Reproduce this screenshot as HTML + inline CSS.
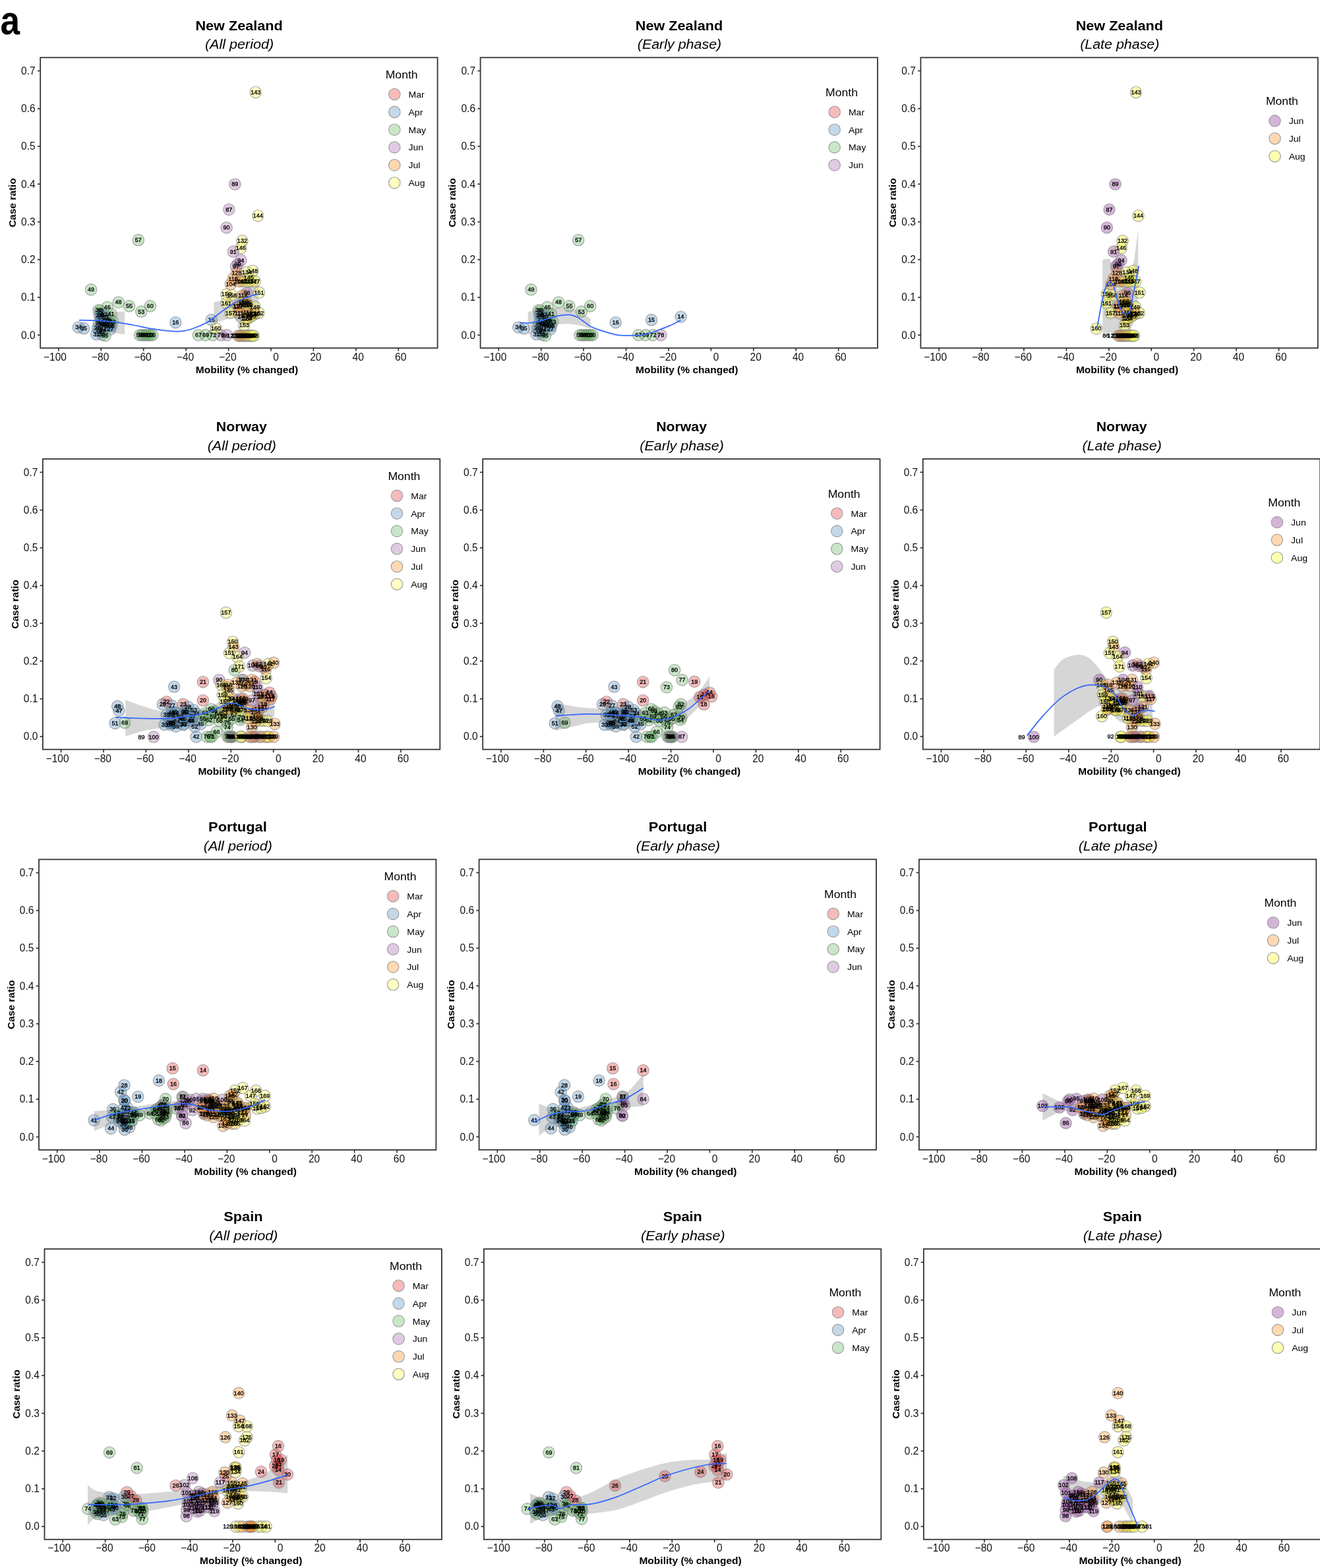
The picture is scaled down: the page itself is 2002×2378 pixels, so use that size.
<!DOCTYPE html><html><head><meta charset="utf-8"><title>Case ratio vs mobility</title>
<style>
html,body{margin:0;padding:0;background:#fff;}
svg{display:block;}
text{font-family:"Liberation Sans",Arial,sans-serif;fill:#000;}
.tt{font-weight:bold;font-size:21px;}
.st{font-style:italic;font-size:20px;}
.ax{font-size:15.8px;fill:#111;}
.at{font-weight:bold;font-size:15.5px;}
.lt{font-size:16px;}
.ll{font-size:13px;}
.pl text{font-size:9px;text-anchor:middle;fill:#000;stroke:#000;stroke-width:0.35px;}
.tk{stroke:#333;stroke-width:1.7;}
</style></head><body>
<svg width="2002" height="2378" viewBox="0 0 2002 2378">
<rect width="2002" height="2378" fill="#fff"/>
<text x="0.5" y="51.8" textLength="29.6" lengthAdjust="spacingAndGlyphs" style="font-weight:bold;font-size:62px">a</text>
<g transform="translate(61.2,87.3)">
<text class="tt" x="301.4" y="-41.3" text-anchor="middle" textLength="132.31" lengthAdjust="spacingAndGlyphs">New Zealand</text>
<text class="st" x="301.9" y="-13.5" text-anchor="middle" textLength="104.32" lengthAdjust="spacingAndGlyphs">(All period)</text>
<path d="M88.8,389.7 L111.4,385.8 L127.8,385.2 L127.8,419.8 L111.4,417.7 L88.8,412.7 Z" fill="#999999" fill-opacity="0.4" stroke="none"/>
<path d="M263.2,370.9 L278.8,367.7 L298.8,356.7 L318.8,344.7 L331.2,335.2 L331.2,386.2 L313.8,390.7 L298.8,394.7 L283.8,396.4 L263.2,403.2 Z" fill="#999999" fill-opacity="0.4" stroke="none"/>
<g stroke="#8a8a8a" stroke-opacity="0.75" stroke-width="1.1">
<circle cx="148.6" cy="276.8" r="8.7" fill="rgb(77,175,74)" fill-opacity="0.3"/>
<circle cx="76.9" cy="352.0" r="8.7" fill="rgb(77,175,74)" fill-opacity="0.3"/>
<circle cx="118.4" cy="371.2" r="8.7" fill="rgb(77,175,74)" fill-opacity="0.3"/>
<circle cx="134.8" cy="377.0" r="8.7" fill="rgb(77,175,74)" fill-opacity="0.3"/>
<circle cx="153.1" cy="385.3" r="8.7" fill="rgb(77,175,74)" fill-opacity="0.3"/>
<circle cx="166.6" cy="377.0" r="8.7" fill="rgb(77,175,74)" fill-opacity="0.3"/>
<circle cx="101.6" cy="378.4" r="8.7" fill="rgb(77,175,74)" fill-opacity="0.3"/>
<circle cx="88.4" cy="383.2" r="8.7" fill="rgb(77,175,74)" fill-opacity="0.3"/>
<circle cx="90.9" cy="383.7" r="8.7" fill="rgb(77,175,74)" fill-opacity="0.3"/>
<circle cx="57.7" cy="409.2" r="8.7" fill="rgb(55,126,184)" fill-opacity="0.3"/>
<circle cx="65.9" cy="410.8" r="8.7" fill="rgb(55,126,184)" fill-opacity="0.3"/>
<circle cx="205.1" cy="401.7" r="8.7" fill="rgb(55,126,184)" fill-opacity="0.3"/>
<circle cx="259.5" cy="397.8" r="8.7" fill="rgb(55,126,184)" fill-opacity="0.3"/>
<circle cx="304.0" cy="393.2" r="8.7" fill="rgb(55,126,184)" fill-opacity="0.3"/>
<circle cx="95.3" cy="404.4" r="8.7" fill="rgb(55,126,184)" fill-opacity="0.3"/>
<circle cx="95.2" cy="412.6" r="8.7" fill="rgb(55,126,184)" fill-opacity="0.3"/>
<circle cx="88.8" cy="403.0" r="8.7" fill="rgb(77,175,74)" fill-opacity="0.3"/>
<circle cx="99.1" cy="393.9" r="8.7" fill="rgb(55,126,184)" fill-opacity="0.3"/>
<circle cx="91.7" cy="391.2" r="8.7" fill="rgb(55,126,184)" fill-opacity="0.3"/>
<circle cx="99.6" cy="405.4" r="8.7" fill="rgb(55,126,184)" fill-opacity="0.3"/>
<circle cx="107.6" cy="407.0" r="8.7" fill="rgb(55,126,184)" fill-opacity="0.3"/>
<circle cx="100.0" cy="406.1" r="8.7" fill="rgb(77,175,74)" fill-opacity="0.3"/>
<circle cx="105.5" cy="405.5" r="8.7" fill="rgb(55,126,184)" fill-opacity="0.3"/>
<circle cx="92.2" cy="405.2" r="8.7" fill="rgb(55,126,184)" fill-opacity="0.3"/>
<circle cx="96.9" cy="406.6" r="8.7" fill="rgb(55,126,184)" fill-opacity="0.3"/>
<circle cx="100.1" cy="400.1" r="8.7" fill="rgb(55,126,184)" fill-opacity="0.3"/>
<circle cx="101.4" cy="397.5" r="8.7" fill="rgb(77,175,74)" fill-opacity="0.3"/>
<circle cx="96.7" cy="389.5" r="8.7" fill="rgb(55,126,184)" fill-opacity="0.3"/>
<circle cx="102.8" cy="399.9" r="8.7" fill="rgb(55,126,184)" fill-opacity="0.3"/>
<circle cx="93.7" cy="415.5" r="8.7" fill="rgb(55,126,184)" fill-opacity="0.3"/>
<circle cx="107.4" cy="388.8" r="8.7" fill="rgb(77,175,74)" fill-opacity="0.3"/>
<circle cx="109.8" cy="400.4" r="8.7" fill="rgb(77,175,74)" fill-opacity="0.3"/>
<circle cx="89.1" cy="412.9" r="8.7" fill="rgb(55,126,184)" fill-opacity="0.3"/>
<circle cx="86.9" cy="410.2" r="8.7" fill="rgb(55,126,184)" fill-opacity="0.3"/>
<circle cx="106.1" cy="411.9" r="8.7" fill="rgb(55,126,184)" fill-opacity="0.3"/>
<circle cx="85.0" cy="419.7" r="8.7" fill="rgb(55,126,184)" fill-opacity="0.3"/>
<circle cx="93.4" cy="420.2" r="8.7" fill="rgb(55,126,184)" fill-opacity="0.3"/>
<circle cx="98.3" cy="421.7" r="8.7" fill="rgb(77,175,74)" fill-opacity="0.3"/>
<circle cx="91.4" cy="397.7" r="8.7" fill="rgb(55,126,184)" fill-opacity="0.3"/>
<circle cx="89.4" cy="390.7" r="8.7" fill="rgb(55,126,184)" fill-opacity="0.3"/>
<circle cx="150.9" cy="421.0" r="8.7" fill="rgb(77,175,74)" fill-opacity="0.3"/>
<circle cx="154.1" cy="421.0" r="8.7" fill="rgb(77,175,74)" fill-opacity="0.3"/>
<circle cx="157.2" cy="421.0" r="8.7" fill="rgb(77,175,74)" fill-opacity="0.3"/>
<circle cx="160.4" cy="421.0" r="8.7" fill="rgb(77,175,74)" fill-opacity="0.3"/>
<circle cx="163.6" cy="421.0" r="8.7" fill="rgb(77,175,74)" fill-opacity="0.3"/>
<circle cx="166.7" cy="421.0" r="8.7" fill="rgb(77,175,74)" fill-opacity="0.3"/>
<circle cx="169.9" cy="421.0" r="8.7" fill="rgb(77,175,74)" fill-opacity="0.3"/>
<circle cx="239.7" cy="421.0" r="8.7" fill="rgb(77,175,74)" fill-opacity="0.3"/>
<circle cx="250.7" cy="421.0" r="8.7" fill="rgb(77,175,74)" fill-opacity="0.3"/>
<circle cx="261.8" cy="421.0" r="8.7" fill="rgb(77,175,74)" fill-opacity="0.3"/>
<circle cx="273.7" cy="421.0" r="8.7" fill="rgb(152,78,163)" fill-opacity="0.3"/>
<circle cx="326.5" cy="52.6" r="8.7" fill="rgb(255,255,51)" fill-opacity="0.3"/>
<circle cx="295.1" cy="192.1" r="8.7" fill="rgb(152,78,163)" fill-opacity="0.3"/>
<circle cx="286.1" cy="230.4" r="8.7" fill="rgb(152,78,163)" fill-opacity="0.3"/>
<circle cx="330.0" cy="239.9" r="8.7" fill="rgb(255,255,51)" fill-opacity="0.3"/>
<circle cx="282.4" cy="257.9" r="8.7" fill="rgb(152,78,163)" fill-opacity="0.3"/>
<circle cx="306.2" cy="278.0" r="8.7" fill="rgb(255,255,51)" fill-opacity="0.3"/>
<circle cx="304.1" cy="288.9" r="8.7" fill="rgb(255,255,51)" fill-opacity="0.3"/>
<circle cx="292.6" cy="294.3" r="8.7" fill="rgb(152,78,163)" fill-opacity="0.3"/>
<circle cx="304.1" cy="307.3" r="8.7" fill="rgb(152,78,163)" fill-opacity="0.3"/>
<circle cx="296.7" cy="316.8" r="8.7" fill="rgb(152,78,163)" fill-opacity="0.3"/>
<circle cx="299.4" cy="313.4" r="8.7" fill="rgb(152,78,163)" fill-opacity="0.3"/>
<circle cx="297.8" cy="326.4" r="8.7" fill="rgb(255,127,0)" fill-opacity="0.3"/>
<circle cx="313.3" cy="325.8" r="8.7" fill="rgb(255,255,51)" fill-opacity="0.3"/>
<circle cx="322.2" cy="323.4" r="8.7" fill="rgb(255,255,51)" fill-opacity="0.3"/>
<circle cx="316.2" cy="333.6" r="8.7" fill="rgb(255,255,51)" fill-opacity="0.3"/>
<circle cx="292.4" cy="335.4" r="8.7" fill="rgb(255,127,0)" fill-opacity="0.3"/>
<circle cx="288.8" cy="343.7" r="8.7" fill="rgb(255,127,0)" fill-opacity="0.3"/>
<circle cx="301.6" cy="339.5" r="8.7" fill="rgb(255,127,0)" fill-opacity="0.3"/>
<circle cx="306.4" cy="339.5" r="8.7" fill="rgb(255,127,0)" fill-opacity="0.3"/>
<circle cx="311.2" cy="339.5" r="8.7" fill="rgb(255,255,51)" fill-opacity="0.3"/>
<circle cx="316.0" cy="339.5" r="8.7" fill="rgb(255,255,51)" fill-opacity="0.3"/>
<circle cx="320.8" cy="339.5" r="8.7" fill="rgb(255,255,51)" fill-opacity="0.3"/>
<circle cx="325.6" cy="339.5" r="8.7" fill="rgb(255,255,51)" fill-opacity="0.3"/>
<circle cx="331.8" cy="356.3" r="8.7" fill="rgb(255,255,51)" fill-opacity="0.3"/>
<circle cx="282.2" cy="359.2" r="8.7" fill="rgb(255,255,51)" fill-opacity="0.3"/>
<circle cx="290.6" cy="360.4" r="8.7" fill="rgb(255,255,51)" fill-opacity="0.3"/>
<circle cx="313.3" cy="356.9" r="8.7" fill="rgb(152,78,163)" fill-opacity="0.3"/>
<circle cx="307.3" cy="360.4" r="8.7" fill="rgb(255,127,0)" fill-opacity="0.3"/>
<circle cx="282.2" cy="372.4" r="8.7" fill="rgb(255,255,51)" fill-opacity="0.3"/>
<circle cx="299.2" cy="377.0" r="8.7" fill="rgb(255,127,0)" fill-opacity="0.3"/>
<circle cx="309.6" cy="374.4" r="8.7" fill="rgb(255,255,51)" fill-opacity="0.3"/>
<circle cx="300.4" cy="378.2" r="8.7" fill="rgb(255,127,0)" fill-opacity="0.3"/>
<circle cx="313.4" cy="374.8" r="8.7" fill="rgb(255,255,51)" fill-opacity="0.3"/>
<circle cx="306.7" cy="371.5" r="8.7" fill="rgb(255,127,0)" fill-opacity="0.3"/>
<circle cx="308.5" cy="369.5" r="8.7" fill="rgb(255,255,51)" fill-opacity="0.3"/>
<circle cx="313.1" cy="371.5" r="8.7" fill="rgb(255,127,0)" fill-opacity="0.3"/>
<circle cx="314.9" cy="376.1" r="8.7" fill="rgb(255,255,51)" fill-opacity="0.3"/>
<circle cx="325.2" cy="378.3" r="8.7" fill="rgb(255,255,51)" fill-opacity="0.3"/>
<circle cx="331.2" cy="387.3" r="8.7" fill="rgb(255,255,51)" fill-opacity="0.3"/>
<circle cx="325.6" cy="388.7" r="8.7" fill="rgb(255,127,0)" fill-opacity="0.3"/>
<circle cx="288.2" cy="387.3" r="8.7" fill="rgb(255,255,51)" fill-opacity="0.3"/>
<circle cx="301.4" cy="387.9" r="8.7" fill="rgb(255,127,0)" fill-opacity="0.3"/>
<circle cx="313.5" cy="390.2" r="8.7" fill="rgb(255,255,51)" fill-opacity="0.3"/>
<circle cx="319.7" cy="389.0" r="8.7" fill="rgb(255,127,0)" fill-opacity="0.3"/>
<circle cx="321.5" cy="389.9" r="8.7" fill="rgb(255,255,51)" fill-opacity="0.3"/>
<circle cx="312.2" cy="396.0" r="8.7" fill="rgb(255,127,0)" fill-opacity="0.3"/>
<circle cx="314.4" cy="395.9" r="8.7" fill="rgb(255,255,51)" fill-opacity="0.3"/>
<circle cx="315.0" cy="387.2" r="8.7" fill="rgb(255,127,0)" fill-opacity="0.3"/>
<circle cx="319.5" cy="392.6" r="8.7" fill="rgb(255,255,51)" fill-opacity="0.3"/>
<circle cx="309.1" cy="405.8" r="8.7" fill="rgb(255,255,51)" fill-opacity="0.3"/>
<circle cx="266.4" cy="411.1" r="8.7" fill="rgb(255,255,51)" fill-opacity="0.3"/>
<circle cx="300.1" cy="421.9" r="8.7" fill="rgb(255,127,0)" fill-opacity="0.3"/>
<circle cx="302.4" cy="421.9" r="8.7" fill="rgb(255,127,0)" fill-opacity="0.3"/>
<circle cx="304.8" cy="421.9" r="8.7" fill="rgb(255,127,0)" fill-opacity="0.3"/>
<circle cx="307.1" cy="421.9" r="8.7" fill="rgb(255,127,0)" fill-opacity="0.3"/>
<circle cx="309.5" cy="421.9" r="8.7" fill="rgb(255,255,51)" fill-opacity="0.3"/>
<circle cx="311.8" cy="421.9" r="8.7" fill="rgb(255,127,0)" fill-opacity="0.3"/>
<circle cx="314.2" cy="421.9" r="8.7" fill="rgb(255,255,51)" fill-opacity="0.3"/>
<circle cx="316.5" cy="421.9" r="8.7" fill="rgb(255,255,51)" fill-opacity="0.3"/>
<circle cx="318.9" cy="421.9" r="8.7" fill="rgb(255,255,51)" fill-opacity="0.3"/>
<circle cx="321.2" cy="421.9" r="8.7" fill="rgb(255,255,51)" fill-opacity="0.3"/>
<circle cx="323.6" cy="421.9" r="8.7" fill="rgb(255,255,51)" fill-opacity="0.3"/>
<circle cx="282.8" cy="421.0" r="8.7" fill="rgb(152,78,163)" fill-opacity="0.3"/>
</g>
<g class="pl">
<text x="148.6" y="279.8">57</text>
<text x="76.9" y="355.0">49</text>
<text x="118.4" y="374.2">48</text>
<text x="134.8" y="380.0">55</text>
<text x="153.1" y="388.3">53</text>
<text x="166.6" y="380.0">60</text>
<text x="101.6" y="381.4">46</text>
<text x="88.4" y="386.2">38</text>
<text x="90.9" y="386.7">39</text>
<text x="57.7" y="412.2">34</text>
<text x="65.9" y="413.8">35</text>
<text x="205.1" y="404.7">16</text>
<text x="259.5" y="400.8">15</text>
<text x="304.0" y="396.2">14</text>
<text x="95.3" y="407.4">69</text>
<text x="95.2" y="415.6">34</text>
<text x="88.8" y="406.0">90</text>
<text x="99.1" y="396.9">67</text>
<text x="91.7" y="394.2">98</text>
<text x="99.6" y="408.4">60</text>
<text x="107.6" y="410.0">88</text>
<text x="100.0" y="409.1">77</text>
<text x="105.5" y="408.5">69</text>
<text x="92.2" y="408.2">35</text>
<text x="96.9" y="409.6">73</text>
<text x="100.1" y="403.1">80</text>
<text x="101.4" y="400.5">39</text>
<text x="96.7" y="392.5">82</text>
<text x="102.8" y="402.9">47</text>
<text x="93.7" y="418.5">97</text>
<text x="107.4" y="391.8">41</text>
<text x="109.8" y="403.4">43</text>
<text x="89.1" y="415.9">20</text>
<text x="86.9" y="413.2">28</text>
<text x="106.1" y="414.9">27</text>
<text x="85.0" y="422.7">31</text>
<text x="93.4" y="423.2">30</text>
<text x="98.3" y="424.7">65</text>
<text x="91.4" y="400.7">22</text>
<text x="89.4" y="393.7">25</text>
<text x="150.9" y="424.0">56</text>
<text x="154.1" y="424.0">58</text>
<text x="157.2" y="424.0">59</text>
<text x="160.4" y="424.0">61</text>
<text x="163.6" y="424.0">62</text>
<text x="166.7" y="424.0">63</text>
<text x="169.9" y="424.0">66</text>
<text x="239.7" y="424.0">67</text>
<text x="250.7" y="424.0">69</text>
<text x="261.8" y="424.0">72</text>
<text x="273.7" y="424.0">78</text>
<text x="326.5" y="55.6">143</text>
<text x="295.1" y="195.1">89</text>
<text x="286.1" y="233.4">87</text>
<text x="330.0" y="242.9">144</text>
<text x="282.4" y="260.9">90</text>
<text x="306.2" y="281.0">132</text>
<text x="304.1" y="291.9">146</text>
<text x="292.6" y="297.3">91</text>
<text x="304.1" y="310.3">94</text>
<text x="296.7" y="319.8">97</text>
<text x="299.4" y="316.4">99</text>
<text x="297.8" y="329.4">128</text>
<text x="313.3" y="328.8">134</text>
<text x="322.2" y="326.4">148</text>
<text x="316.2" y="336.6">145</text>
<text x="292.4" y="338.4">118</text>
<text x="288.8" y="346.7">104</text>
<text x="301.6" y="342.5">106</text>
<text x="306.4" y="342.5">105</text>
<text x="311.2" y="342.5">135</text>
<text x="316.0" y="342.5">139</text>
<text x="320.8" y="342.5">137</text>
<text x="325.6" y="342.5">147</text>
<text x="331.8" y="359.3">151</text>
<text x="282.2" y="362.2">159</text>
<text x="290.6" y="363.4">158</text>
<text x="313.3" y="359.9">96</text>
<text x="307.3" y="363.4">114</text>
<text x="282.2" y="375.4">161</text>
<text x="299.2" y="380.0">110</text>
<text x="309.6" y="377.4">152</text>
<text x="300.4" y="381.2">127</text>
<text x="313.4" y="377.8">155</text>
<text x="306.7" y="374.5">112</text>
<text x="308.5" y="372.5">163</text>
<text x="313.1" y="374.5">125</text>
<text x="314.9" y="379.1">150</text>
<text x="325.2" y="381.3">149</text>
<text x="331.2" y="390.3">162</text>
<text x="325.6" y="391.7">120</text>
<text x="288.2" y="390.3">157</text>
<text x="301.4" y="390.9">111</text>
<text x="313.5" y="393.2">164</text>
<text x="319.7" y="392.0">117</text>
<text x="321.5" y="392.9">156</text>
<text x="312.2" y="399.0">123</text>
<text x="314.4" y="398.9">154</text>
<text x="315.0" y="390.2">119</text>
<text x="319.5" y="395.6">165</text>
<text x="309.1" y="408.8">153</text>
<text x="266.4" y="414.1">160</text>
<text x="280.9" y="424.9">86</text>
<text x="300.1" y="424.9">12</text>
<text x="302.4" y="424.9">108</text>
<text x="304.8" y="424.9">113</text>
<text x="307.1" y="424.9">116</text>
<text x="309.5" y="424.9">138</text>
<text x="311.8" y="424.9">121</text>
<text x="314.2" y="424.9">140</text>
<text x="316.5" y="424.9">141</text>
<text x="318.9" y="424.9">166</text>
<text x="321.2" y="424.9">167</text>
<text x="323.6" y="424.9">168</text>
<text x="288.1" y="424.9">12</text>
<text x="296.6" y="424.9">179</text>
<text x="298.8" y="424.9">132</text>
<text x="301.0" y="424.9">145</text>
<text x="303.2" y="424.9">188</text>
<text x="305.4" y="424.9">183</text>
<text x="307.6" y="424.9">167</text>
<text x="309.8" y="424.9">103</text>
<text x="312.0" y="424.9">159</text>
<text x="314.2" y="424.9">131</text>
<text x="316.4" y="424.9">183</text>
<text x="318.6" y="424.9">106</text>
<text x="320.8" y="424.9">120</text>
</g>
<path d="M59.0,398.3 C63.2,398.4 75.3,398.4 84.2,398.9 C93.1,399.4 103.1,400.0 112.5,401.1 C121.9,402.2 131.4,404.0 140.8,405.7 C150.2,407.4 158.8,409.7 169.2,411.3 C179.6,412.9 194.7,414.8 203.2,415.3 C211.7,415.8 215.0,415.1 220.2,414.2 C225.4,413.3 228.8,412.1 234.3,410.0 C239.8,407.9 247.3,404.8 253.0,401.5 C258.7,398.2 262.9,394.5 268.3,390.5 C273.7,386.5 279.6,381.4 285.3,377.7 C291.0,374.0 296.6,371.1 302.3,368.4 C308.0,365.7 314.5,363.2 319.3,361.6 C324.1,360.0 329.2,359.1 331.2,358.6" fill="none" stroke="#3366FF" stroke-width="1.7"/>
<rect x="0" y="0" width="602.4" height="440.5" fill="none" stroke="#333" stroke-width="1.8"/>
<line x1="-4.3" x2="0" y1="420.9" y2="420.9" class="tk"/>
<text class="ax" x="-7.6" y="426.3" text-anchor="end" textLength="21.55" lengthAdjust="spacingAndGlyphs">0.0</text>
<line x1="-4.3" x2="0" y1="363.7" y2="363.7" class="tk"/>
<text class="ax" x="-7.6" y="369.1" text-anchor="end" textLength="21.55" lengthAdjust="spacingAndGlyphs">0.1</text>
<line x1="-4.3" x2="0" y1="306.4" y2="306.4" class="tk"/>
<text class="ax" x="-7.6" y="311.8" text-anchor="end" textLength="21.55" lengthAdjust="spacingAndGlyphs">0.2</text>
<line x1="-4.3" x2="0" y1="249.2" y2="249.2" class="tk"/>
<text class="ax" x="-7.6" y="254.6" text-anchor="end" textLength="21.55" lengthAdjust="spacingAndGlyphs">0.3</text>
<line x1="-4.3" x2="0" y1="191.9" y2="191.9" class="tk"/>
<text class="ax" x="-7.6" y="197.3" text-anchor="end" textLength="21.55" lengthAdjust="spacingAndGlyphs">0.4</text>
<line x1="-4.3" x2="0" y1="134.7" y2="134.7" class="tk"/>
<text class="ax" x="-7.6" y="140.1" text-anchor="end" textLength="21.55" lengthAdjust="spacingAndGlyphs">0.5</text>
<line x1="-4.3" x2="0" y1="77.5" y2="77.5" class="tk"/>
<text class="ax" x="-7.6" y="82.9" text-anchor="end" textLength="21.55" lengthAdjust="spacingAndGlyphs">0.6</text>
<line x1="-4.3" x2="0" y1="20.2" y2="20.2" class="tk"/>
<text class="ax" x="-7.6" y="25.6" text-anchor="end" textLength="21.55" lengthAdjust="spacingAndGlyphs">0.7</text>
<line x1="27.7" x2="27.7" y1="440.5" y2="445.1" class="tk"/>
<text class="ax" x="39.7" y="459.4" text-anchor="end" textLength="34.91" lengthAdjust="spacingAndGlyphs">−100</text>
<line x1="92.1" x2="92.1" y1="440.5" y2="445.1" class="tk"/>
<text class="ax" x="104.1" y="459.4" text-anchor="end" textLength="26.29" lengthAdjust="spacingAndGlyphs">−80</text>
<line x1="156.5" x2="156.5" y1="440.5" y2="445.1" class="tk"/>
<text class="ax" x="168.5" y="459.4" text-anchor="end" textLength="26.29" lengthAdjust="spacingAndGlyphs">−60</text>
<line x1="221.0" x2="221.0" y1="440.5" y2="445.1" class="tk"/>
<text class="ax" x="233.0" y="459.4" text-anchor="end" textLength="26.29" lengthAdjust="spacingAndGlyphs">−40</text>
<line x1="285.4" x2="285.4" y1="440.5" y2="445.1" class="tk"/>
<text class="ax" x="297.4" y="459.4" text-anchor="end" textLength="26.29" lengthAdjust="spacingAndGlyphs">−20</text>
<line x1="349.8" x2="349.8" y1="440.5" y2="445.1" class="tk"/>
<text class="ax" x="361.8" y="459.4" text-anchor="end" textLength="8.62" lengthAdjust="spacingAndGlyphs">0</text>
<line x1="414.2" x2="414.2" y1="440.5" y2="445.1" class="tk"/>
<text class="ax" x="426.2" y="459.4" text-anchor="end" textLength="17.24" lengthAdjust="spacingAndGlyphs">20</text>
<line x1="478.6" x2="478.6" y1="440.5" y2="445.1" class="tk"/>
<text class="ax" x="490.6" y="459.4" text-anchor="end" textLength="17.24" lengthAdjust="spacingAndGlyphs">40</text>
<line x1="543.1" x2="543.1" y1="440.5" y2="445.1" class="tk"/>
<text class="ax" x="555.1" y="459.4" text-anchor="end" textLength="17.24" lengthAdjust="spacingAndGlyphs">60</text>
<text class="at" x="313.2" y="478.4" text-anchor="middle" textLength="155.36" lengthAdjust="spacingAndGlyphs">Mobility (% changed)</text>
<text class="at" transform="translate(-37.2,220.2) rotate(-90)" text-anchor="middle" textLength="74.70" lengthAdjust="spacingAndGlyphs">Case ratio</text>
<text class="lt" x="523.5" y="31.7" textLength="48.93" lengthAdjust="spacingAndGlyphs">Month</text>
<circle cx="537.1" cy="55.7" r="8.7" fill="rgb(228,26,28)" fill-opacity="0.3" stroke="#a0a0a0" stroke-width="1.2"/>
<text class="ll" x="558.3" y="60.7" textLength="24.18" lengthAdjust="spacingAndGlyphs">Mar</text>
<circle cx="537.1" cy="82.6" r="8.7" fill="rgb(55,126,184)" fill-opacity="0.3" stroke="#a0a0a0" stroke-width="1.2"/>
<text class="ll" x="558.3" y="87.6" textLength="21.85" lengthAdjust="spacingAndGlyphs">Apr</text>
<circle cx="537.1" cy="109.4" r="8.7" fill="rgb(77,175,74)" fill-opacity="0.3" stroke="#a0a0a0" stroke-width="1.2"/>
<text class="ll" x="558.3" y="114.4" textLength="26.52" lengthAdjust="spacingAndGlyphs">May</text>
<circle cx="537.1" cy="136.2" r="8.7" fill="rgb(152,78,163)" fill-opacity="0.3" stroke="#a0a0a0" stroke-width="1.2"/>
<text class="ll" x="558.3" y="141.2" textLength="22.64" lengthAdjust="spacingAndGlyphs">Jun</text>
<circle cx="537.1" cy="163.1" r="8.7" fill="rgb(255,127,0)" fill-opacity="0.3" stroke="#a0a0a0" stroke-width="1.2"/>
<text class="ll" x="558.3" y="168.1" textLength="17.95" lengthAdjust="spacingAndGlyphs">Jul</text>
<circle cx="537.1" cy="189.9" r="8.7" fill="rgb(255,255,51)" fill-opacity="0.3" stroke="#a0a0a0" stroke-width="1.2"/>
<text class="ll" x="558.3" y="194.9" textLength="24.98" lengthAdjust="spacingAndGlyphs">Aug</text>
</g>
<g transform="translate(728.6,87.3)">
<text class="tt" x="301.4" y="-41.3" text-anchor="middle" textLength="132.31" lengthAdjust="spacingAndGlyphs">New Zealand</text>
<text class="st" x="301.9" y="-13.5" text-anchor="middle" textLength="127.51" lengthAdjust="spacingAndGlyphs">(Early phase)</text>
<path d="M72.1,385.7 C74.5,385.2 81.5,383.5 86.4,382.7 C91.3,381.9 95.6,381.4 101.4,380.7 C107.2,380.0 115.9,378.9 121.4,378.7 C126.9,378.5 129.4,378.5 134.4,379.7 C139.4,380.9 145.9,382.9 151.4,385.7 C156.8,388.5 164.5,394.7 167.1,396.5 L167.1,411.2 C164.5,410.4 156.8,407.9 151.4,406.7 C145.9,405.5 141.1,404.2 134.4,404.0 C127.7,403.8 118.6,404.2 111.4,405.7 C104.2,407.1 97.9,410.2 91.4,412.7 C84.8,415.1 75.3,419.1 72.1,420.4 Z" fill="#999999" fill-opacity="0.4" stroke="none"/>
<g stroke="#8a8a8a" stroke-opacity="0.75" stroke-width="1.1">
<circle cx="148.6" cy="276.8" r="8.7" fill="rgb(77,175,74)" fill-opacity="0.3"/>
<circle cx="76.9" cy="352.0" r="8.7" fill="rgb(77,175,74)" fill-opacity="0.3"/>
<circle cx="118.4" cy="371.2" r="8.7" fill="rgb(77,175,74)" fill-opacity="0.3"/>
<circle cx="134.8" cy="377.0" r="8.7" fill="rgb(77,175,74)" fill-opacity="0.3"/>
<circle cx="153.1" cy="385.3" r="8.7" fill="rgb(77,175,74)" fill-opacity="0.3"/>
<circle cx="166.6" cy="377.0" r="8.7" fill="rgb(77,175,74)" fill-opacity="0.3"/>
<circle cx="101.6" cy="378.4" r="8.7" fill="rgb(77,175,74)" fill-opacity="0.3"/>
<circle cx="88.4" cy="383.2" r="8.7" fill="rgb(77,175,74)" fill-opacity="0.3"/>
<circle cx="90.9" cy="383.7" r="8.7" fill="rgb(77,175,74)" fill-opacity="0.3"/>
<circle cx="57.7" cy="409.2" r="8.7" fill="rgb(55,126,184)" fill-opacity="0.3"/>
<circle cx="65.9" cy="410.8" r="8.7" fill="rgb(55,126,184)" fill-opacity="0.3"/>
<circle cx="205.1" cy="401.7" r="8.7" fill="rgb(55,126,184)" fill-opacity="0.3"/>
<circle cx="259.5" cy="397.8" r="8.7" fill="rgb(55,126,184)" fill-opacity="0.3"/>
<circle cx="304.0" cy="393.2" r="8.7" fill="rgb(55,126,184)" fill-opacity="0.3"/>
<circle cx="95.3" cy="404.4" r="8.7" fill="rgb(55,126,184)" fill-opacity="0.3"/>
<circle cx="95.2" cy="412.6" r="8.7" fill="rgb(55,126,184)" fill-opacity="0.3"/>
<circle cx="88.8" cy="403.0" r="8.7" fill="rgb(77,175,74)" fill-opacity="0.3"/>
<circle cx="99.1" cy="393.9" r="8.7" fill="rgb(55,126,184)" fill-opacity="0.3"/>
<circle cx="91.7" cy="391.2" r="8.7" fill="rgb(55,126,184)" fill-opacity="0.3"/>
<circle cx="99.6" cy="405.4" r="8.7" fill="rgb(55,126,184)" fill-opacity="0.3"/>
<circle cx="107.6" cy="407.0" r="8.7" fill="rgb(55,126,184)" fill-opacity="0.3"/>
<circle cx="100.0" cy="406.1" r="8.7" fill="rgb(77,175,74)" fill-opacity="0.3"/>
<circle cx="105.5" cy="405.5" r="8.7" fill="rgb(55,126,184)" fill-opacity="0.3"/>
<circle cx="92.2" cy="405.2" r="8.7" fill="rgb(55,126,184)" fill-opacity="0.3"/>
<circle cx="96.9" cy="406.6" r="8.7" fill="rgb(55,126,184)" fill-opacity="0.3"/>
<circle cx="100.1" cy="400.1" r="8.7" fill="rgb(55,126,184)" fill-opacity="0.3"/>
<circle cx="101.4" cy="397.5" r="8.7" fill="rgb(77,175,74)" fill-opacity="0.3"/>
<circle cx="96.7" cy="389.5" r="8.7" fill="rgb(55,126,184)" fill-opacity="0.3"/>
<circle cx="102.8" cy="399.9" r="8.7" fill="rgb(55,126,184)" fill-opacity="0.3"/>
<circle cx="93.7" cy="415.5" r="8.7" fill="rgb(55,126,184)" fill-opacity="0.3"/>
<circle cx="107.4" cy="388.8" r="8.7" fill="rgb(77,175,74)" fill-opacity="0.3"/>
<circle cx="109.8" cy="400.4" r="8.7" fill="rgb(77,175,74)" fill-opacity="0.3"/>
<circle cx="89.1" cy="412.9" r="8.7" fill="rgb(55,126,184)" fill-opacity="0.3"/>
<circle cx="86.9" cy="410.2" r="8.7" fill="rgb(55,126,184)" fill-opacity="0.3"/>
<circle cx="106.1" cy="411.9" r="8.7" fill="rgb(55,126,184)" fill-opacity="0.3"/>
<circle cx="85.0" cy="419.7" r="8.7" fill="rgb(55,126,184)" fill-opacity="0.3"/>
<circle cx="93.4" cy="420.2" r="8.7" fill="rgb(55,126,184)" fill-opacity="0.3"/>
<circle cx="98.3" cy="421.7" r="8.7" fill="rgb(77,175,74)" fill-opacity="0.3"/>
<circle cx="91.4" cy="397.7" r="8.7" fill="rgb(55,126,184)" fill-opacity="0.3"/>
<circle cx="89.4" cy="390.7" r="8.7" fill="rgb(55,126,184)" fill-opacity="0.3"/>
<circle cx="150.9" cy="421.0" r="8.7" fill="rgb(77,175,74)" fill-opacity="0.3"/>
<circle cx="154.1" cy="421.0" r="8.7" fill="rgb(77,175,74)" fill-opacity="0.3"/>
<circle cx="157.2" cy="421.0" r="8.7" fill="rgb(77,175,74)" fill-opacity="0.3"/>
<circle cx="160.4" cy="421.0" r="8.7" fill="rgb(77,175,74)" fill-opacity="0.3"/>
<circle cx="163.6" cy="421.0" r="8.7" fill="rgb(77,175,74)" fill-opacity="0.3"/>
<circle cx="166.7" cy="421.0" r="8.7" fill="rgb(77,175,74)" fill-opacity="0.3"/>
<circle cx="169.9" cy="421.0" r="8.7" fill="rgb(77,175,74)" fill-opacity="0.3"/>
<circle cx="239.7" cy="421.0" r="8.7" fill="rgb(77,175,74)" fill-opacity="0.3"/>
<circle cx="250.7" cy="421.0" r="8.7" fill="rgb(77,175,74)" fill-opacity="0.3"/>
<circle cx="261.8" cy="421.0" r="8.7" fill="rgb(77,175,74)" fill-opacity="0.3"/>
<circle cx="273.7" cy="421.0" r="8.7" fill="rgb(152,78,163)" fill-opacity="0.3"/>
</g>
<g class="pl">
<text x="148.6" y="279.8">57</text>
<text x="76.9" y="355.0">49</text>
<text x="118.4" y="374.2">48</text>
<text x="134.8" y="380.0">55</text>
<text x="153.1" y="388.3">53</text>
<text x="166.6" y="380.0">60</text>
<text x="101.6" y="381.4">46</text>
<text x="88.4" y="386.2">38</text>
<text x="90.9" y="386.7">39</text>
<text x="57.7" y="412.2">34</text>
<text x="65.9" y="413.8">35</text>
<text x="205.1" y="404.7">16</text>
<text x="259.5" y="400.8">15</text>
<text x="304.0" y="396.2">14</text>
<text x="95.3" y="407.4">69</text>
<text x="95.2" y="415.6">34</text>
<text x="88.8" y="406.0">90</text>
<text x="99.1" y="396.9">67</text>
<text x="91.7" y="394.2">98</text>
<text x="99.6" y="408.4">60</text>
<text x="107.6" y="410.0">88</text>
<text x="100.0" y="409.1">77</text>
<text x="105.5" y="408.5">69</text>
<text x="92.2" y="408.2">35</text>
<text x="96.9" y="409.6">73</text>
<text x="100.1" y="403.1">80</text>
<text x="101.4" y="400.5">39</text>
<text x="96.7" y="392.5">82</text>
<text x="102.8" y="402.9">47</text>
<text x="93.7" y="418.5">97</text>
<text x="107.4" y="391.8">41</text>
<text x="109.8" y="403.4">43</text>
<text x="89.1" y="415.9">20</text>
<text x="86.9" y="413.2">28</text>
<text x="106.1" y="414.9">27</text>
<text x="85.0" y="422.7">31</text>
<text x="93.4" y="423.2">30</text>
<text x="98.3" y="424.7">65</text>
<text x="91.4" y="400.7">22</text>
<text x="89.4" y="393.7">25</text>
<text x="150.9" y="424.0">56</text>
<text x="154.1" y="424.0">58</text>
<text x="157.2" y="424.0">59</text>
<text x="160.4" y="424.0">61</text>
<text x="163.6" y="424.0">62</text>
<text x="166.7" y="424.0">63</text>
<text x="169.9" y="424.0">66</text>
<text x="239.7" y="424.0">67</text>
<text x="250.7" y="424.0">69</text>
<text x="261.8" y="424.0">72</text>
<text x="273.7" y="424.0">78</text>
</g>
<path d="M59.6,402.1 C62.8,402.1 72.5,402.9 78.9,402.1 C85.3,401.3 91.7,399.0 98.1,397.3 C104.5,395.6 111.3,393.1 117.4,391.9 C123.5,390.7 130.0,389.8 134.8,390.1 C139.6,390.3 142.4,391.6 146.3,393.4 C150.1,395.2 154.4,398.7 157.9,401.1 C161.4,403.5 163.0,405.6 167.5,407.9 C172.0,410.1 178.8,412.6 184.9,414.6 C191.0,416.6 199.4,418.9 204.2,420.0 C209.0,421.1 209.0,421.2 213.8,421.4 C218.6,421.6 226.7,421.7 233.1,421.4 C239.5,421.1 246.0,420.8 252.4,419.4 C258.8,417.9 265.2,415.1 271.6,412.7 C278.0,410.3 285.5,407.4 290.9,405.0 C296.3,402.6 301.8,399.3 304.0,398.2" fill="none" stroke="#3366FF" stroke-width="1.7"/>
<rect x="0" y="0" width="602.4" height="440.5" fill="none" stroke="#333" stroke-width="1.8"/>
<line x1="-4.3" x2="0" y1="420.9" y2="420.9" class="tk"/>
<text class="ax" x="-7.6" y="426.3" text-anchor="end" textLength="21.55" lengthAdjust="spacingAndGlyphs">0.0</text>
<line x1="-4.3" x2="0" y1="363.7" y2="363.7" class="tk"/>
<text class="ax" x="-7.6" y="369.1" text-anchor="end" textLength="21.55" lengthAdjust="spacingAndGlyphs">0.1</text>
<line x1="-4.3" x2="0" y1="306.4" y2="306.4" class="tk"/>
<text class="ax" x="-7.6" y="311.8" text-anchor="end" textLength="21.55" lengthAdjust="spacingAndGlyphs">0.2</text>
<line x1="-4.3" x2="0" y1="249.2" y2="249.2" class="tk"/>
<text class="ax" x="-7.6" y="254.6" text-anchor="end" textLength="21.55" lengthAdjust="spacingAndGlyphs">0.3</text>
<line x1="-4.3" x2="0" y1="191.9" y2="191.9" class="tk"/>
<text class="ax" x="-7.6" y="197.3" text-anchor="end" textLength="21.55" lengthAdjust="spacingAndGlyphs">0.4</text>
<line x1="-4.3" x2="0" y1="134.7" y2="134.7" class="tk"/>
<text class="ax" x="-7.6" y="140.1" text-anchor="end" textLength="21.55" lengthAdjust="spacingAndGlyphs">0.5</text>
<line x1="-4.3" x2="0" y1="77.5" y2="77.5" class="tk"/>
<text class="ax" x="-7.6" y="82.9" text-anchor="end" textLength="21.55" lengthAdjust="spacingAndGlyphs">0.6</text>
<line x1="-4.3" x2="0" y1="20.2" y2="20.2" class="tk"/>
<text class="ax" x="-7.6" y="25.6" text-anchor="end" textLength="21.55" lengthAdjust="spacingAndGlyphs">0.7</text>
<line x1="27.7" x2="27.7" y1="440.5" y2="445.1" class="tk"/>
<text class="ax" x="39.7" y="459.4" text-anchor="end" textLength="34.91" lengthAdjust="spacingAndGlyphs">−100</text>
<line x1="92.1" x2="92.1" y1="440.5" y2="445.1" class="tk"/>
<text class="ax" x="104.1" y="459.4" text-anchor="end" textLength="26.29" lengthAdjust="spacingAndGlyphs">−80</text>
<line x1="156.5" x2="156.5" y1="440.5" y2="445.1" class="tk"/>
<text class="ax" x="168.5" y="459.4" text-anchor="end" textLength="26.29" lengthAdjust="spacingAndGlyphs">−60</text>
<line x1="221.0" x2="221.0" y1="440.5" y2="445.1" class="tk"/>
<text class="ax" x="233.0" y="459.4" text-anchor="end" textLength="26.29" lengthAdjust="spacingAndGlyphs">−40</text>
<line x1="285.4" x2="285.4" y1="440.5" y2="445.1" class="tk"/>
<text class="ax" x="297.4" y="459.4" text-anchor="end" textLength="26.29" lengthAdjust="spacingAndGlyphs">−20</text>
<line x1="349.8" x2="349.8" y1="440.5" y2="445.1" class="tk"/>
<text class="ax" x="361.8" y="459.4" text-anchor="end" textLength="8.62" lengthAdjust="spacingAndGlyphs">0</text>
<line x1="414.2" x2="414.2" y1="440.5" y2="445.1" class="tk"/>
<text class="ax" x="426.2" y="459.4" text-anchor="end" textLength="17.24" lengthAdjust="spacingAndGlyphs">20</text>
<line x1="478.6" x2="478.6" y1="440.5" y2="445.1" class="tk"/>
<text class="ax" x="490.6" y="459.4" text-anchor="end" textLength="17.24" lengthAdjust="spacingAndGlyphs">40</text>
<line x1="543.1" x2="543.1" y1="440.5" y2="445.1" class="tk"/>
<text class="ax" x="555.1" y="459.4" text-anchor="end" textLength="17.24" lengthAdjust="spacingAndGlyphs">60</text>
<text class="at" x="313.2" y="478.4" text-anchor="middle" textLength="155.36" lengthAdjust="spacingAndGlyphs">Mobility (% changed)</text>
<text class="at" transform="translate(-37.2,220.2) rotate(-90)" text-anchor="middle" textLength="74.70" lengthAdjust="spacingAndGlyphs">Case ratio</text>
<text class="lt" x="523.5" y="58.5" textLength="48.93" lengthAdjust="spacingAndGlyphs">Month</text>
<circle cx="537.1" cy="82.6" r="8.7" fill="rgb(228,26,28)" fill-opacity="0.3" stroke="#a0a0a0" stroke-width="1.2"/>
<text class="ll" x="558.3" y="87.6" textLength="24.18" lengthAdjust="spacingAndGlyphs">Mar</text>
<circle cx="537.1" cy="109.4" r="8.7" fill="rgb(55,126,184)" fill-opacity="0.3" stroke="#a0a0a0" stroke-width="1.2"/>
<text class="ll" x="558.3" y="114.4" textLength="21.85" lengthAdjust="spacingAndGlyphs">Apr</text>
<circle cx="537.1" cy="136.2" r="8.7" fill="rgb(77,175,74)" fill-opacity="0.3" stroke="#a0a0a0" stroke-width="1.2"/>
<text class="ll" x="558.3" y="141.2" textLength="26.52" lengthAdjust="spacingAndGlyphs">May</text>
<circle cx="537.1" cy="163.1" r="8.7" fill="rgb(152,78,163)" fill-opacity="0.3" stroke="#a0a0a0" stroke-width="1.2"/>
<text class="ll" x="558.3" y="168.1" textLength="22.64" lengthAdjust="spacingAndGlyphs">Jun</text>
</g>
<g transform="translate(1396.4,87.3)">
<text class="tt" x="301.4" y="-41.3" text-anchor="middle" textLength="132.31" lengthAdjust="spacingAndGlyphs">New Zealand</text>
<text class="st" x="301.9" y="-13.5" text-anchor="middle" textLength="120.21" lengthAdjust="spacingAndGlyphs">(Late phase)</text>
<path d="M275.8,306.7 L285.6,304.7 L293.6,317.7 L303.6,337.7 L315.6,332.7 L323.6,307.7 L329.9,260.3 L329.9,382.7 L318.6,412.7 L303.6,417.7 L275.8,417.7 Z" fill="#999999" fill-opacity="0.4" stroke="none"/>
<g stroke="#8a8a8a" stroke-opacity="0.75" stroke-width="1.1">
<circle cx="326.5" cy="52.6" r="8.7" fill="rgb(255,255,51)" fill-opacity="0.38"/>
<circle cx="295.1" cy="192.1" r="8.7" fill="rgb(152,78,163)" fill-opacity="0.42"/>
<circle cx="286.1" cy="230.4" r="8.7" fill="rgb(152,78,163)" fill-opacity="0.42"/>
<circle cx="330.0" cy="239.9" r="8.7" fill="rgb(255,255,51)" fill-opacity="0.38"/>
<circle cx="282.4" cy="257.9" r="8.7" fill="rgb(152,78,163)" fill-opacity="0.42"/>
<circle cx="306.2" cy="278.0" r="8.7" fill="rgb(255,255,51)" fill-opacity="0.38"/>
<circle cx="304.1" cy="288.9" r="8.7" fill="rgb(255,255,51)" fill-opacity="0.38"/>
<circle cx="292.6" cy="294.3" r="8.7" fill="rgb(152,78,163)" fill-opacity="0.42"/>
<circle cx="304.1" cy="307.3" r="8.7" fill="rgb(152,78,163)" fill-opacity="0.42"/>
<circle cx="296.7" cy="316.8" r="8.7" fill="rgb(152,78,163)" fill-opacity="0.42"/>
<circle cx="299.4" cy="313.4" r="8.7" fill="rgb(152,78,163)" fill-opacity="0.42"/>
<circle cx="297.8" cy="326.4" r="8.7" fill="rgb(255,127,0)" fill-opacity="0.3"/>
<circle cx="313.3" cy="325.8" r="8.7" fill="rgb(255,255,51)" fill-opacity="0.38"/>
<circle cx="322.2" cy="323.4" r="8.7" fill="rgb(255,255,51)" fill-opacity="0.38"/>
<circle cx="316.2" cy="333.6" r="8.7" fill="rgb(255,255,51)" fill-opacity="0.38"/>
<circle cx="292.4" cy="335.4" r="8.7" fill="rgb(255,127,0)" fill-opacity="0.3"/>
<circle cx="288.8" cy="343.7" r="8.7" fill="rgb(255,127,0)" fill-opacity="0.3"/>
<circle cx="301.6" cy="339.5" r="8.7" fill="rgb(255,127,0)" fill-opacity="0.3"/>
<circle cx="306.4" cy="339.5" r="8.7" fill="rgb(255,127,0)" fill-opacity="0.3"/>
<circle cx="311.2" cy="339.5" r="8.7" fill="rgb(255,255,51)" fill-opacity="0.38"/>
<circle cx="316.0" cy="339.5" r="8.7" fill="rgb(255,255,51)" fill-opacity="0.38"/>
<circle cx="320.8" cy="339.5" r="8.7" fill="rgb(255,255,51)" fill-opacity="0.38"/>
<circle cx="325.6" cy="339.5" r="8.7" fill="rgb(255,255,51)" fill-opacity="0.38"/>
<circle cx="331.8" cy="356.3" r="8.7" fill="rgb(255,255,51)" fill-opacity="0.38"/>
<circle cx="282.2" cy="359.2" r="8.7" fill="rgb(255,255,51)" fill-opacity="0.38"/>
<circle cx="290.6" cy="360.4" r="8.7" fill="rgb(255,255,51)" fill-opacity="0.38"/>
<circle cx="313.3" cy="356.9" r="8.7" fill="rgb(152,78,163)" fill-opacity="0.42"/>
<circle cx="307.3" cy="360.4" r="8.7" fill="rgb(255,127,0)" fill-opacity="0.3"/>
<circle cx="282.2" cy="372.4" r="8.7" fill="rgb(255,255,51)" fill-opacity="0.38"/>
<circle cx="299.2" cy="377.0" r="8.7" fill="rgb(255,127,0)" fill-opacity="0.3"/>
<circle cx="309.6" cy="374.4" r="8.7" fill="rgb(255,255,51)" fill-opacity="0.38"/>
<circle cx="300.4" cy="378.2" r="8.7" fill="rgb(255,127,0)" fill-opacity="0.3"/>
<circle cx="313.4" cy="374.8" r="8.7" fill="rgb(255,255,51)" fill-opacity="0.38"/>
<circle cx="306.7" cy="371.5" r="8.7" fill="rgb(255,127,0)" fill-opacity="0.3"/>
<circle cx="308.5" cy="369.5" r="8.7" fill="rgb(255,255,51)" fill-opacity="0.38"/>
<circle cx="313.1" cy="371.5" r="8.7" fill="rgb(255,127,0)" fill-opacity="0.3"/>
<circle cx="314.9" cy="376.1" r="8.7" fill="rgb(255,255,51)" fill-opacity="0.38"/>
<circle cx="325.2" cy="378.3" r="8.7" fill="rgb(255,255,51)" fill-opacity="0.38"/>
<circle cx="331.2" cy="387.3" r="8.7" fill="rgb(255,255,51)" fill-opacity="0.38"/>
<circle cx="325.6" cy="388.7" r="8.7" fill="rgb(255,127,0)" fill-opacity="0.3"/>
<circle cx="288.2" cy="387.3" r="8.7" fill="rgb(255,255,51)" fill-opacity="0.38"/>
<circle cx="301.4" cy="387.9" r="8.7" fill="rgb(255,127,0)" fill-opacity="0.3"/>
<circle cx="313.5" cy="390.2" r="8.7" fill="rgb(255,255,51)" fill-opacity="0.38"/>
<circle cx="319.7" cy="389.0" r="8.7" fill="rgb(255,127,0)" fill-opacity="0.3"/>
<circle cx="321.5" cy="389.9" r="8.7" fill="rgb(255,255,51)" fill-opacity="0.38"/>
<circle cx="312.2" cy="396.0" r="8.7" fill="rgb(255,127,0)" fill-opacity="0.3"/>
<circle cx="314.4" cy="395.9" r="8.7" fill="rgb(255,255,51)" fill-opacity="0.38"/>
<circle cx="315.0" cy="387.2" r="8.7" fill="rgb(255,127,0)" fill-opacity="0.3"/>
<circle cx="319.5" cy="392.6" r="8.7" fill="rgb(255,255,51)" fill-opacity="0.38"/>
<circle cx="309.1" cy="405.8" r="8.7" fill="rgb(255,255,51)" fill-opacity="0.38"/>
<circle cx="266.4" cy="411.1" r="8.7" fill="rgb(255,255,51)" fill-opacity="0.38"/>
<circle cx="300.1" cy="421.9" r="8.7" fill="rgb(255,127,0)" fill-opacity="0.3"/>
<circle cx="302.4" cy="421.9" r="8.7" fill="rgb(255,127,0)" fill-opacity="0.3"/>
<circle cx="304.8" cy="421.9" r="8.7" fill="rgb(255,127,0)" fill-opacity="0.3"/>
<circle cx="307.1" cy="421.9" r="8.7" fill="rgb(255,127,0)" fill-opacity="0.3"/>
<circle cx="309.5" cy="421.9" r="8.7" fill="rgb(255,255,51)" fill-opacity="0.38"/>
<circle cx="311.8" cy="421.9" r="8.7" fill="rgb(255,127,0)" fill-opacity="0.3"/>
<circle cx="314.2" cy="421.9" r="8.7" fill="rgb(255,255,51)" fill-opacity="0.38"/>
<circle cx="316.5" cy="421.9" r="8.7" fill="rgb(255,255,51)" fill-opacity="0.38"/>
<circle cx="318.9" cy="421.9" r="8.7" fill="rgb(255,255,51)" fill-opacity="0.38"/>
<circle cx="321.2" cy="421.9" r="8.7" fill="rgb(255,255,51)" fill-opacity="0.38"/>
<circle cx="323.6" cy="421.9" r="8.7" fill="rgb(255,255,51)" fill-opacity="0.38"/>
</g>
<g class="pl">
<text x="326.5" y="55.6">143</text>
<text x="295.1" y="195.1">89</text>
<text x="286.1" y="233.4">87</text>
<text x="330.0" y="242.9">144</text>
<text x="282.4" y="260.9">90</text>
<text x="306.2" y="281.0">132</text>
<text x="304.1" y="291.9">146</text>
<text x="292.6" y="297.3">91</text>
<text x="304.1" y="310.3">94</text>
<text x="296.7" y="319.8">97</text>
<text x="299.4" y="316.4">99</text>
<text x="297.8" y="329.4">128</text>
<text x="313.3" y="328.8">134</text>
<text x="322.2" y="326.4">148</text>
<text x="316.2" y="336.6">145</text>
<text x="292.4" y="338.4">118</text>
<text x="288.8" y="346.7">104</text>
<text x="301.6" y="342.5">106</text>
<text x="306.4" y="342.5">105</text>
<text x="311.2" y="342.5">135</text>
<text x="316.0" y="342.5">139</text>
<text x="320.8" y="342.5">137</text>
<text x="325.6" y="342.5">147</text>
<text x="331.8" y="359.3">151</text>
<text x="282.2" y="362.2">159</text>
<text x="290.6" y="363.4">158</text>
<text x="313.3" y="359.9">96</text>
<text x="307.3" y="363.4">114</text>
<text x="282.2" y="375.4">161</text>
<text x="299.2" y="380.0">110</text>
<text x="309.6" y="377.4">152</text>
<text x="300.4" y="381.2">127</text>
<text x="313.4" y="377.8">155</text>
<text x="306.7" y="374.5">112</text>
<text x="308.5" y="372.5">163</text>
<text x="313.1" y="374.5">125</text>
<text x="314.9" y="379.1">150</text>
<text x="325.2" y="381.3">149</text>
<text x="331.2" y="390.3">162</text>
<text x="325.6" y="391.7">120</text>
<text x="288.2" y="390.3">157</text>
<text x="301.4" y="390.9">111</text>
<text x="313.5" y="393.2">164</text>
<text x="319.7" y="392.0">117</text>
<text x="321.5" y="392.9">156</text>
<text x="312.2" y="399.0">123</text>
<text x="314.4" y="398.9">154</text>
<text x="315.0" y="390.2">119</text>
<text x="319.5" y="395.6">165</text>
<text x="309.1" y="408.8">153</text>
<text x="266.4" y="414.1">160</text>
<text x="280.9" y="424.9">86</text>
<text x="300.1" y="424.9">12</text>
<text x="302.4" y="424.9">108</text>
<text x="304.8" y="424.9">113</text>
<text x="307.1" y="424.9">116</text>
<text x="309.5" y="424.9">138</text>
<text x="311.8" y="424.9">121</text>
<text x="314.2" y="424.9">140</text>
<text x="316.5" y="424.9">141</text>
<text x="318.9" y="424.9">166</text>
<text x="321.2" y="424.9">167</text>
<text x="323.6" y="424.9">168</text>
<text x="288.1" y="424.9">12</text>
<text x="296.6" y="424.9">179</text>
<text x="298.8" y="424.9">132</text>
<text x="301.0" y="424.9">145</text>
<text x="303.2" y="424.9">188</text>
<text x="305.4" y="424.9">183</text>
<text x="307.6" y="424.9">167</text>
<text x="309.8" y="424.9">103</text>
<text x="312.0" y="424.9">159</text>
<text x="314.2" y="424.9">131</text>
<text x="316.4" y="424.9">183</text>
<text x="318.6" y="424.9">106</text>
<text x="320.8" y="424.9">120</text>
</g>
<path d="M267.3,411.1 C268.0,407.2 270.0,395.8 271.6,387.7 C273.1,379.6 274.9,369.7 276.6,362.7 C278.3,355.7 279.9,349.5 281.6,345.7 C283.3,341.9 285.3,340.3 287.0,340.1 C288.7,339.9 290.0,341.3 291.6,344.7 C293.2,348.1 294.9,355.2 296.6,360.7 C298.3,366.2 299.8,373.2 301.6,377.7 C303.4,382.2 305.1,386.2 307.3,387.9 C309.4,389.6 312.6,389.6 314.5,387.9 C316.4,386.2 317.1,383.6 318.6,377.7 C320.1,371.8 322.1,360.2 323.6,352.7 C325.1,345.2 326.4,338.8 327.6,332.7 C328.8,326.6 330.3,318.8 330.9,316.0" fill="none" stroke="#3366FF" stroke-width="1.7"/>
<rect x="0" y="0" width="602.4" height="440.5" fill="none" stroke="#333" stroke-width="1.8"/>
<line x1="-4.3" x2="0" y1="420.9" y2="420.9" class="tk"/>
<text class="ax" x="-7.6" y="426.3" text-anchor="end" textLength="21.55" lengthAdjust="spacingAndGlyphs">0.0</text>
<line x1="-4.3" x2="0" y1="363.7" y2="363.7" class="tk"/>
<text class="ax" x="-7.6" y="369.1" text-anchor="end" textLength="21.55" lengthAdjust="spacingAndGlyphs">0.1</text>
<line x1="-4.3" x2="0" y1="306.4" y2="306.4" class="tk"/>
<text class="ax" x="-7.6" y="311.8" text-anchor="end" textLength="21.55" lengthAdjust="spacingAndGlyphs">0.2</text>
<line x1="-4.3" x2="0" y1="249.2" y2="249.2" class="tk"/>
<text class="ax" x="-7.6" y="254.6" text-anchor="end" textLength="21.55" lengthAdjust="spacingAndGlyphs">0.3</text>
<line x1="-4.3" x2="0" y1="191.9" y2="191.9" class="tk"/>
<text class="ax" x="-7.6" y="197.3" text-anchor="end" textLength="21.55" lengthAdjust="spacingAndGlyphs">0.4</text>
<line x1="-4.3" x2="0" y1="134.7" y2="134.7" class="tk"/>
<text class="ax" x="-7.6" y="140.1" text-anchor="end" textLength="21.55" lengthAdjust="spacingAndGlyphs">0.5</text>
<line x1="-4.3" x2="0" y1="77.5" y2="77.5" class="tk"/>
<text class="ax" x="-7.6" y="82.9" text-anchor="end" textLength="21.55" lengthAdjust="spacingAndGlyphs">0.6</text>
<line x1="-4.3" x2="0" y1="20.2" y2="20.2" class="tk"/>
<text class="ax" x="-7.6" y="25.6" text-anchor="end" textLength="21.55" lengthAdjust="spacingAndGlyphs">0.7</text>
<line x1="27.7" x2="27.7" y1="440.5" y2="445.1" class="tk"/>
<text class="ax" x="39.7" y="459.4" text-anchor="end" textLength="34.91" lengthAdjust="spacingAndGlyphs">−100</text>
<line x1="92.1" x2="92.1" y1="440.5" y2="445.1" class="tk"/>
<text class="ax" x="104.1" y="459.4" text-anchor="end" textLength="26.29" lengthAdjust="spacingAndGlyphs">−80</text>
<line x1="156.5" x2="156.5" y1="440.5" y2="445.1" class="tk"/>
<text class="ax" x="168.5" y="459.4" text-anchor="end" textLength="26.29" lengthAdjust="spacingAndGlyphs">−60</text>
<line x1="221.0" x2="221.0" y1="440.5" y2="445.1" class="tk"/>
<text class="ax" x="233.0" y="459.4" text-anchor="end" textLength="26.29" lengthAdjust="spacingAndGlyphs">−40</text>
<line x1="285.4" x2="285.4" y1="440.5" y2="445.1" class="tk"/>
<text class="ax" x="297.4" y="459.4" text-anchor="end" textLength="26.29" lengthAdjust="spacingAndGlyphs">−20</text>
<line x1="349.8" x2="349.8" y1="440.5" y2="445.1" class="tk"/>
<text class="ax" x="361.8" y="459.4" text-anchor="end" textLength="8.62" lengthAdjust="spacingAndGlyphs">0</text>
<line x1="414.2" x2="414.2" y1="440.5" y2="445.1" class="tk"/>
<text class="ax" x="426.2" y="459.4" text-anchor="end" textLength="17.24" lengthAdjust="spacingAndGlyphs">20</text>
<line x1="478.6" x2="478.6" y1="440.5" y2="445.1" class="tk"/>
<text class="ax" x="490.6" y="459.4" text-anchor="end" textLength="17.24" lengthAdjust="spacingAndGlyphs">40</text>
<line x1="543.1" x2="543.1" y1="440.5" y2="445.1" class="tk"/>
<text class="ax" x="555.1" y="459.4" text-anchor="end" textLength="17.24" lengthAdjust="spacingAndGlyphs">60</text>
<text class="at" x="313.2" y="478.4" text-anchor="middle" textLength="155.36" lengthAdjust="spacingAndGlyphs">Mobility (% changed)</text>
<text class="at" transform="translate(-37.2,220.2) rotate(-90)" text-anchor="middle" textLength="74.70" lengthAdjust="spacingAndGlyphs">Case ratio</text>
<text class="lt" x="523.5" y="72.0" textLength="48.93" lengthAdjust="spacingAndGlyphs">Month</text>
<circle cx="537.1" cy="96.0" r="8.7" fill="rgb(152,78,163)" fill-opacity="0.42" stroke="#a0a0a0" stroke-width="1.2"/>
<text class="ll" x="558.3" y="101.0" textLength="22.64" lengthAdjust="spacingAndGlyphs">Jun</text>
<circle cx="537.1" cy="122.8" r="8.7" fill="rgb(255,127,0)" fill-opacity="0.3" stroke="#a0a0a0" stroke-width="1.2"/>
<text class="ll" x="558.3" y="127.8" textLength="17.95" lengthAdjust="spacingAndGlyphs">Jul</text>
<circle cx="537.1" cy="149.7" r="8.7" fill="rgb(255,255,51)" fill-opacity="0.38" stroke="#a0a0a0" stroke-width="1.2"/>
<text class="ll" x="558.3" y="154.7" textLength="24.98" lengthAdjust="spacingAndGlyphs">Aug</text>
</g>
<g transform="translate(64.9,696.1)">
<text class="tt" x="301.4" y="-42.1" text-anchor="middle" textLength="76.90" lengthAdjust="spacingAndGlyphs">Norway</text>
<text class="st" x="301.9" y="-13.6" text-anchor="middle" textLength="104.32" lengthAdjust="spacingAndGlyphs">(All period)</text>
<path d="M125.4,365.4 C130.3,367.1 145.3,373.0 155.1,375.9 C164.9,378.8 172.4,381.6 184.1,382.9 C195.8,384.2 213.3,385.1 225.1,383.9 C236.9,382.7 246.8,378.9 255.1,375.9 C263.4,372.9 265.1,367.6 275.1,365.9 C285.1,364.2 302.4,366.1 315.1,365.9 C327.8,365.7 345.3,364.8 351.4,364.6 L351.4,390.9 C347.0,391.4 334.5,394.7 325.1,393.9 C315.7,393.1 305.1,386.4 295.1,385.9 C285.1,385.4 275.1,388.7 265.1,390.9 C255.1,393.1 248.6,396.2 235.1,398.9 C221.6,401.6 197.4,405.1 184.1,407.3 C170.8,409.5 164.9,409.7 155.1,411.9 C145.3,414.1 130.3,419.1 125.4,420.5 Z" fill="#999999" fill-opacity="0.4" stroke="none"/>
<g stroke="#8a8a8a" stroke-opacity="0.75" stroke-width="1.1">
<circle cx="290.9" cy="320.1" r="8.7" fill="rgb(77,175,74)" fill-opacity="0.3"/>
<circle cx="302.4" cy="335.2" r="8.7" fill="rgb(77,175,74)" fill-opacity="0.3"/>
<circle cx="321.1" cy="337.7" r="8.7" fill="rgb(228,26,28)" fill-opacity="0.3"/>
<circle cx="243.0" cy="338.1" r="8.7" fill="rgb(228,26,28)" fill-opacity="0.3"/>
<circle cx="278.8" cy="346.2" r="8.7" fill="rgb(77,175,74)" fill-opacity="0.3"/>
<circle cx="199.2" cy="345.5" r="8.7" fill="rgb(55,126,184)" fill-opacity="0.3"/>
<circle cx="243.0" cy="366.1" r="8.7" fill="rgb(228,26,28)" fill-opacity="0.3"/>
<circle cx="343.9" cy="354.3" r="8.7" fill="rgb(228,26,28)" fill-opacity="0.3"/>
<circle cx="346.9" cy="360.2" r="8.7" fill="rgb(228,26,28)" fill-opacity="0.3"/>
<circle cx="329.2" cy="361.0" r="8.7" fill="rgb(228,26,28)" fill-opacity="0.3"/>
<circle cx="336.6" cy="357.3" r="8.7" fill="rgb(228,26,28)" fill-opacity="0.3"/>
<circle cx="335.4" cy="372.0" r="8.7" fill="rgb(228,26,28)" fill-opacity="0.3"/>
<circle cx="300.5" cy="372.0" r="8.7" fill="rgb(77,175,74)" fill-opacity="0.3"/>
<circle cx="297.5" cy="375.7" r="8.7" fill="rgb(77,175,74)" fill-opacity="0.3"/>
<circle cx="113.3" cy="375.0" r="8.7" fill="rgb(55,126,184)" fill-opacity="0.3"/>
<circle cx="115.5" cy="381.6" r="8.7" fill="rgb(55,126,184)" fill-opacity="0.3"/>
<circle cx="109.6" cy="400.8" r="8.7" fill="rgb(55,126,184)" fill-opacity="0.3"/>
<circle cx="124.3" cy="400.0" r="8.7" fill="rgb(77,175,74)" fill-opacity="0.3"/>
<circle cx="181.8" cy="372.0" r="8.7" fill="rgb(55,126,184)" fill-opacity="0.3"/>
<circle cx="187.7" cy="368.3" r="8.7" fill="rgb(228,26,28)" fill-opacity="0.3"/>
<circle cx="195.8" cy="374.2" r="8.7" fill="rgb(55,126,184)" fill-opacity="0.3"/>
<circle cx="212.8" cy="372.0" r="8.7" fill="rgb(228,26,28)" fill-opacity="0.3"/>
<circle cx="220.1" cy="375.7" r="8.7" fill="rgb(55,126,184)" fill-opacity="0.3"/>
<circle cx="229.0" cy="380.9" r="8.7" fill="rgb(55,126,184)" fill-opacity="0.3"/>
<circle cx="232.7" cy="386.0" r="8.7" fill="rgb(55,126,184)" fill-opacity="0.3"/>
<circle cx="203.1" cy="398.0" r="8.7" fill="rgb(55,126,184)" fill-opacity="0.3"/>
<circle cx="196.0" cy="400.1" r="8.7" fill="rgb(55,126,184)" fill-opacity="0.3"/>
<circle cx="192.3" cy="399.6" r="8.7" fill="rgb(55,126,184)" fill-opacity="0.3"/>
<circle cx="214.9" cy="382.7" r="8.7" fill="rgb(55,126,184)" fill-opacity="0.3"/>
<circle cx="209.4" cy="391.4" r="8.7" fill="rgb(55,126,184)" fill-opacity="0.3"/>
<circle cx="227.2" cy="390.2" r="8.7" fill="rgb(55,126,184)" fill-opacity="0.3"/>
<circle cx="194.5" cy="388.1" r="8.7" fill="rgb(55,126,184)" fill-opacity="0.3"/>
<circle cx="201.9" cy="405.6" r="8.7" fill="rgb(55,126,184)" fill-opacity="0.3"/>
<circle cx="195.1" cy="385.0" r="8.7" fill="rgb(55,126,184)" fill-opacity="0.3"/>
<circle cx="211.5" cy="394.2" r="8.7" fill="rgb(55,126,184)" fill-opacity="0.3"/>
<circle cx="201.4" cy="384.6" r="8.7" fill="rgb(55,126,184)" fill-opacity="0.3"/>
<circle cx="224.0" cy="397.1" r="8.7" fill="rgb(55,126,184)" fill-opacity="0.3"/>
<circle cx="195.4" cy="401.2" r="8.7" fill="rgb(55,126,184)" fill-opacity="0.3"/>
<circle cx="217.9" cy="384.3" r="8.7" fill="rgb(55,126,184)" fill-opacity="0.3"/>
<circle cx="214.0" cy="385.0" r="8.7" fill="rgb(55,126,184)" fill-opacity="0.3"/>
<circle cx="187.6" cy="388.3" r="8.7" fill="rgb(55,126,184)" fill-opacity="0.3"/>
<circle cx="200.5" cy="390.0" r="8.7" fill="rgb(55,126,184)" fill-opacity="0.3"/>
<circle cx="214.3" cy="402.3" r="8.7" fill="rgb(55,126,184)" fill-opacity="0.3"/>
<circle cx="199.3" cy="383.8" r="8.7" fill="rgb(55,126,184)" fill-opacity="0.3"/>
<circle cx="213.2" cy="394.2" r="8.7" fill="rgb(55,126,184)" fill-opacity="0.3"/>
<circle cx="184.8" cy="403.0" r="8.7" fill="rgb(55,126,184)" fill-opacity="0.3"/>
<circle cx="193.6" cy="403.0" r="8.7" fill="rgb(55,126,184)" fill-opacity="0.3"/>
<circle cx="212.8" cy="403.0" r="8.7" fill="rgb(55,126,184)" fill-opacity="0.3"/>
<circle cx="225.3" cy="397.1" r="8.7" fill="rgb(55,126,184)" fill-opacity="0.3"/>
<circle cx="239.3" cy="402.2" r="8.7" fill="rgb(55,126,184)" fill-opacity="0.3"/>
<circle cx="230.4" cy="405.9" r="8.7" fill="rgb(55,126,184)" fill-opacity="0.3"/>
<circle cx="232.7" cy="421.4" r="8.7" fill="rgb(55,126,184)" fill-opacity="0.3"/>
<circle cx="246.7" cy="385.3" r="8.7" fill="rgb(77,175,74)" fill-opacity="0.3"/>
<circle cx="255.5" cy="379.4" r="8.7" fill="rgb(77,175,74)" fill-opacity="0.3"/>
<circle cx="259.9" cy="382.3" r="8.7" fill="rgb(77,175,74)" fill-opacity="0.3"/>
<circle cx="275.4" cy="384.5" r="8.7" fill="rgb(77,175,74)" fill-opacity="0.3"/>
<circle cx="258.4" cy="391.2" r="8.7" fill="rgb(77,175,74)" fill-opacity="0.3"/>
<circle cx="274.7" cy="391.2" r="8.7" fill="rgb(77,175,74)" fill-opacity="0.3"/>
<circle cx="243.0" cy="394.1" r="8.7" fill="rgb(77,175,74)" fill-opacity="0.3"/>
<circle cx="286.5" cy="394.1" r="8.7" fill="rgb(77,175,74)" fill-opacity="0.3"/>
<circle cx="301.2" cy="391.9" r="8.7" fill="rgb(77,175,74)" fill-opacity="0.3"/>
<circle cx="299.7" cy="395.6" r="8.7" fill="rgb(77,175,74)" fill-opacity="0.3"/>
<circle cx="279.8" cy="400.0" r="8.7" fill="rgb(77,175,74)" fill-opacity="0.3"/>
<circle cx="279.8" cy="407.4" r="8.7" fill="rgb(77,175,74)" fill-opacity="0.3"/>
<circle cx="263.6" cy="414.0" r="8.7" fill="rgb(77,175,74)" fill-opacity="0.3"/>
<circle cx="251.8" cy="395.9" r="8.7" fill="rgb(77,175,74)" fill-opacity="0.3"/>
<circle cx="265.8" cy="385.9" r="8.7" fill="rgb(77,175,74)" fill-opacity="0.3"/>
<circle cx="289.8" cy="387.9" r="8.7" fill="rgb(77,175,74)" fill-opacity="0.3"/>
<circle cx="267.8" cy="396.9" r="8.7" fill="rgb(77,175,74)" fill-opacity="0.3"/>
<circle cx="248.9" cy="421.4" r="8.7" fill="rgb(77,175,74)" fill-opacity="0.3"/>
<circle cx="254.0" cy="421.4" r="8.7" fill="rgb(77,175,74)" fill-opacity="0.3"/>
<circle cx="256.2" cy="421.4" r="8.7" fill="rgb(77,175,74)" fill-opacity="0.3"/>
<circle cx="280.6" cy="421.4" r="8.7" fill="rgb(77,175,74)" fill-opacity="0.3"/>
<circle cx="282.3" cy="421.4" r="8.7" fill="rgb(77,175,74)" fill-opacity="0.3"/>
<circle cx="283.8" cy="421.4" r="8.7" fill="rgb(77,175,74)" fill-opacity="0.3"/>
<circle cx="285.3" cy="421.4" r="8.7" fill="rgb(152,78,163)" fill-opacity="0.3"/>
<circle cx="286.8" cy="421.4" r="8.7" fill="rgb(152,78,163)" fill-opacity="0.3"/>
<circle cx="287.9" cy="421.4" r="8.7" fill="rgb(77,175,74)" fill-opacity="0.3"/>
<circle cx="301.9" cy="421.4" r="8.7" fill="rgb(152,78,163)" fill-opacity="0.3"/>
<circle cx="277.9" cy="233.0" r="8.7" fill="rgb(255,255,51)" fill-opacity="0.3"/>
<circle cx="288.2" cy="277.3" r="8.7" fill="rgb(255,255,51)" fill-opacity="0.3"/>
<circle cx="289.2" cy="285.4" r="8.7" fill="rgb(255,127,0)" fill-opacity="0.3"/>
<circle cx="283.1" cy="294.3" r="8.7" fill="rgb(255,255,51)" fill-opacity="0.3"/>
<circle cx="306.2" cy="293.6" r="8.7" fill="rgb(152,78,163)" fill-opacity="0.3"/>
<circle cx="295.3" cy="300.4" r="8.7" fill="rgb(255,255,51)" fill-opacity="0.3"/>
<circle cx="298.0" cy="314.7" r="8.7" fill="rgb(255,255,51)" fill-opacity="0.3"/>
<circle cx="318.4" cy="313.3" r="8.7" fill="rgb(152,78,163)" fill-opacity="0.3"/>
<circle cx="325.2" cy="311.0" r="8.7" fill="rgb(255,127,0)" fill-opacity="0.3"/>
<circle cx="328.2" cy="314.0" r="8.7" fill="rgb(152,78,163)" fill-opacity="0.3"/>
<circle cx="335.2" cy="316.0" r="8.7" fill="rgb(152,78,163)" fill-opacity="0.3"/>
<circle cx="342.2" cy="311.0" r="8.7" fill="rgb(255,255,51)" fill-opacity="0.3"/>
<circle cx="350.2" cy="309.0" r="8.7" fill="rgb(255,127,0)" fill-opacity="0.3"/>
<circle cx="338.2" cy="319.0" r="8.7" fill="rgb(255,127,0)" fill-opacity="0.3"/>
<circle cx="338.8" cy="332.4" r="8.7" fill="rgb(255,255,51)" fill-opacity="0.3"/>
<circle cx="267.4" cy="335.1" r="8.7" fill="rgb(152,78,163)" fill-opacity="0.3"/>
<circle cx="270.8" cy="342.6" r="8.7" fill="rgb(255,255,51)" fill-opacity="0.3"/>
<circle cx="280.3" cy="342.6" r="8.7" fill="rgb(255,127,0)" fill-opacity="0.3"/>
<circle cx="303.5" cy="335.1" r="8.7" fill="rgb(152,78,163)" fill-opacity="0.3"/>
<circle cx="317.1" cy="335.1" r="8.7" fill="rgb(255,127,0)" fill-opacity="0.3"/>
<circle cx="293.9" cy="339.2" r="8.7" fill="rgb(255,127,0)" fill-opacity="0.3"/>
<circle cx="302.1" cy="344.6" r="8.7" fill="rgb(255,127,0)" fill-opacity="0.3"/>
<circle cx="314.3" cy="344.6" r="8.7" fill="rgb(255,127,0)" fill-opacity="0.3"/>
<circle cx="308.2" cy="342.0" r="8.7" fill="rgb(255,127,0)" fill-opacity="0.3"/>
<circle cx="325.2" cy="346.0" r="8.7" fill="rgb(152,78,163)" fill-opacity="0.3"/>
<circle cx="281.7" cy="351.4" r="8.7" fill="rgb(255,127,0)" fill-opacity="0.3"/>
<circle cx="272.9" cy="357.5" r="8.7" fill="rgb(255,255,51)" fill-opacity="0.3"/>
<circle cx="326.6" cy="355.5" r="8.7" fill="rgb(152,78,163)" fill-opacity="0.3"/>
<circle cx="333.4" cy="360.3" r="8.7" fill="rgb(255,255,51)" fill-opacity="0.3"/>
<circle cx="343.7" cy="360.3" r="8.7" fill="rgb(152,78,163)" fill-opacity="0.3"/>
<circle cx="345.2" cy="364.0" r="8.7" fill="rgb(255,127,0)" fill-opacity="0.3"/>
<circle cx="317.1" cy="366.4" r="8.7" fill="rgb(152,78,163)" fill-opacity="0.3"/>
<circle cx="276.2" cy="367.7" r="8.7" fill="rgb(255,255,51)" fill-opacity="0.3"/>
<circle cx="289.4" cy="364.2" r="8.7" fill="rgb(255,127,0)" fill-opacity="0.3"/>
<circle cx="295.7" cy="370.7" r="8.7" fill="rgb(255,255,51)" fill-opacity="0.3"/>
<circle cx="294.9" cy="366.4" r="8.7" fill="rgb(152,78,163)" fill-opacity="0.3"/>
<circle cx="300.6" cy="369.1" r="8.7" fill="rgb(255,255,51)" fill-opacity="0.3"/>
<circle cx="302.2" cy="370.3" r="8.7" fill="rgb(255,127,0)" fill-opacity="0.3"/>
<circle cx="304.1" cy="367.2" r="8.7" fill="rgb(255,127,0)" fill-opacity="0.3"/>
<circle cx="282.2" cy="363.1" r="8.7" fill="rgb(255,255,51)" fill-opacity="0.3"/>
<circle cx="300.3" cy="363.3" r="8.7" fill="rgb(152,78,163)" fill-opacity="0.3"/>
<circle cx="298.1" cy="369.7" r="8.7" fill="rgb(255,255,51)" fill-opacity="0.3"/>
<circle cx="304.1" cy="364.0" r="8.7" fill="rgb(255,127,0)" fill-opacity="0.3"/>
<circle cx="289.5" cy="374.3" r="8.7" fill="rgb(255,255,51)" fill-opacity="0.3"/>
<circle cx="280.8" cy="376.2" r="8.7" fill="rgb(255,255,51)" fill-opacity="0.3"/>
<circle cx="291.9" cy="380.8" r="8.7" fill="rgb(255,127,0)" fill-opacity="0.3"/>
<circle cx="284.3" cy="374.3" r="8.7" fill="rgb(255,255,51)" fill-opacity="0.3"/>
<circle cx="279.4" cy="379.1" r="8.7" fill="rgb(255,255,51)" fill-opacity="0.3"/>
<circle cx="289.8" cy="379.4" r="8.7" fill="rgb(255,255,51)" fill-opacity="0.3"/>
<circle cx="279.5" cy="379.9" r="8.7" fill="rgb(255,127,0)" fill-opacity="0.3"/>
<circle cx="293.5" cy="381.0" r="8.7" fill="rgb(255,255,51)" fill-opacity="0.3"/>
<circle cx="302.1" cy="381.3" r="8.7" fill="rgb(255,255,51)" fill-opacity="0.3"/>
<circle cx="313.0" cy="381.3" r="8.7" fill="rgb(255,127,0)" fill-opacity="0.3"/>
<circle cx="333.4" cy="375.9" r="8.7" fill="rgb(255,127,0)" fill-opacity="0.3"/>
<circle cx="328.2" cy="379.0" r="8.7" fill="rgb(152,78,163)" fill-opacity="0.3"/>
<circle cx="322.5" cy="384.1" r="8.7" fill="rgb(255,127,0)" fill-opacity="0.3"/>
<circle cx="271.5" cy="390.2" r="8.7" fill="rgb(255,255,51)" fill-opacity="0.3"/>
<circle cx="315.4" cy="393.6" r="8.7" fill="rgb(255,127,0)" fill-opacity="0.3"/>
<circle cx="334.4" cy="396.9" r="8.7" fill="rgb(255,255,51)" fill-opacity="0.3"/>
<circle cx="326.5" cy="394.0" r="8.7" fill="rgb(255,127,0)" fill-opacity="0.3"/>
<circle cx="310.9" cy="393.3" r="8.7" fill="rgb(255,255,51)" fill-opacity="0.3"/>
<circle cx="323.6" cy="397.5" r="8.7" fill="rgb(255,127,0)" fill-opacity="0.3"/>
<circle cx="329.9" cy="396.6" r="8.7" fill="rgb(255,255,51)" fill-opacity="0.3"/>
<circle cx="325.8" cy="390.8" r="8.7" fill="rgb(255,127,0)" fill-opacity="0.3"/>
<circle cx="340.8" cy="397.2" r="8.7" fill="rgb(255,255,51)" fill-opacity="0.3"/>
<circle cx="351.8" cy="401.8" r="8.7" fill="rgb(255,127,0)" fill-opacity="0.3"/>
<circle cx="317.1" cy="407.2" r="8.7" fill="rgb(255,127,0)" fill-opacity="0.3"/>
<circle cx="168.1" cy="421.5" r="8.7" fill="rgb(152,78,163)" fill-opacity="0.3"/>
<circle cx="299.7" cy="421.4" r="8.7" fill="rgb(255,255,51)" fill-opacity="0.3"/>
<circle cx="300.7" cy="421.4" r="8.7" fill="rgb(255,255,51)" fill-opacity="0.3"/>
<circle cx="314.2" cy="421.4" r="8.7" fill="rgb(255,127,0)" fill-opacity="0.3"/>
<circle cx="316.7" cy="421.4" r="8.7" fill="rgb(255,127,0)" fill-opacity="0.3"/>
<circle cx="319.2" cy="421.4" r="8.7" fill="rgb(255,127,0)" fill-opacity="0.3"/>
<circle cx="322.2" cy="421.4" r="8.7" fill="rgb(152,78,163)" fill-opacity="0.3"/>
<circle cx="329.7" cy="421.4" r="8.7" fill="rgb(152,78,163)" fill-opacity="0.3"/>
<circle cx="330.2" cy="421.4" r="8.7" fill="rgb(255,127,0)" fill-opacity="0.3"/>
<circle cx="338.2" cy="421.4" r="8.7" fill="rgb(255,255,51)" fill-opacity="0.3"/>
<circle cx="340.2" cy="421.4" r="8.7" fill="rgb(255,127,0)" fill-opacity="0.3"/>
<circle cx="343.2" cy="421.4" r="8.7" fill="rgb(255,255,51)" fill-opacity="0.3"/>
<circle cx="350.2" cy="421.4" r="8.7" fill="rgb(255,127,0)" fill-opacity="0.3"/>
</g>
<g class="pl">
<text x="290.9" y="323.1">80</text>
<text x="302.4" y="338.2">77</text>
<text x="321.1" y="340.7">19</text>
<text x="243.0" y="341.1">21</text>
<text x="278.8" y="349.2">73</text>
<text x="199.2" y="348.5">43</text>
<text x="243.0" y="369.1">20</text>
<text x="343.9" y="357.3">14</text>
<text x="346.9" y="363.2">16</text>
<text x="329.2" y="364.0">15</text>
<text x="336.6" y="360.3">17</text>
<text x="335.4" y="375.0">18</text>
<text x="300.5" y="375.0">82</text>
<text x="297.5" y="378.7">83</text>
<text x="113.3" y="378.0">48</text>
<text x="115.5" y="384.6">47</text>
<text x="109.6" y="403.8">51</text>
<text x="124.3" y="403.0">69</text>
<text x="181.8" y="375.0">29</text>
<text x="187.7" y="371.3">22</text>
<text x="195.8" y="377.2">27</text>
<text x="212.8" y="375.0">23</text>
<text x="220.1" y="378.7">28</text>
<text x="229.0" y="383.9">53</text>
<text x="232.7" y="389.0">34</text>
<text x="203.1" y="401.0">24</text>
<text x="196.0" y="403.1">25</text>
<text x="192.3" y="402.6">26</text>
<text x="214.9" y="385.7">30</text>
<text x="209.4" y="394.4">31</text>
<text x="227.2" y="393.2">37</text>
<text x="194.5" y="391.1">38</text>
<text x="201.9" y="408.6">39</text>
<text x="195.1" y="388.0">40</text>
<text x="211.5" y="397.2">41</text>
<text x="201.4" y="387.6">44</text>
<text x="224.0" y="400.1">49</text>
<text x="195.4" y="404.2">50</text>
<text x="217.9" y="387.3">52</text>
<text x="214.0" y="388.0">36</text>
<text x="187.6" y="391.3">35</text>
<text x="200.5" y="393.0">33</text>
<text x="214.3" y="405.3">32</text>
<text x="199.3" y="386.8">46</text>
<text x="213.2" y="397.2">45</text>
<text x="184.8" y="406.0">33</text>
<text x="193.6" y="406.0">32</text>
<text x="212.8" y="406.0">36</text>
<text x="225.3" y="400.1">46</text>
<text x="239.3" y="405.2">45</text>
<text x="230.4" y="408.9">52</text>
<text x="232.7" y="424.4">42</text>
<text x="246.7" y="388.3">61</text>
<text x="255.5" y="382.4">60</text>
<text x="259.9" y="385.3">68</text>
<text x="275.4" y="387.5">63</text>
<text x="258.4" y="394.2">59</text>
<text x="274.7" y="394.2">56</text>
<text x="243.0" y="397.1">55</text>
<text x="286.5" y="397.1">65</text>
<text x="301.2" y="394.9">70</text>
<text x="299.7" y="398.6">54</text>
<text x="279.8" y="403.0">75</text>
<text x="279.8" y="410.4">74</text>
<text x="263.6" y="417.0">66</text>
<text x="251.8" y="398.9">62</text>
<text x="265.8" y="388.9">64</text>
<text x="289.8" y="390.9">67</text>
<text x="267.8" y="399.9">58</text>
<text x="248.9" y="424.4">76</text>
<text x="254.0" y="424.4">57</text>
<text x="256.2" y="424.4">71</text>
<text x="280.6" y="424.4">72</text>
<text x="282.3" y="424.4">78</text>
<text x="283.8" y="424.4">79</text>
<text x="285.3" y="424.4">85</text>
<text x="286.8" y="424.4">86</text>
<text x="287.9" y="424.4">81</text>
<text x="301.9" y="424.4">87</text>
<text x="277.9" y="236.0">157</text>
<text x="288.2" y="280.3">150</text>
<text x="289.2" y="288.4">143</text>
<text x="283.1" y="297.3">151</text>
<text x="306.2" y="296.6">94</text>
<text x="295.3" y="303.4">164</text>
<text x="298.0" y="317.7">171</text>
<text x="318.4" y="316.3">106</text>
<text x="325.2" y="314.0">122</text>
<text x="328.2" y="317.0">98</text>
<text x="335.2" y="319.0">92</text>
<text x="342.2" y="314.0">141</text>
<text x="350.2" y="312.0">140</text>
<text x="338.2" y="322.0">115</text>
<text x="338.8" y="335.4">154</text>
<text x="267.4" y="338.1">90</text>
<text x="270.8" y="345.6">160</text>
<text x="280.3" y="345.6">116</text>
<text x="303.5" y="338.1">104</text>
<text x="317.1" y="338.1">131</text>
<text x="293.9" y="342.2">132</text>
<text x="302.1" y="347.6">118</text>
<text x="314.3" y="347.6">120</text>
<text x="308.2" y="345.0">107</text>
<text x="325.2" y="349.0">110</text>
<text x="281.7" y="354.4">145</text>
<text x="272.9" y="360.5">159</text>
<text x="326.6" y="358.5">101</text>
<text x="333.4" y="363.3">161</text>
<text x="343.7" y="363.3">113</text>
<text x="345.2" y="367.0">117</text>
<text x="317.1" y="369.4">97</text>
<text x="276.2" y="370.7">155</text>
<text x="289.4" y="367.2">144</text>
<text x="295.7" y="373.7">172</text>
<text x="294.9" y="369.4">142</text>
<text x="300.6" y="372.1">148</text>
<text x="302.2" y="373.3">135</text>
<text x="304.1" y="370.2">152</text>
<text x="282.2" y="366.1">139</text>
<text x="300.3" y="366.3">166</text>
<text x="298.1" y="372.7">128</text>
<text x="304.1" y="367.0">149</text>
<text x="289.5" y="377.3">158</text>
<text x="280.8" y="379.2">163</text>
<text x="291.9" y="383.8">170</text>
<text x="284.3" y="377.3">168</text>
<text x="279.4" y="382.1">156</text>
<text x="289.8" y="382.4">162</text>
<text x="279.5" y="382.9">167</text>
<text x="293.5" y="384.0">165</text>
<text x="302.1" y="384.3">175</text>
<text x="313.0" y="384.3">136</text>
<text x="333.4" y="378.9">121</text>
<text x="328.2" y="382.0">123</text>
<text x="322.5" y="387.1">134</text>
<text x="271.5" y="393.2">160</text>
<text x="315.4" y="396.6">125</text>
<text x="334.4" y="399.9">166</text>
<text x="326.5" y="397.0">168</text>
<text x="310.9" y="396.3">118</text>
<text x="323.6" y="400.5">126</text>
<text x="329.9" y="399.6">127</text>
<text x="325.8" y="393.8">169</text>
<text x="340.8" y="400.2">129</text>
<text x="351.8" y="404.8">133</text>
<text x="317.1" y="410.2">130</text>
<text x="168.1" y="424.5">100</text>
<text x="149.7" y="424.5">89</text>
<text x="299.7" y="424.4">93</text>
<text x="300.7" y="424.4">95</text>
<text x="314.2" y="424.4">99</text>
<text x="316.7" y="424.4">102</text>
<text x="319.2" y="424.4">103</text>
<text x="322.2" y="424.4">105</text>
<text x="329.7" y="424.4">108</text>
<text x="330.2" y="424.4">109</text>
<text x="338.2" y="424.4">111</text>
<text x="340.2" y="424.4">112</text>
<text x="343.2" y="424.4">114</text>
<text x="350.2" y="424.4">119</text>
<text x="284.7" y="424.4">92</text>
<text x="300.2" y="424.4">173</text>
<text x="302.4" y="424.4">110</text>
<text x="304.6" y="424.4">162</text>
<text x="306.8" y="424.4">133</text>
<text x="309.0" y="424.4">104</text>
<text x="311.2" y="424.4">100</text>
<text x="313.4" y="424.4">118</text>
<text x="315.6" y="424.4">184</text>
<text x="317.8" y="424.4">175</text>
<text x="320.0" y="424.4">160</text>
<text x="322.2" y="424.4">147</text>
<text x="324.4" y="424.4">140</text>
<text x="326.6" y="424.4">102</text>
<text x="328.8" y="424.4">134</text>
<text x="331.0" y="424.4">162</text>
<text x="333.2" y="424.4">125</text>
<text x="345.2" y="424.4">119</text>
<text x="348.2" y="424.4">131</text>
</g>
<path d="M109.8,391.7 C116.6,392.0 137.2,393.1 150.9,393.4 C164.6,393.7 179.7,394.1 192.0,393.4 C204.3,392.7 215.2,390.7 224.8,389.2 C234.4,387.7 242.6,386.2 249.5,384.3 C256.3,382.4 260.4,379.9 265.9,377.7 C271.4,375.4 277.7,371.9 282.4,370.8 C287.1,369.7 289.8,370.0 293.9,371.2 C298.0,372.3 302.1,376.2 307.0,377.7 C311.9,379.2 318.0,379.9 323.5,380.2 C329.0,380.5 335.2,380.2 339.9,379.4 C344.5,378.6 349.5,376.0 351.4,375.3" fill="none" stroke="#3366FF" stroke-width="1.7"/>
<rect x="0" y="0" width="602.4" height="440.5" fill="none" stroke="#333" stroke-width="1.8"/>
<line x1="-4.3" x2="0" y1="420.9" y2="420.9" class="tk"/>
<text class="ax" x="-7.6" y="426.3" text-anchor="end" textLength="21.55" lengthAdjust="spacingAndGlyphs">0.0</text>
<line x1="-4.3" x2="0" y1="363.7" y2="363.7" class="tk"/>
<text class="ax" x="-7.6" y="369.1" text-anchor="end" textLength="21.55" lengthAdjust="spacingAndGlyphs">0.1</text>
<line x1="-4.3" x2="0" y1="306.4" y2="306.4" class="tk"/>
<text class="ax" x="-7.6" y="311.8" text-anchor="end" textLength="21.55" lengthAdjust="spacingAndGlyphs">0.2</text>
<line x1="-4.3" x2="0" y1="249.2" y2="249.2" class="tk"/>
<text class="ax" x="-7.6" y="254.6" text-anchor="end" textLength="21.55" lengthAdjust="spacingAndGlyphs">0.3</text>
<line x1="-4.3" x2="0" y1="191.9" y2="191.9" class="tk"/>
<text class="ax" x="-7.6" y="197.3" text-anchor="end" textLength="21.55" lengthAdjust="spacingAndGlyphs">0.4</text>
<line x1="-4.3" x2="0" y1="134.7" y2="134.7" class="tk"/>
<text class="ax" x="-7.6" y="140.1" text-anchor="end" textLength="21.55" lengthAdjust="spacingAndGlyphs">0.5</text>
<line x1="-4.3" x2="0" y1="77.5" y2="77.5" class="tk"/>
<text class="ax" x="-7.6" y="82.9" text-anchor="end" textLength="21.55" lengthAdjust="spacingAndGlyphs">0.6</text>
<line x1="-4.3" x2="0" y1="20.2" y2="20.2" class="tk"/>
<text class="ax" x="-7.6" y="25.6" text-anchor="end" textLength="21.55" lengthAdjust="spacingAndGlyphs">0.7</text>
<line x1="27.7" x2="27.7" y1="440.5" y2="445.1" class="tk"/>
<text class="ax" x="39.7" y="459.5" text-anchor="end" textLength="34.91" lengthAdjust="spacingAndGlyphs">−100</text>
<line x1="92.1" x2="92.1" y1="440.5" y2="445.1" class="tk"/>
<text class="ax" x="104.1" y="459.5" text-anchor="end" textLength="26.29" lengthAdjust="spacingAndGlyphs">−80</text>
<line x1="156.5" x2="156.5" y1="440.5" y2="445.1" class="tk"/>
<text class="ax" x="168.5" y="459.5" text-anchor="end" textLength="26.29" lengthAdjust="spacingAndGlyphs">−60</text>
<line x1="221.0" x2="221.0" y1="440.5" y2="445.1" class="tk"/>
<text class="ax" x="233.0" y="459.5" text-anchor="end" textLength="26.29" lengthAdjust="spacingAndGlyphs">−40</text>
<line x1="285.4" x2="285.4" y1="440.5" y2="445.1" class="tk"/>
<text class="ax" x="297.4" y="459.5" text-anchor="end" textLength="26.29" lengthAdjust="spacingAndGlyphs">−20</text>
<line x1="349.8" x2="349.8" y1="440.5" y2="445.1" class="tk"/>
<text class="ax" x="361.8" y="459.5" text-anchor="end" textLength="8.62" lengthAdjust="spacingAndGlyphs">0</text>
<line x1="414.2" x2="414.2" y1="440.5" y2="445.1" class="tk"/>
<text class="ax" x="426.2" y="459.5" text-anchor="end" textLength="17.24" lengthAdjust="spacingAndGlyphs">20</text>
<line x1="478.6" x2="478.6" y1="440.5" y2="445.1" class="tk"/>
<text class="ax" x="490.6" y="459.5" text-anchor="end" textLength="17.24" lengthAdjust="spacingAndGlyphs">40</text>
<line x1="543.1" x2="543.1" y1="440.5" y2="445.1" class="tk"/>
<text class="ax" x="555.1" y="459.5" text-anchor="end" textLength="17.24" lengthAdjust="spacingAndGlyphs">60</text>
<text class="at" x="313.2" y="478.5" text-anchor="middle" textLength="155.36" lengthAdjust="spacingAndGlyphs">Mobility (% changed)</text>
<text class="at" transform="translate(-37.2,220.2) rotate(-90)" text-anchor="middle" textLength="74.70" lengthAdjust="spacingAndGlyphs">Case ratio</text>
<text class="lt" x="523.5" y="31.7" textLength="48.93" lengthAdjust="spacingAndGlyphs">Month</text>
<circle cx="537.1" cy="55.7" r="8.7" fill="rgb(228,26,28)" fill-opacity="0.3" stroke="#a0a0a0" stroke-width="1.2"/>
<text class="ll" x="558.3" y="60.7" textLength="24.18" lengthAdjust="spacingAndGlyphs">Mar</text>
<circle cx="537.1" cy="82.6" r="8.7" fill="rgb(55,126,184)" fill-opacity="0.3" stroke="#a0a0a0" stroke-width="1.2"/>
<text class="ll" x="558.3" y="87.6" textLength="21.85" lengthAdjust="spacingAndGlyphs">Apr</text>
<circle cx="537.1" cy="109.4" r="8.7" fill="rgb(77,175,74)" fill-opacity="0.3" stroke="#a0a0a0" stroke-width="1.2"/>
<text class="ll" x="558.3" y="114.4" textLength="26.52" lengthAdjust="spacingAndGlyphs">May</text>
<circle cx="537.1" cy="136.2" r="8.7" fill="rgb(152,78,163)" fill-opacity="0.3" stroke="#a0a0a0" stroke-width="1.2"/>
<text class="ll" x="558.3" y="141.2" textLength="22.64" lengthAdjust="spacingAndGlyphs">Jun</text>
<circle cx="537.1" cy="163.1" r="8.7" fill="rgb(255,127,0)" fill-opacity="0.3" stroke="#a0a0a0" stroke-width="1.2"/>
<text class="ll" x="558.3" y="168.1" textLength="17.95" lengthAdjust="spacingAndGlyphs">Jul</text>
<circle cx="537.1" cy="189.9" r="8.7" fill="rgb(255,255,51)" fill-opacity="0.3" stroke="#a0a0a0" stroke-width="1.2"/>
<text class="ll" x="558.3" y="194.9" textLength="24.98" lengthAdjust="spacingAndGlyphs">Aug</text>
</g>
<g transform="translate(732.2,696.1)">
<text class="tt" x="301.4" y="-42.1" text-anchor="middle" textLength="76.90" lengthAdjust="spacingAndGlyphs">Norway</text>
<text class="st" x="301.9" y="-13.6" text-anchor="middle" textLength="127.51" lengthAdjust="spacingAndGlyphs">(Early phase)</text>
<path d="M110.3,369.9 L147.8,376.9 L197.8,379.9 L247.8,382.9 L277.8,383.9 L297.8,375.9 L317.8,361.9 L332.8,346.9 L343.8,329.9 L343.8,363.9 L327.8,375.9 L307.8,395.9 L287.8,402.9 L267.8,401.9 L237.8,398.9 L197.8,397.9 L157.8,400.9 L110.3,411.9 Z" fill="#999999" fill-opacity="0.4" stroke="none"/>
<g stroke="#8a8a8a" stroke-opacity="0.75" stroke-width="1.1">
<circle cx="290.9" cy="320.1" r="8.7" fill="rgb(77,175,74)" fill-opacity="0.3"/>
<circle cx="302.4" cy="335.2" r="8.7" fill="rgb(77,175,74)" fill-opacity="0.3"/>
<circle cx="321.1" cy="337.7" r="8.7" fill="rgb(228,26,28)" fill-opacity="0.3"/>
<circle cx="243.0" cy="338.1" r="8.7" fill="rgb(228,26,28)" fill-opacity="0.3"/>
<circle cx="278.8" cy="346.2" r="8.7" fill="rgb(77,175,74)" fill-opacity="0.3"/>
<circle cx="199.2" cy="345.5" r="8.7" fill="rgb(55,126,184)" fill-opacity="0.3"/>
<circle cx="243.0" cy="366.1" r="8.7" fill="rgb(228,26,28)" fill-opacity="0.3"/>
<circle cx="343.9" cy="354.3" r="8.7" fill="rgb(228,26,28)" fill-opacity="0.3"/>
<circle cx="346.9" cy="360.2" r="8.7" fill="rgb(228,26,28)" fill-opacity="0.3"/>
<circle cx="329.2" cy="361.0" r="8.7" fill="rgb(228,26,28)" fill-opacity="0.3"/>
<circle cx="336.6" cy="357.3" r="8.7" fill="rgb(228,26,28)" fill-opacity="0.3"/>
<circle cx="335.4" cy="372.0" r="8.7" fill="rgb(228,26,28)" fill-opacity="0.3"/>
<circle cx="300.5" cy="372.0" r="8.7" fill="rgb(77,175,74)" fill-opacity="0.3"/>
<circle cx="297.5" cy="375.7" r="8.7" fill="rgb(77,175,74)" fill-opacity="0.3"/>
<circle cx="113.3" cy="375.0" r="8.7" fill="rgb(55,126,184)" fill-opacity="0.3"/>
<circle cx="115.5" cy="381.6" r="8.7" fill="rgb(55,126,184)" fill-opacity="0.3"/>
<circle cx="109.6" cy="400.8" r="8.7" fill="rgb(55,126,184)" fill-opacity="0.3"/>
<circle cx="124.3" cy="400.0" r="8.7" fill="rgb(77,175,74)" fill-opacity="0.3"/>
<circle cx="181.8" cy="372.0" r="8.7" fill="rgb(55,126,184)" fill-opacity="0.3"/>
<circle cx="187.7" cy="368.3" r="8.7" fill="rgb(228,26,28)" fill-opacity="0.3"/>
<circle cx="195.8" cy="374.2" r="8.7" fill="rgb(55,126,184)" fill-opacity="0.3"/>
<circle cx="212.8" cy="372.0" r="8.7" fill="rgb(228,26,28)" fill-opacity="0.3"/>
<circle cx="220.1" cy="375.7" r="8.7" fill="rgb(55,126,184)" fill-opacity="0.3"/>
<circle cx="229.0" cy="380.9" r="8.7" fill="rgb(55,126,184)" fill-opacity="0.3"/>
<circle cx="232.7" cy="386.0" r="8.7" fill="rgb(55,126,184)" fill-opacity="0.3"/>
<circle cx="203.1" cy="398.0" r="8.7" fill="rgb(55,126,184)" fill-opacity="0.3"/>
<circle cx="196.0" cy="400.1" r="8.7" fill="rgb(55,126,184)" fill-opacity="0.3"/>
<circle cx="192.3" cy="399.6" r="8.7" fill="rgb(55,126,184)" fill-opacity="0.3"/>
<circle cx="214.9" cy="382.7" r="8.7" fill="rgb(55,126,184)" fill-opacity="0.3"/>
<circle cx="209.4" cy="391.4" r="8.7" fill="rgb(55,126,184)" fill-opacity="0.3"/>
<circle cx="227.2" cy="390.2" r="8.7" fill="rgb(55,126,184)" fill-opacity="0.3"/>
<circle cx="194.5" cy="388.1" r="8.7" fill="rgb(55,126,184)" fill-opacity="0.3"/>
<circle cx="201.9" cy="405.6" r="8.7" fill="rgb(55,126,184)" fill-opacity="0.3"/>
<circle cx="195.1" cy="385.0" r="8.7" fill="rgb(55,126,184)" fill-opacity="0.3"/>
<circle cx="211.5" cy="394.2" r="8.7" fill="rgb(55,126,184)" fill-opacity="0.3"/>
<circle cx="201.4" cy="384.6" r="8.7" fill="rgb(55,126,184)" fill-opacity="0.3"/>
<circle cx="224.0" cy="397.1" r="8.7" fill="rgb(55,126,184)" fill-opacity="0.3"/>
<circle cx="195.4" cy="401.2" r="8.7" fill="rgb(55,126,184)" fill-opacity="0.3"/>
<circle cx="217.9" cy="384.3" r="8.7" fill="rgb(55,126,184)" fill-opacity="0.3"/>
<circle cx="214.0" cy="385.0" r="8.7" fill="rgb(55,126,184)" fill-opacity="0.3"/>
<circle cx="187.6" cy="388.3" r="8.7" fill="rgb(55,126,184)" fill-opacity="0.3"/>
<circle cx="200.5" cy="390.0" r="8.7" fill="rgb(55,126,184)" fill-opacity="0.3"/>
<circle cx="214.3" cy="402.3" r="8.7" fill="rgb(55,126,184)" fill-opacity="0.3"/>
<circle cx="199.3" cy="383.8" r="8.7" fill="rgb(55,126,184)" fill-opacity="0.3"/>
<circle cx="213.2" cy="394.2" r="8.7" fill="rgb(55,126,184)" fill-opacity="0.3"/>
<circle cx="184.8" cy="403.0" r="8.7" fill="rgb(55,126,184)" fill-opacity="0.3"/>
<circle cx="193.6" cy="403.0" r="8.7" fill="rgb(55,126,184)" fill-opacity="0.3"/>
<circle cx="212.8" cy="403.0" r="8.7" fill="rgb(55,126,184)" fill-opacity="0.3"/>
<circle cx="225.3" cy="397.1" r="8.7" fill="rgb(55,126,184)" fill-opacity="0.3"/>
<circle cx="239.3" cy="402.2" r="8.7" fill="rgb(55,126,184)" fill-opacity="0.3"/>
<circle cx="230.4" cy="405.9" r="8.7" fill="rgb(55,126,184)" fill-opacity="0.3"/>
<circle cx="232.7" cy="421.4" r="8.7" fill="rgb(55,126,184)" fill-opacity="0.3"/>
<circle cx="246.7" cy="385.3" r="8.7" fill="rgb(77,175,74)" fill-opacity="0.3"/>
<circle cx="255.5" cy="379.4" r="8.7" fill="rgb(77,175,74)" fill-opacity="0.3"/>
<circle cx="259.9" cy="382.3" r="8.7" fill="rgb(77,175,74)" fill-opacity="0.3"/>
<circle cx="275.4" cy="384.5" r="8.7" fill="rgb(77,175,74)" fill-opacity="0.3"/>
<circle cx="258.4" cy="391.2" r="8.7" fill="rgb(77,175,74)" fill-opacity="0.3"/>
<circle cx="274.7" cy="391.2" r="8.7" fill="rgb(77,175,74)" fill-opacity="0.3"/>
<circle cx="243.0" cy="394.1" r="8.7" fill="rgb(77,175,74)" fill-opacity="0.3"/>
<circle cx="286.5" cy="394.1" r="8.7" fill="rgb(77,175,74)" fill-opacity="0.3"/>
<circle cx="301.2" cy="391.9" r="8.7" fill="rgb(77,175,74)" fill-opacity="0.3"/>
<circle cx="299.7" cy="395.6" r="8.7" fill="rgb(77,175,74)" fill-opacity="0.3"/>
<circle cx="279.8" cy="400.0" r="8.7" fill="rgb(77,175,74)" fill-opacity="0.3"/>
<circle cx="279.8" cy="407.4" r="8.7" fill="rgb(77,175,74)" fill-opacity="0.3"/>
<circle cx="263.6" cy="414.0" r="8.7" fill="rgb(77,175,74)" fill-opacity="0.3"/>
<circle cx="251.8" cy="395.9" r="8.7" fill="rgb(77,175,74)" fill-opacity="0.3"/>
<circle cx="265.8" cy="385.9" r="8.7" fill="rgb(77,175,74)" fill-opacity="0.3"/>
<circle cx="289.8" cy="387.9" r="8.7" fill="rgb(77,175,74)" fill-opacity="0.3"/>
<circle cx="267.8" cy="396.9" r="8.7" fill="rgb(77,175,74)" fill-opacity="0.3"/>
<circle cx="248.9" cy="421.4" r="8.7" fill="rgb(77,175,74)" fill-opacity="0.3"/>
<circle cx="254.0" cy="421.4" r="8.7" fill="rgb(77,175,74)" fill-opacity="0.3"/>
<circle cx="256.2" cy="421.4" r="8.7" fill="rgb(77,175,74)" fill-opacity="0.3"/>
<circle cx="280.6" cy="421.4" r="8.7" fill="rgb(77,175,74)" fill-opacity="0.3"/>
<circle cx="282.3" cy="421.4" r="8.7" fill="rgb(77,175,74)" fill-opacity="0.3"/>
<circle cx="283.8" cy="421.4" r="8.7" fill="rgb(77,175,74)" fill-opacity="0.3"/>
<circle cx="285.3" cy="421.4" r="8.7" fill="rgb(152,78,163)" fill-opacity="0.3"/>
<circle cx="286.8" cy="421.4" r="8.7" fill="rgb(152,78,163)" fill-opacity="0.3"/>
<circle cx="287.9" cy="421.4" r="8.7" fill="rgb(77,175,74)" fill-opacity="0.3"/>
<circle cx="301.9" cy="421.4" r="8.7" fill="rgb(152,78,163)" fill-opacity="0.3"/>
</g>
<g class="pl">
<text x="290.9" y="323.1">80</text>
<text x="302.4" y="338.2">77</text>
<text x="321.1" y="340.7">19</text>
<text x="243.0" y="341.1">21</text>
<text x="278.8" y="349.2">73</text>
<text x="199.2" y="348.5">43</text>
<text x="243.0" y="369.1">20</text>
<text x="343.9" y="357.3">14</text>
<text x="346.9" y="363.2">16</text>
<text x="329.2" y="364.0">15</text>
<text x="336.6" y="360.3">17</text>
<text x="335.4" y="375.0">18</text>
<text x="300.5" y="375.0">82</text>
<text x="297.5" y="378.7">83</text>
<text x="113.3" y="378.0">48</text>
<text x="115.5" y="384.6">47</text>
<text x="109.6" y="403.8">51</text>
<text x="124.3" y="403.0">69</text>
<text x="181.8" y="375.0">29</text>
<text x="187.7" y="371.3">22</text>
<text x="195.8" y="377.2">27</text>
<text x="212.8" y="375.0">23</text>
<text x="220.1" y="378.7">28</text>
<text x="229.0" y="383.9">53</text>
<text x="232.7" y="389.0">34</text>
<text x="203.1" y="401.0">24</text>
<text x="196.0" y="403.1">25</text>
<text x="192.3" y="402.6">26</text>
<text x="214.9" y="385.7">30</text>
<text x="209.4" y="394.4">31</text>
<text x="227.2" y="393.2">37</text>
<text x="194.5" y="391.1">38</text>
<text x="201.9" y="408.6">39</text>
<text x="195.1" y="388.0">40</text>
<text x="211.5" y="397.2">41</text>
<text x="201.4" y="387.6">44</text>
<text x="224.0" y="400.1">49</text>
<text x="195.4" y="404.2">50</text>
<text x="217.9" y="387.3">52</text>
<text x="214.0" y="388.0">36</text>
<text x="187.6" y="391.3">35</text>
<text x="200.5" y="393.0">33</text>
<text x="214.3" y="405.3">32</text>
<text x="199.3" y="386.8">46</text>
<text x="213.2" y="397.2">45</text>
<text x="184.8" y="406.0">33</text>
<text x="193.6" y="406.0">32</text>
<text x="212.8" y="406.0">36</text>
<text x="225.3" y="400.1">46</text>
<text x="239.3" y="405.2">45</text>
<text x="230.4" y="408.9">52</text>
<text x="232.7" y="424.4">42</text>
<text x="246.7" y="388.3">61</text>
<text x="255.5" y="382.4">60</text>
<text x="259.9" y="385.3">68</text>
<text x="275.4" y="387.5">63</text>
<text x="258.4" y="394.2">59</text>
<text x="274.7" y="394.2">56</text>
<text x="243.0" y="397.1">55</text>
<text x="286.5" y="397.1">65</text>
<text x="301.2" y="394.9">70</text>
<text x="299.7" y="398.6">54</text>
<text x="279.8" y="403.0">75</text>
<text x="279.8" y="410.4">74</text>
<text x="263.6" y="417.0">66</text>
<text x="251.8" y="398.9">62</text>
<text x="265.8" y="388.9">64</text>
<text x="289.8" y="390.9">67</text>
<text x="267.8" y="399.9">58</text>
<text x="248.9" y="424.4">76</text>
<text x="254.0" y="424.4">57</text>
<text x="256.2" y="424.4">71</text>
<text x="280.6" y="424.4">72</text>
<text x="282.3" y="424.4">78</text>
<text x="283.8" y="424.4">79</text>
<text x="285.3" y="424.4">85</text>
<text x="286.8" y="424.4">86</text>
<text x="287.9" y="424.4">81</text>
<text x="301.9" y="424.4">87</text>
</g>
<path d="M110.3,389.7 C118.0,389.2 141.7,387.1 156.8,386.8 C171.9,386.6 187.5,387.5 201.0,388.2 C214.5,388.9 228.0,390.0 237.8,391.2 C247.6,392.4 253.7,394.9 259.9,395.6 C266.0,396.3 269.8,396.3 274.7,395.6 C279.6,394.9 283.3,393.9 289.4,391.2 C295.5,388.5 304.9,383.8 311.5,379.4 C318.1,375.0 323.9,369.3 329.2,364.6 C334.5,359.9 340.9,353.6 343.2,351.4" fill="none" stroke="#3366FF" stroke-width="1.7"/>
<rect x="0" y="0" width="602.4" height="440.5" fill="none" stroke="#333" stroke-width="1.8"/>
<line x1="-4.3" x2="0" y1="420.9" y2="420.9" class="tk"/>
<text class="ax" x="-7.6" y="426.3" text-anchor="end" textLength="21.55" lengthAdjust="spacingAndGlyphs">0.0</text>
<line x1="-4.3" x2="0" y1="363.7" y2="363.7" class="tk"/>
<text class="ax" x="-7.6" y="369.1" text-anchor="end" textLength="21.55" lengthAdjust="spacingAndGlyphs">0.1</text>
<line x1="-4.3" x2="0" y1="306.4" y2="306.4" class="tk"/>
<text class="ax" x="-7.6" y="311.8" text-anchor="end" textLength="21.55" lengthAdjust="spacingAndGlyphs">0.2</text>
<line x1="-4.3" x2="0" y1="249.2" y2="249.2" class="tk"/>
<text class="ax" x="-7.6" y="254.6" text-anchor="end" textLength="21.55" lengthAdjust="spacingAndGlyphs">0.3</text>
<line x1="-4.3" x2="0" y1="191.9" y2="191.9" class="tk"/>
<text class="ax" x="-7.6" y="197.3" text-anchor="end" textLength="21.55" lengthAdjust="spacingAndGlyphs">0.4</text>
<line x1="-4.3" x2="0" y1="134.7" y2="134.7" class="tk"/>
<text class="ax" x="-7.6" y="140.1" text-anchor="end" textLength="21.55" lengthAdjust="spacingAndGlyphs">0.5</text>
<line x1="-4.3" x2="0" y1="77.5" y2="77.5" class="tk"/>
<text class="ax" x="-7.6" y="82.9" text-anchor="end" textLength="21.55" lengthAdjust="spacingAndGlyphs">0.6</text>
<line x1="-4.3" x2="0" y1="20.2" y2="20.2" class="tk"/>
<text class="ax" x="-7.6" y="25.6" text-anchor="end" textLength="21.55" lengthAdjust="spacingAndGlyphs">0.7</text>
<line x1="27.7" x2="27.7" y1="440.5" y2="445.1" class="tk"/>
<text class="ax" x="39.7" y="459.5" text-anchor="end" textLength="34.91" lengthAdjust="spacingAndGlyphs">−100</text>
<line x1="92.1" x2="92.1" y1="440.5" y2="445.1" class="tk"/>
<text class="ax" x="104.1" y="459.5" text-anchor="end" textLength="26.29" lengthAdjust="spacingAndGlyphs">−80</text>
<line x1="156.5" x2="156.5" y1="440.5" y2="445.1" class="tk"/>
<text class="ax" x="168.5" y="459.5" text-anchor="end" textLength="26.29" lengthAdjust="spacingAndGlyphs">−60</text>
<line x1="221.0" x2="221.0" y1="440.5" y2="445.1" class="tk"/>
<text class="ax" x="233.0" y="459.5" text-anchor="end" textLength="26.29" lengthAdjust="spacingAndGlyphs">−40</text>
<line x1="285.4" x2="285.4" y1="440.5" y2="445.1" class="tk"/>
<text class="ax" x="297.4" y="459.5" text-anchor="end" textLength="26.29" lengthAdjust="spacingAndGlyphs">−20</text>
<line x1="349.8" x2="349.8" y1="440.5" y2="445.1" class="tk"/>
<text class="ax" x="361.8" y="459.5" text-anchor="end" textLength="8.62" lengthAdjust="spacingAndGlyphs">0</text>
<line x1="414.2" x2="414.2" y1="440.5" y2="445.1" class="tk"/>
<text class="ax" x="426.2" y="459.5" text-anchor="end" textLength="17.24" lengthAdjust="spacingAndGlyphs">20</text>
<line x1="478.6" x2="478.6" y1="440.5" y2="445.1" class="tk"/>
<text class="ax" x="490.6" y="459.5" text-anchor="end" textLength="17.24" lengthAdjust="spacingAndGlyphs">40</text>
<line x1="543.1" x2="543.1" y1="440.5" y2="445.1" class="tk"/>
<text class="ax" x="555.1" y="459.5" text-anchor="end" textLength="17.24" lengthAdjust="spacingAndGlyphs">60</text>
<text class="at" x="313.2" y="478.5" text-anchor="middle" textLength="155.36" lengthAdjust="spacingAndGlyphs">Mobility (% changed)</text>
<text class="at" transform="translate(-37.2,220.2) rotate(-90)" text-anchor="middle" textLength="74.70" lengthAdjust="spacingAndGlyphs">Case ratio</text>
<text class="lt" x="523.5" y="58.5" textLength="48.93" lengthAdjust="spacingAndGlyphs">Month</text>
<circle cx="537.1" cy="82.6" r="8.7" fill="rgb(228,26,28)" fill-opacity="0.3" stroke="#a0a0a0" stroke-width="1.2"/>
<text class="ll" x="558.3" y="87.6" textLength="24.18" lengthAdjust="spacingAndGlyphs">Mar</text>
<circle cx="537.1" cy="109.4" r="8.7" fill="rgb(55,126,184)" fill-opacity="0.3" stroke="#a0a0a0" stroke-width="1.2"/>
<text class="ll" x="558.3" y="114.4" textLength="21.85" lengthAdjust="spacingAndGlyphs">Apr</text>
<circle cx="537.1" cy="136.2" r="8.7" fill="rgb(77,175,74)" fill-opacity="0.3" stroke="#a0a0a0" stroke-width="1.2"/>
<text class="ll" x="558.3" y="141.2" textLength="26.52" lengthAdjust="spacingAndGlyphs">May</text>
<circle cx="537.1" cy="163.1" r="8.7" fill="rgb(152,78,163)" fill-opacity="0.3" stroke="#a0a0a0" stroke-width="1.2"/>
<text class="ll" x="558.3" y="168.1" textLength="22.64" lengthAdjust="spacingAndGlyphs">Jun</text>
</g>
<g transform="translate(1399.8,696.0)">
<text class="tt" x="301.4" y="-42.0" text-anchor="middle" textLength="76.90" lengthAdjust="spacingAndGlyphs">Norway</text>
<text class="st" x="301.9" y="-13.5" text-anchor="middle" textLength="120.21" lengthAdjust="spacingAndGlyphs">(Late phase)</text>
<path d="M198.7,320.0 C201.0,317.3 206.1,307.8 212.2,304.0 C218.3,300.2 228.9,297.5 235.2,297.0 C241.5,296.5 245.7,298.5 250.2,301.0 C254.7,303.5 257.9,307.2 262.2,312.0 C266.5,316.8 271.5,324.7 276.2,330.0 C280.9,335.3 285.4,340.7 290.2,344.0 C295.0,347.3 295.5,349.0 305.2,350.0 C314.9,351.0 341.0,350.0 348.2,350.0 L348.2,404.0 C340.2,403.2 311.5,403.7 300.2,399.0 C288.9,394.3 286.5,379.7 280.2,376.0 C273.9,372.3 269.7,373.8 262.2,377.0 C254.7,380.2 245.8,387.7 235.2,395.0 C224.6,402.3 204.8,416.7 198.7,421.0 Z" fill="#999999" fill-opacity="0.4" stroke="none"/>
<g stroke="#8a8a8a" stroke-opacity="0.75" stroke-width="1.1">
<circle cx="277.9" cy="233.0" r="8.7" fill="rgb(255,255,51)" fill-opacity="0.38"/>
<circle cx="288.2" cy="277.3" r="8.7" fill="rgb(255,255,51)" fill-opacity="0.38"/>
<circle cx="289.2" cy="285.4" r="8.7" fill="rgb(255,127,0)" fill-opacity="0.3"/>
<circle cx="283.1" cy="294.3" r="8.7" fill="rgb(255,255,51)" fill-opacity="0.38"/>
<circle cx="306.2" cy="293.6" r="8.7" fill="rgb(152,78,163)" fill-opacity="0.42"/>
<circle cx="295.3" cy="300.4" r="8.7" fill="rgb(255,255,51)" fill-opacity="0.38"/>
<circle cx="298.0" cy="314.7" r="8.7" fill="rgb(255,255,51)" fill-opacity="0.38"/>
<circle cx="318.4" cy="313.3" r="8.7" fill="rgb(152,78,163)" fill-opacity="0.42"/>
<circle cx="325.2" cy="311.0" r="8.7" fill="rgb(255,127,0)" fill-opacity="0.3"/>
<circle cx="328.2" cy="314.0" r="8.7" fill="rgb(152,78,163)" fill-opacity="0.42"/>
<circle cx="335.2" cy="316.0" r="8.7" fill="rgb(152,78,163)" fill-opacity="0.42"/>
<circle cx="342.2" cy="311.0" r="8.7" fill="rgb(255,255,51)" fill-opacity="0.38"/>
<circle cx="350.2" cy="309.0" r="8.7" fill="rgb(255,127,0)" fill-opacity="0.3"/>
<circle cx="338.2" cy="319.0" r="8.7" fill="rgb(255,127,0)" fill-opacity="0.3"/>
<circle cx="338.8" cy="332.4" r="8.7" fill="rgb(255,255,51)" fill-opacity="0.38"/>
<circle cx="267.4" cy="335.1" r="8.7" fill="rgb(152,78,163)" fill-opacity="0.42"/>
<circle cx="270.8" cy="342.6" r="8.7" fill="rgb(255,255,51)" fill-opacity="0.38"/>
<circle cx="280.3" cy="342.6" r="8.7" fill="rgb(255,127,0)" fill-opacity="0.3"/>
<circle cx="303.5" cy="335.1" r="8.7" fill="rgb(152,78,163)" fill-opacity="0.42"/>
<circle cx="317.1" cy="335.1" r="8.7" fill="rgb(255,127,0)" fill-opacity="0.3"/>
<circle cx="293.9" cy="339.2" r="8.7" fill="rgb(255,127,0)" fill-opacity="0.3"/>
<circle cx="302.1" cy="344.6" r="8.7" fill="rgb(255,127,0)" fill-opacity="0.3"/>
<circle cx="314.3" cy="344.6" r="8.7" fill="rgb(255,127,0)" fill-opacity="0.3"/>
<circle cx="308.2" cy="342.0" r="8.7" fill="rgb(255,127,0)" fill-opacity="0.3"/>
<circle cx="325.2" cy="346.0" r="8.7" fill="rgb(152,78,163)" fill-opacity="0.42"/>
<circle cx="281.7" cy="351.4" r="8.7" fill="rgb(255,127,0)" fill-opacity="0.3"/>
<circle cx="272.9" cy="357.5" r="8.7" fill="rgb(255,255,51)" fill-opacity="0.38"/>
<circle cx="326.6" cy="355.5" r="8.7" fill="rgb(152,78,163)" fill-opacity="0.42"/>
<circle cx="333.4" cy="360.3" r="8.7" fill="rgb(255,255,51)" fill-opacity="0.38"/>
<circle cx="343.7" cy="360.3" r="8.7" fill="rgb(152,78,163)" fill-opacity="0.42"/>
<circle cx="345.2" cy="364.0" r="8.7" fill="rgb(255,127,0)" fill-opacity="0.3"/>
<circle cx="317.1" cy="366.4" r="8.7" fill="rgb(152,78,163)" fill-opacity="0.42"/>
<circle cx="276.2" cy="367.7" r="8.7" fill="rgb(255,255,51)" fill-opacity="0.38"/>
<circle cx="289.4" cy="364.2" r="8.7" fill="rgb(255,127,0)" fill-opacity="0.3"/>
<circle cx="295.7" cy="370.7" r="8.7" fill="rgb(255,255,51)" fill-opacity="0.38"/>
<circle cx="294.9" cy="366.4" r="8.7" fill="rgb(152,78,163)" fill-opacity="0.42"/>
<circle cx="300.6" cy="369.1" r="8.7" fill="rgb(255,255,51)" fill-opacity="0.38"/>
<circle cx="302.2" cy="370.3" r="8.7" fill="rgb(255,127,0)" fill-opacity="0.3"/>
<circle cx="304.1" cy="367.2" r="8.7" fill="rgb(255,127,0)" fill-opacity="0.3"/>
<circle cx="282.2" cy="363.1" r="8.7" fill="rgb(255,255,51)" fill-opacity="0.38"/>
<circle cx="300.3" cy="363.3" r="8.7" fill="rgb(152,78,163)" fill-opacity="0.42"/>
<circle cx="298.1" cy="369.7" r="8.7" fill="rgb(255,255,51)" fill-opacity="0.38"/>
<circle cx="304.1" cy="364.0" r="8.7" fill="rgb(255,127,0)" fill-opacity="0.3"/>
<circle cx="289.5" cy="374.3" r="8.7" fill="rgb(255,255,51)" fill-opacity="0.38"/>
<circle cx="280.8" cy="376.2" r="8.7" fill="rgb(255,255,51)" fill-opacity="0.38"/>
<circle cx="291.9" cy="380.8" r="8.7" fill="rgb(255,127,0)" fill-opacity="0.3"/>
<circle cx="284.3" cy="374.3" r="8.7" fill="rgb(255,255,51)" fill-opacity="0.38"/>
<circle cx="279.4" cy="379.1" r="8.7" fill="rgb(255,255,51)" fill-opacity="0.38"/>
<circle cx="289.8" cy="379.4" r="8.7" fill="rgb(255,255,51)" fill-opacity="0.38"/>
<circle cx="279.5" cy="379.9" r="8.7" fill="rgb(255,127,0)" fill-opacity="0.3"/>
<circle cx="293.5" cy="381.0" r="8.7" fill="rgb(255,255,51)" fill-opacity="0.38"/>
<circle cx="302.1" cy="381.3" r="8.7" fill="rgb(255,255,51)" fill-opacity="0.38"/>
<circle cx="313.0" cy="381.3" r="8.7" fill="rgb(255,127,0)" fill-opacity="0.3"/>
<circle cx="333.4" cy="375.9" r="8.7" fill="rgb(255,127,0)" fill-opacity="0.3"/>
<circle cx="328.2" cy="379.0" r="8.7" fill="rgb(152,78,163)" fill-opacity="0.42"/>
<circle cx="322.5" cy="384.1" r="8.7" fill="rgb(255,127,0)" fill-opacity="0.3"/>
<circle cx="271.5" cy="390.2" r="8.7" fill="rgb(255,255,51)" fill-opacity="0.38"/>
<circle cx="315.4" cy="393.6" r="8.7" fill="rgb(255,127,0)" fill-opacity="0.3"/>
<circle cx="334.4" cy="396.9" r="8.7" fill="rgb(255,255,51)" fill-opacity="0.38"/>
<circle cx="326.5" cy="394.0" r="8.7" fill="rgb(255,127,0)" fill-opacity="0.3"/>
<circle cx="310.9" cy="393.3" r="8.7" fill="rgb(255,255,51)" fill-opacity="0.38"/>
<circle cx="323.6" cy="397.5" r="8.7" fill="rgb(255,127,0)" fill-opacity="0.3"/>
<circle cx="329.9" cy="396.6" r="8.7" fill="rgb(255,255,51)" fill-opacity="0.38"/>
<circle cx="325.8" cy="390.8" r="8.7" fill="rgb(255,127,0)" fill-opacity="0.3"/>
<circle cx="340.8" cy="397.2" r="8.7" fill="rgb(255,255,51)" fill-opacity="0.38"/>
<circle cx="351.8" cy="401.8" r="8.7" fill="rgb(255,127,0)" fill-opacity="0.3"/>
<circle cx="317.1" cy="407.2" r="8.7" fill="rgb(255,127,0)" fill-opacity="0.3"/>
<circle cx="168.1" cy="421.5" r="8.7" fill="rgb(152,78,163)" fill-opacity="0.42"/>
<circle cx="299.7" cy="421.4" r="8.7" fill="rgb(255,255,51)" fill-opacity="0.38"/>
<circle cx="300.7" cy="421.4" r="8.7" fill="rgb(255,255,51)" fill-opacity="0.38"/>
<circle cx="314.2" cy="421.4" r="8.7" fill="rgb(255,127,0)" fill-opacity="0.3"/>
<circle cx="316.7" cy="421.4" r="8.7" fill="rgb(255,127,0)" fill-opacity="0.3"/>
<circle cx="319.2" cy="421.4" r="8.7" fill="rgb(255,127,0)" fill-opacity="0.3"/>
<circle cx="322.2" cy="421.4" r="8.7" fill="rgb(152,78,163)" fill-opacity="0.42"/>
<circle cx="329.7" cy="421.4" r="8.7" fill="rgb(152,78,163)" fill-opacity="0.42"/>
<circle cx="330.2" cy="421.4" r="8.7" fill="rgb(255,127,0)" fill-opacity="0.3"/>
<circle cx="338.2" cy="421.4" r="8.7" fill="rgb(255,255,51)" fill-opacity="0.38"/>
<circle cx="340.2" cy="421.4" r="8.7" fill="rgb(255,127,0)" fill-opacity="0.3"/>
<circle cx="343.2" cy="421.4" r="8.7" fill="rgb(255,255,51)" fill-opacity="0.38"/>
<circle cx="350.2" cy="421.4" r="8.7" fill="rgb(255,127,0)" fill-opacity="0.3"/>
</g>
<g class="pl">
<text x="277.9" y="236.0">157</text>
<text x="288.2" y="280.3">150</text>
<text x="289.2" y="288.4">143</text>
<text x="283.1" y="297.3">151</text>
<text x="306.2" y="296.6">94</text>
<text x="295.3" y="303.4">164</text>
<text x="298.0" y="317.7">171</text>
<text x="318.4" y="316.3">106</text>
<text x="325.2" y="314.0">122</text>
<text x="328.2" y="317.0">98</text>
<text x="335.2" y="319.0">92</text>
<text x="342.2" y="314.0">141</text>
<text x="350.2" y="312.0">140</text>
<text x="338.2" y="322.0">115</text>
<text x="338.8" y="335.4">154</text>
<text x="267.4" y="338.1">90</text>
<text x="270.8" y="345.6">160</text>
<text x="280.3" y="345.6">116</text>
<text x="303.5" y="338.1">104</text>
<text x="317.1" y="338.1">131</text>
<text x="293.9" y="342.2">132</text>
<text x="302.1" y="347.6">118</text>
<text x="314.3" y="347.6">120</text>
<text x="308.2" y="345.0">107</text>
<text x="325.2" y="349.0">110</text>
<text x="281.7" y="354.4">145</text>
<text x="272.9" y="360.5">159</text>
<text x="326.6" y="358.5">101</text>
<text x="333.4" y="363.3">161</text>
<text x="343.7" y="363.3">113</text>
<text x="345.2" y="367.0">117</text>
<text x="317.1" y="369.4">97</text>
<text x="276.2" y="370.7">155</text>
<text x="289.4" y="367.2">144</text>
<text x="295.7" y="373.7">172</text>
<text x="294.9" y="369.4">142</text>
<text x="300.6" y="372.1">148</text>
<text x="302.2" y="373.3">135</text>
<text x="304.1" y="370.2">152</text>
<text x="282.2" y="366.1">139</text>
<text x="300.3" y="366.3">166</text>
<text x="298.1" y="372.7">128</text>
<text x="304.1" y="367.0">149</text>
<text x="289.5" y="377.3">158</text>
<text x="280.8" y="379.2">163</text>
<text x="291.9" y="383.8">170</text>
<text x="284.3" y="377.3">168</text>
<text x="279.4" y="382.1">156</text>
<text x="289.8" y="382.4">162</text>
<text x="279.5" y="382.9">167</text>
<text x="293.5" y="384.0">165</text>
<text x="302.1" y="384.3">175</text>
<text x="313.0" y="384.3">136</text>
<text x="333.4" y="378.9">121</text>
<text x="328.2" y="382.0">123</text>
<text x="322.5" y="387.1">134</text>
<text x="271.5" y="393.2">160</text>
<text x="315.4" y="396.6">125</text>
<text x="334.4" y="399.9">166</text>
<text x="326.5" y="397.0">168</text>
<text x="310.9" y="396.3">118</text>
<text x="323.6" y="400.5">126</text>
<text x="329.9" y="399.6">127</text>
<text x="325.8" y="393.8">169</text>
<text x="340.8" y="400.2">129</text>
<text x="351.8" y="404.8">133</text>
<text x="317.1" y="410.2">130</text>
<text x="168.1" y="424.5">100</text>
<text x="149.7" y="424.5">89</text>
<text x="299.7" y="424.4">93</text>
<text x="300.7" y="424.4">95</text>
<text x="314.2" y="424.4">99</text>
<text x="316.7" y="424.4">102</text>
<text x="319.2" y="424.4">103</text>
<text x="322.2" y="424.4">105</text>
<text x="329.7" y="424.4">108</text>
<text x="330.2" y="424.4">109</text>
<text x="338.2" y="424.4">111</text>
<text x="340.2" y="424.4">112</text>
<text x="343.2" y="424.4">114</text>
<text x="350.2" y="424.4">119</text>
<text x="284.7" y="424.4">92</text>
<text x="300.2" y="424.4">173</text>
<text x="302.4" y="424.4">110</text>
<text x="304.6" y="424.4">162</text>
<text x="306.8" y="424.4">133</text>
<text x="309.0" y="424.4">104</text>
<text x="311.2" y="424.4">100</text>
<text x="313.4" y="424.4">118</text>
<text x="315.6" y="424.4">184</text>
<text x="317.8" y="424.4">175</text>
<text x="320.0" y="424.4">160</text>
<text x="322.2" y="424.4">147</text>
<text x="324.4" y="424.4">140</text>
<text x="326.6" y="424.4">102</text>
<text x="328.8" y="424.4">134</text>
<text x="331.0" y="424.4">162</text>
<text x="333.2" y="424.4">125</text>
<text x="345.2" y="424.4">119</text>
<text x="348.2" y="424.4">131</text>
</g>
<path d="M157.9,419.4 C161.8,414.7 172.6,400.2 181.0,390.9 C189.4,381.6 199.1,371.0 208.2,363.7 C217.3,356.4 227.5,350.8 235.4,347.3 C243.3,343.8 249.0,342.8 255.8,342.6 C262.6,342.4 270.5,343.8 276.2,346.0 C281.9,348.2 285.4,350.3 289.9,355.5 C294.5,360.7 299.0,371.6 303.5,377.3 C308.0,383.0 312.6,388.6 317.1,389.5 C321.6,390.4 326.6,384.1 330.7,382.7 C334.8,381.3 338.1,381.3 341.6,381.3 C345.1,381.3 350.1,382.5 351.8,382.7" fill="none" stroke="#3366FF" stroke-width="1.7"/>
<rect x="0" y="0" width="602.4" height="440.5" fill="none" stroke="#333" stroke-width="1.8"/>
<line x1="-4.3" x2="0" y1="420.9" y2="420.9" class="tk"/>
<text class="ax" x="-7.6" y="426.3" text-anchor="end" textLength="21.55" lengthAdjust="spacingAndGlyphs">0.0</text>
<line x1="-4.3" x2="0" y1="363.7" y2="363.7" class="tk"/>
<text class="ax" x="-7.6" y="369.1" text-anchor="end" textLength="21.55" lengthAdjust="spacingAndGlyphs">0.1</text>
<line x1="-4.3" x2="0" y1="306.4" y2="306.4" class="tk"/>
<text class="ax" x="-7.6" y="311.8" text-anchor="end" textLength="21.55" lengthAdjust="spacingAndGlyphs">0.2</text>
<line x1="-4.3" x2="0" y1="249.2" y2="249.2" class="tk"/>
<text class="ax" x="-7.6" y="254.6" text-anchor="end" textLength="21.55" lengthAdjust="spacingAndGlyphs">0.3</text>
<line x1="-4.3" x2="0" y1="191.9" y2="191.9" class="tk"/>
<text class="ax" x="-7.6" y="197.3" text-anchor="end" textLength="21.55" lengthAdjust="spacingAndGlyphs">0.4</text>
<line x1="-4.3" x2="0" y1="134.7" y2="134.7" class="tk"/>
<text class="ax" x="-7.6" y="140.1" text-anchor="end" textLength="21.55" lengthAdjust="spacingAndGlyphs">0.5</text>
<line x1="-4.3" x2="0" y1="77.5" y2="77.5" class="tk"/>
<text class="ax" x="-7.6" y="82.9" text-anchor="end" textLength="21.55" lengthAdjust="spacingAndGlyphs">0.6</text>
<line x1="-4.3" x2="0" y1="20.2" y2="20.2" class="tk"/>
<text class="ax" x="-7.6" y="25.6" text-anchor="end" textLength="21.55" lengthAdjust="spacingAndGlyphs">0.7</text>
<line x1="27.7" x2="27.7" y1="440.5" y2="445.1" class="tk"/>
<text class="ax" x="39.7" y="459.5" text-anchor="end" textLength="34.91" lengthAdjust="spacingAndGlyphs">−100</text>
<line x1="92.1" x2="92.1" y1="440.5" y2="445.1" class="tk"/>
<text class="ax" x="104.1" y="459.5" text-anchor="end" textLength="26.29" lengthAdjust="spacingAndGlyphs">−80</text>
<line x1="156.5" x2="156.5" y1="440.5" y2="445.1" class="tk"/>
<text class="ax" x="168.5" y="459.5" text-anchor="end" textLength="26.29" lengthAdjust="spacingAndGlyphs">−60</text>
<line x1="221.0" x2="221.0" y1="440.5" y2="445.1" class="tk"/>
<text class="ax" x="233.0" y="459.5" text-anchor="end" textLength="26.29" lengthAdjust="spacingAndGlyphs">−40</text>
<line x1="285.4" x2="285.4" y1="440.5" y2="445.1" class="tk"/>
<text class="ax" x="297.4" y="459.5" text-anchor="end" textLength="26.29" lengthAdjust="spacingAndGlyphs">−20</text>
<line x1="349.8" x2="349.8" y1="440.5" y2="445.1" class="tk"/>
<text class="ax" x="361.8" y="459.5" text-anchor="end" textLength="8.62" lengthAdjust="spacingAndGlyphs">0</text>
<line x1="414.2" x2="414.2" y1="440.5" y2="445.1" class="tk"/>
<text class="ax" x="426.2" y="459.5" text-anchor="end" textLength="17.24" lengthAdjust="spacingAndGlyphs">20</text>
<line x1="478.6" x2="478.6" y1="440.5" y2="445.1" class="tk"/>
<text class="ax" x="490.6" y="459.5" text-anchor="end" textLength="17.24" lengthAdjust="spacingAndGlyphs">40</text>
<line x1="543.1" x2="543.1" y1="440.5" y2="445.1" class="tk"/>
<text class="ax" x="555.1" y="459.5" text-anchor="end" textLength="17.24" lengthAdjust="spacingAndGlyphs">60</text>
<text class="at" x="313.2" y="478.5" text-anchor="middle" textLength="155.36" lengthAdjust="spacingAndGlyphs">Mobility (% changed)</text>
<text class="at" transform="translate(-37.2,220.2) rotate(-90)" text-anchor="middle" textLength="74.70" lengthAdjust="spacingAndGlyphs">Case ratio</text>
<text class="lt" x="523.5" y="72.0" textLength="48.93" lengthAdjust="spacingAndGlyphs">Month</text>
<circle cx="537.1" cy="96.0" r="8.7" fill="rgb(152,78,163)" fill-opacity="0.42" stroke="#a0a0a0" stroke-width="1.2"/>
<text class="ll" x="558.3" y="101.0" textLength="22.64" lengthAdjust="spacingAndGlyphs">Jun</text>
<circle cx="537.1" cy="122.8" r="8.7" fill="rgb(255,127,0)" fill-opacity="0.3" stroke="#a0a0a0" stroke-width="1.2"/>
<text class="ll" x="558.3" y="127.8" textLength="17.95" lengthAdjust="spacingAndGlyphs">Jul</text>
<circle cx="537.1" cy="149.7" r="8.7" fill="rgb(255,255,51)" fill-opacity="0.38" stroke="#a0a0a0" stroke-width="1.2"/>
<text class="ll" x="558.3" y="154.7" textLength="24.98" lengthAdjust="spacingAndGlyphs">Aug</text>
</g>
<g transform="translate(59.0,1303.4)">
<text class="tt" x="301.4" y="-42.4" text-anchor="middle" textLength="88.65" lengthAdjust="spacingAndGlyphs">Portugal</text>
<text class="st" x="301.9" y="-13.9" text-anchor="middle" textLength="104.32" lengthAdjust="spacingAndGlyphs">(All period)</text>
<path d="M83.7,381.9 L121.0,378.6 L161.0,372.6 L201.0,366.6 L233.0,365.6 L271.0,375.6 L306.0,373.6 L343.0,358.6 L343.0,371.6 L306.0,384.6 L271.0,386.6 L233.0,377.6 L201.0,378.6 L161.0,386.6 L121.0,396.6 L83.7,411.8 Z" fill="#999999" fill-opacity="0.4" stroke="none"/>
<g stroke="#8a8a8a" stroke-opacity="0.75" stroke-width="1.1">
<circle cx="202.7" cy="316.9" r="8.7" fill="rgb(228,26,28)" fill-opacity="0.3"/>
<circle cx="248.9" cy="319.9" r="8.7" fill="rgb(228,26,28)" fill-opacity="0.3"/>
<circle cx="181.9" cy="335.4" r="8.7" fill="rgb(55,126,184)" fill-opacity="0.3"/>
<circle cx="203.9" cy="340.7" r="8.7" fill="rgb(228,26,28)" fill-opacity="0.3"/>
<circle cx="129.5" cy="342.5" r="8.7" fill="rgb(55,126,184)" fill-opacity="0.3"/>
<circle cx="124.1" cy="352.7" r="8.7" fill="rgb(55,126,184)" fill-opacity="0.3"/>
<circle cx="150.3" cy="359.8" r="8.7" fill="rgb(55,126,184)" fill-opacity="0.3"/>
<circle cx="129.5" cy="365.2" r="8.7" fill="rgb(55,126,184)" fill-opacity="0.3"/>
<circle cx="129.9" cy="365.7" r="8.7" fill="rgb(55,126,184)" fill-opacity="0.3"/>
<circle cx="248.9" cy="363.4" r="8.7" fill="rgb(152,78,163)" fill-opacity="0.3"/>
<circle cx="217.6" cy="359.8" r="8.7" fill="rgb(77,175,74)" fill-opacity="0.3"/>
<circle cx="218.4" cy="360.7" r="8.7" fill="rgb(152,78,163)" fill-opacity="0.3"/>
<circle cx="192.0" cy="363.4" r="8.7" fill="rgb(77,175,74)" fill-opacity="0.3"/>
<circle cx="218.2" cy="369.9" r="8.7" fill="rgb(152,78,163)" fill-opacity="0.3"/>
<circle cx="220.4" cy="372.7" r="8.7" fill="rgb(152,78,163)" fill-opacity="0.3"/>
<circle cx="209.2" cy="377.7" r="8.7" fill="rgb(77,175,74)" fill-opacity="0.3"/>
<circle cx="217.0" cy="388.4" r="8.7" fill="rgb(152,78,163)" fill-opacity="0.3"/>
<circle cx="217.4" cy="388.7" r="8.7" fill="rgb(152,78,163)" fill-opacity="0.3"/>
<circle cx="83.6" cy="395.5" r="8.7" fill="rgb(55,126,184)" fill-opacity="0.3"/>
<circle cx="112.2" cy="378.8" r="8.7" fill="rgb(55,126,184)" fill-opacity="0.3"/>
<circle cx="111.0" cy="390.7" r="8.7" fill="rgb(55,126,184)" fill-opacity="0.3"/>
<circle cx="124.2" cy="386.8" r="8.7" fill="rgb(55,126,184)" fill-opacity="0.3"/>
<circle cx="121.9" cy="397.0" r="8.7" fill="rgb(55,126,184)" fill-opacity="0.3"/>
<circle cx="123.9" cy="388.4" r="8.7" fill="rgb(55,126,184)" fill-opacity="0.3"/>
<circle cx="143.3" cy="383.4" r="8.7" fill="rgb(77,175,74)" fill-opacity="0.3"/>
<circle cx="132.7" cy="390.8" r="8.7" fill="rgb(55,126,184)" fill-opacity="0.3"/>
<circle cx="133.8" cy="382.2" r="8.7" fill="rgb(55,126,184)" fill-opacity="0.3"/>
<circle cx="130.8" cy="396.8" r="8.7" fill="rgb(55,126,184)" fill-opacity="0.3"/>
<circle cx="122.4" cy="390.4" r="8.7" fill="rgb(77,175,74)" fill-opacity="0.3"/>
<circle cx="127.7" cy="395.8" r="8.7" fill="rgb(55,126,184)" fill-opacity="0.3"/>
<circle cx="122.8" cy="395.0" r="8.7" fill="rgb(55,126,184)" fill-opacity="0.3"/>
<circle cx="129.7" cy="397.5" r="8.7" fill="rgb(55,126,184)" fill-opacity="0.3"/>
<circle cx="130.6" cy="399.7" r="8.7" fill="rgb(77,175,74)" fill-opacity="0.3"/>
<circle cx="140.5" cy="396.9" r="8.7" fill="rgb(55,126,184)" fill-opacity="0.3"/>
<circle cx="134.0" cy="376.3" r="8.7" fill="rgb(55,126,184)" fill-opacity="0.3"/>
<circle cx="145.0" cy="385.6" r="8.7" fill="rgb(55,126,184)" fill-opacity="0.3"/>
<circle cx="117.9" cy="384.6" r="8.7" fill="rgb(77,175,74)" fill-opacity="0.3"/>
<circle cx="129.0" cy="377.1" r="8.7" fill="rgb(55,126,184)" fill-opacity="0.3"/>
<circle cx="142.7" cy="388.3" r="8.7" fill="rgb(55,126,184)" fill-opacity="0.3"/>
<circle cx="109.2" cy="408.0" r="8.7" fill="rgb(55,126,184)" fill-opacity="0.3"/>
<circle cx="130.1" cy="409.8" r="8.7" fill="rgb(55,126,184)" fill-opacity="0.3"/>
<circle cx="137.2" cy="406.2" r="8.7" fill="rgb(55,126,184)" fill-opacity="0.3"/>
<circle cx="128.3" cy="401.5" r="8.7" fill="rgb(55,126,184)" fill-opacity="0.3"/>
<circle cx="152.7" cy="387.8" r="8.7" fill="rgb(77,175,74)" fill-opacity="0.3"/>
<circle cx="144.4" cy="387.2" r="8.7" fill="rgb(77,175,74)" fill-opacity="0.3"/>
<circle cx="140.8" cy="396.7" r="8.7" fill="rgb(77,175,74)" fill-opacity="0.3"/>
<circle cx="168.2" cy="385.4" r="8.7" fill="rgb(77,175,74)" fill-opacity="0.3"/>
<circle cx="189.4" cy="384.3" r="8.7" fill="rgb(77,175,74)" fill-opacity="0.3"/>
<circle cx="194.1" cy="382.3" r="8.7" fill="rgb(77,175,74)" fill-opacity="0.3"/>
<circle cx="177.4" cy="380.7" r="8.7" fill="rgb(77,175,74)" fill-opacity="0.3"/>
<circle cx="187.3" cy="372.6" r="8.7" fill="rgb(77,175,74)" fill-opacity="0.3"/>
<circle cx="178.5" cy="378.8" r="8.7" fill="rgb(77,175,74)" fill-opacity="0.3"/>
<circle cx="190.5" cy="382.5" r="8.7" fill="rgb(77,175,74)" fill-opacity="0.3"/>
<circle cx="186.1" cy="389.2" r="8.7" fill="rgb(77,175,74)" fill-opacity="0.3"/>
<circle cx="192.8" cy="385.8" r="8.7" fill="rgb(77,175,74)" fill-opacity="0.3"/>
<circle cx="176.5" cy="385.2" r="8.7" fill="rgb(77,175,74)" fill-opacity="0.3"/>
<circle cx="185.1" cy="376.4" r="8.7" fill="rgb(77,175,74)" fill-opacity="0.3"/>
<circle cx="188.7" cy="392.8" r="8.7" fill="rgb(77,175,74)" fill-opacity="0.3"/>
<circle cx="187.8" cy="382.8" r="8.7" fill="rgb(77,175,74)" fill-opacity="0.3"/>
<circle cx="187.8" cy="385.5" r="8.7" fill="rgb(77,175,74)" fill-opacity="0.3"/>
<circle cx="183.4" cy="376.2" r="8.7" fill="rgb(77,175,74)" fill-opacity="0.3"/>
<circle cx="181.3" cy="394.3" r="8.7" fill="rgb(77,175,74)" fill-opacity="0.3"/>
<circle cx="185.4" cy="395.7" r="8.7" fill="rgb(77,175,74)" fill-opacity="0.3"/>
<circle cx="192.0" cy="390.7" r="8.7" fill="rgb(77,175,74)" fill-opacity="0.3"/>
<circle cx="188.4" cy="371.7" r="8.7" fill="rgb(77,175,74)" fill-opacity="0.3"/>
<circle cx="193.4" cy="376.7" r="8.7" fill="rgb(77,175,74)" fill-opacity="0.3"/>
<circle cx="187.4" cy="374.0" r="8.7" fill="rgb(152,78,163)" fill-opacity="0.3"/>
<circle cx="212.9" cy="376.2" r="8.7" fill="rgb(152,78,163)" fill-opacity="0.3"/>
<circle cx="222.6" cy="400.0" r="8.7" fill="rgb(152,78,163)" fill-opacity="0.3"/>
<circle cx="228.3" cy="364.3" r="8.7" fill="rgb(152,78,163)" fill-opacity="0.3"/>
<circle cx="238.5" cy="363.2" r="8.7" fill="rgb(152,78,163)" fill-opacity="0.3"/>
<circle cx="232.8" cy="380.2" r="8.7" fill="rgb(152,78,163)" fill-opacity="0.3"/>
<circle cx="248.7" cy="366.6" r="8.7" fill="rgb(152,78,163)" fill-opacity="0.3"/>
<circle cx="226.1" cy="366.7" r="8.7" fill="rgb(152,78,163)" fill-opacity="0.3"/>
<circle cx="260.9" cy="382.9" r="8.7" fill="rgb(255,127,0)" fill-opacity="0.3"/>
<circle cx="271.0" cy="373.9" r="8.7" fill="rgb(152,78,163)" fill-opacity="0.3"/>
<circle cx="255.4" cy="388.0" r="8.7" fill="rgb(255,127,0)" fill-opacity="0.3"/>
<circle cx="260.7" cy="375.4" r="8.7" fill="rgb(255,127,0)" fill-opacity="0.3"/>
<circle cx="258.1" cy="374.2" r="8.7" fill="rgb(255,127,0)" fill-opacity="0.3"/>
<circle cx="250.5" cy="385.7" r="8.7" fill="rgb(152,78,163)" fill-opacity="0.3"/>
<circle cx="273.7" cy="387.9" r="8.7" fill="rgb(255,127,0)" fill-opacity="0.3"/>
<circle cx="265.4" cy="374.5" r="8.7" fill="rgb(255,127,0)" fill-opacity="0.3"/>
<circle cx="259.0" cy="367.2" r="8.7" fill="rgb(255,127,0)" fill-opacity="0.3"/>
<circle cx="268.4" cy="373.0" r="8.7" fill="rgb(152,78,163)" fill-opacity="0.3"/>
<circle cx="264.9" cy="390.6" r="8.7" fill="rgb(255,127,0)" fill-opacity="0.3"/>
<circle cx="265.2" cy="368.5" r="8.7" fill="rgb(255,127,0)" fill-opacity="0.3"/>
<circle cx="267.9" cy="371.5" r="8.7" fill="rgb(255,127,0)" fill-opacity="0.3"/>
<circle cx="258.1" cy="366.7" r="8.7" fill="rgb(152,78,163)" fill-opacity="0.3"/>
<circle cx="247.0" cy="375.7" r="8.7" fill="rgb(255,127,0)" fill-opacity="0.3"/>
<circle cx="245.6" cy="376.3" r="8.7" fill="rgb(255,127,0)" fill-opacity="0.3"/>
<circle cx="258.6" cy="365.8" r="8.7" fill="rgb(255,127,0)" fill-opacity="0.3"/>
<circle cx="256.2" cy="364.1" r="8.7" fill="rgb(152,78,163)" fill-opacity="0.3"/>
<circle cx="252.1" cy="385.3" r="8.7" fill="rgb(255,127,0)" fill-opacity="0.3"/>
<circle cx="264.8" cy="362.9" r="8.7" fill="rgb(255,127,0)" fill-opacity="0.3"/>
<circle cx="260.7" cy="377.8" r="8.7" fill="rgb(255,127,0)" fill-opacity="0.3"/>
<circle cx="257.8" cy="366.8" r="8.7" fill="rgb(152,78,163)" fill-opacity="0.3"/>
<circle cx="257.7" cy="365.6" r="8.7" fill="rgb(255,127,0)" fill-opacity="0.3"/>
<circle cx="267.1" cy="386.4" r="8.7" fill="rgb(255,127,0)" fill-opacity="0.3"/>
<circle cx="278.1" cy="364.3" r="8.7" fill="rgb(152,78,163)" fill-opacity="0.3"/>
<circle cx="293.7" cy="400.6" r="8.7" fill="rgb(255,127,0)" fill-opacity="0.3"/>
<circle cx="289.3" cy="385.0" r="8.7" fill="rgb(255,255,51)" fill-opacity="0.3"/>
<circle cx="280.0" cy="383.6" r="8.7" fill="rgb(255,255,51)" fill-opacity="0.3"/>
<circle cx="295.8" cy="395.7" r="8.7" fill="rgb(255,127,0)" fill-opacity="0.3"/>
<circle cx="288.8" cy="388.3" r="8.7" fill="rgb(255,255,51)" fill-opacity="0.3"/>
<circle cx="281.5" cy="373.2" r="8.7" fill="rgb(255,127,0)" fill-opacity="0.3"/>
<circle cx="278.3" cy="386.5" r="8.7" fill="rgb(255,255,51)" fill-opacity="0.3"/>
<circle cx="297.6" cy="389.4" r="8.7" fill="rgb(255,255,51)" fill-opacity="0.3"/>
<circle cx="312.5" cy="377.0" r="8.7" fill="rgb(255,127,0)" fill-opacity="0.3"/>
<circle cx="288.8" cy="383.2" r="8.7" fill="rgb(255,255,51)" fill-opacity="0.3"/>
<circle cx="312.9" cy="377.0" r="8.7" fill="rgb(255,127,0)" fill-opacity="0.3"/>
<circle cx="286.7" cy="381.8" r="8.7" fill="rgb(255,255,51)" fill-opacity="0.3"/>
<circle cx="302.7" cy="375.9" r="8.7" fill="rgb(255,255,51)" fill-opacity="0.3"/>
<circle cx="282.0" cy="394.0" r="8.7" fill="rgb(255,127,0)" fill-opacity="0.3"/>
<circle cx="298.1" cy="387.9" r="8.7" fill="rgb(255,255,51)" fill-opacity="0.3"/>
<circle cx="279.2" cy="379.3" r="8.7" fill="rgb(255,127,0)" fill-opacity="0.3"/>
<circle cx="309.0" cy="379.5" r="8.7" fill="rgb(255,255,51)" fill-opacity="0.3"/>
<circle cx="297.7" cy="400.6" r="8.7" fill="rgb(255,255,51)" fill-opacity="0.3"/>
<circle cx="288.8" cy="380.7" r="8.7" fill="rgb(255,127,0)" fill-opacity="0.3"/>
<circle cx="303.7" cy="378.4" r="8.7" fill="rgb(255,255,51)" fill-opacity="0.3"/>
<circle cx="294.1" cy="379.2" r="8.7" fill="rgb(255,127,0)" fill-opacity="0.3"/>
<circle cx="308.0" cy="385.4" r="8.7" fill="rgb(255,255,51)" fill-opacity="0.3"/>
<circle cx="300.8" cy="369.4" r="8.7" fill="rgb(255,255,51)" fill-opacity="0.3"/>
<circle cx="301.9" cy="373.6" r="8.7" fill="rgb(255,127,0)" fill-opacity="0.3"/>
<circle cx="296.3" cy="378.4" r="8.7" fill="rgb(255,255,51)" fill-opacity="0.3"/>
<circle cx="301.3" cy="370.0" r="8.7" fill="rgb(255,127,0)" fill-opacity="0.3"/>
<circle cx="291.5" cy="391.0" r="8.7" fill="rgb(255,255,51)" fill-opacity="0.3"/>
<circle cx="279.9" cy="380.7" r="8.7" fill="rgb(255,255,51)" fill-opacity="0.3"/>
<circle cx="312.8" cy="387.5" r="8.7" fill="rgb(255,127,0)" fill-opacity="0.3"/>
<circle cx="291.3" cy="367.3" r="8.7" fill="rgb(255,255,51)" fill-opacity="0.3"/>
<circle cx="285.4" cy="379.7" r="8.7" fill="rgb(255,127,0)" fill-opacity="0.3"/>
<circle cx="297.6" cy="371.4" r="8.7" fill="rgb(255,255,51)" fill-opacity="0.3"/>
<circle cx="291.2" cy="396.0" r="8.7" fill="rgb(255,255,51)" fill-opacity="0.3"/>
<circle cx="289.2" cy="366.1" r="8.7" fill="rgb(255,127,0)" fill-opacity="0.3"/>
<circle cx="297.4" cy="350.7" r="8.7" fill="rgb(255,255,51)" fill-opacity="0.3"/>
<circle cx="309.3" cy="346.7" r="8.7" fill="rgb(255,255,51)" fill-opacity="0.3"/>
<circle cx="329.2" cy="350.7" r="8.7" fill="rgb(255,255,51)" fill-opacity="0.3"/>
<circle cx="321.2" cy="358.7" r="8.7" fill="rgb(255,255,51)" fill-opacity="0.3"/>
<circle cx="342.8" cy="358.7" r="8.7" fill="rgb(255,255,51)" fill-opacity="0.3"/>
<circle cx="289.5" cy="358.7" r="8.7" fill="rgb(255,127,0)" fill-opacity="0.3"/>
<circle cx="294.1" cy="356.7" r="8.7" fill="rgb(255,127,0)" fill-opacity="0.3"/>
<circle cx="331.4" cy="377.9" r="8.7" fill="rgb(255,255,51)" fill-opacity="0.3"/>
<circle cx="342.8" cy="374.5" r="8.7" fill="rgb(255,255,51)" fill-opacity="0.3"/>
<circle cx="326.9" cy="371.1" r="8.7" fill="rgb(255,255,51)" fill-opacity="0.3"/>
<circle cx="337.1" cy="376.7" r="8.7" fill="rgb(255,255,51)" fill-opacity="0.3"/>
<circle cx="303.1" cy="394.9" r="8.7" fill="rgb(255,255,51)" fill-opacity="0.3"/>
<circle cx="312.1" cy="396.1" r="8.7" fill="rgb(255,255,51)" fill-opacity="0.3"/>
<circle cx="279.3" cy="404.0" r="8.7" fill="rgb(255,127,0)" fill-opacity="0.3"/>
<circle cx="284.9" cy="400.6" r="8.7" fill="rgb(255,127,0)" fill-opacity="0.3"/>
</g>
<g class="pl">
<text x="202.7" y="319.9">15</text>
<text x="248.9" y="322.9">14</text>
<text x="181.9" y="338.4">18</text>
<text x="203.9" y="343.7">16</text>
<text x="129.5" y="345.5">28</text>
<text x="124.1" y="355.7">42</text>
<text x="150.3" y="362.8">19</text>
<text x="129.5" y="368.2">20</text>
<text x="129.9" y="368.7">30</text>
<text x="248.9" y="366.4">84</text>
<text x="217.6" y="362.8">77</text>
<text x="218.4" y="363.7">81</text>
<text x="192.0" y="366.4">70</text>
<text x="218.2" y="372.9">79</text>
<text x="220.4" y="375.7">83</text>
<text x="209.2" y="380.7">78</text>
<text x="217.0" y="391.4">80</text>
<text x="217.4" y="391.7">82</text>
<text x="83.6" y="398.5">41</text>
<text x="112.2" y="381.8">36</text>
<text x="111.0" y="393.7">43</text>
<text x="124.2" y="389.8">22</text>
<text x="121.9" y="400.0">24</text>
<text x="123.9" y="391.4">26</text>
<text x="143.3" y="386.4">27</text>
<text x="132.7" y="393.8">29</text>
<text x="133.8" y="385.2">32</text>
<text x="130.8" y="399.8">33</text>
<text x="122.4" y="393.4">34</text>
<text x="127.7" y="398.8">37</text>
<text x="122.8" y="398.0">38</text>
<text x="129.7" y="400.5">39</text>
<text x="130.6" y="402.7">40</text>
<text x="140.5" y="399.9">21</text>
<text x="134.0" y="379.3">23</text>
<text x="145.0" y="388.6">25</text>
<text x="117.9" y="387.6">17</text>
<text x="129.0" y="380.1">47</text>
<text x="142.7" y="391.3">48</text>
<text x="109.2" y="411.0">44</text>
<text x="130.1" y="412.8">35</text>
<text x="137.2" y="409.2">46</text>
<text x="128.3" y="404.5">31</text>
<text x="152.7" y="390.8">49</text>
<text x="144.4" y="390.2">59</text>
<text x="140.8" y="399.7">45</text>
<text x="168.2" y="388.4">64</text>
<text x="189.4" y="387.3">50</text>
<text x="194.1" y="385.3">51</text>
<text x="177.4" y="383.7">52</text>
<text x="187.3" y="375.6">53</text>
<text x="178.5" y="381.8">54</text>
<text x="190.5" y="385.5">55</text>
<text x="186.1" y="392.2">56</text>
<text x="192.8" y="388.8">57</text>
<text x="176.5" y="388.2">58</text>
<text x="185.1" y="379.4">60</text>
<text x="188.7" y="395.8">61</text>
<text x="187.8" y="385.8">63</text>
<text x="187.8" y="388.5">67</text>
<text x="183.4" y="379.2">71</text>
<text x="181.3" y="397.3">66</text>
<text x="185.4" y="398.7">62</text>
<text x="192.0" y="393.7">73</text>
<text x="188.4" y="374.7">72</text>
<text x="193.4" y="379.7">74</text>
<text x="187.4" y="377.0">103</text>
<text x="212.9" y="379.2">102</text>
<text x="222.6" y="403.0">86</text>
<text x="228.3" y="367.3">90</text>
<text x="238.5" y="366.2">95</text>
<text x="232.8" y="383.2">92</text>
<text x="248.7" y="369.6">97</text>
<text x="226.1" y="369.7">88</text>
<text x="260.9" y="385.9">111</text>
<text x="271.0" y="376.9">113</text>
<text x="255.4" y="391.0">116</text>
<text x="260.7" y="378.4">99</text>
<text x="258.1" y="377.2">118</text>
<text x="250.5" y="388.7">120</text>
<text x="273.7" y="390.9">101</text>
<text x="265.4" y="377.5">122</text>
<text x="259.0" y="370.2">104</text>
<text x="268.4" y="376.0">124</text>
<text x="264.9" y="393.6">125</text>
<text x="265.2" y="371.5">106</text>
<text x="267.9" y="374.5">126</text>
<text x="258.1" y="369.7">107</text>
<text x="247.0" y="378.7">128</text>
<text x="245.6" y="379.3">96</text>
<text x="258.6" y="368.8">100</text>
<text x="256.2" y="367.1">105</text>
<text x="252.1" y="388.3">108</text>
<text x="264.8" y="365.9">110</text>
<text x="260.7" y="380.8">112</text>
<text x="257.8" y="369.8">114</text>
<text x="257.7" y="368.6">115</text>
<text x="267.1" y="389.4">117</text>
<text x="278.1" y="367.3">109</text>
<text x="293.7" y="403.6">130</text>
<text x="289.3" y="388.0">150</text>
<text x="280.0" y="386.6">131</text>
<text x="295.8" y="398.7">151</text>
<text x="288.8" y="391.3">153</text>
<text x="281.5" y="376.2">133</text>
<text x="278.3" y="389.5">155</text>
<text x="297.6" y="392.4">156</text>
<text x="312.5" y="380.0">134</text>
<text x="288.8" y="386.2">158</text>
<text x="312.9" y="380.0">160</text>
<text x="286.7" y="384.8">136</text>
<text x="302.7" y="378.9">161</text>
<text x="282.0" y="397.0">163</text>
<text x="298.1" y="390.9">137</text>
<text x="279.2" y="382.3">165</text>
<text x="309.0" y="382.5">139</text>
<text x="297.7" y="403.6">166</text>
<text x="288.8" y="383.7">141</text>
<text x="303.7" y="381.4">170</text>
<text x="294.1" y="382.2">143</text>
<text x="308.0" y="388.4">144</text>
<text x="300.8" y="372.4">146</text>
<text x="301.9" y="376.6">148</text>
<text x="296.3" y="381.4">149</text>
<text x="301.3" y="373.0">171</text>
<text x="291.5" y="394.0">43</text>
<text x="279.9" y="383.7">55</text>
<text x="312.8" y="390.5">17</text>
<text x="291.3" y="370.3">91</text>
<text x="285.4" y="382.7">40</text>
<text x="297.6" y="374.4">81</text>
<text x="291.2" y="399.0">72</text>
<text x="289.2" y="369.1">32</text>
<text x="297.4" y="353.7">152</text>
<text x="309.3" y="349.7">167</text>
<text x="329.2" y="353.7">168</text>
<text x="321.2" y="361.7">147</text>
<text x="342.8" y="361.7">169</text>
<text x="289.5" y="361.7">138</text>
<text x="294.1" y="359.7">142</text>
<text x="331.4" y="380.9">157</text>
<text x="342.8" y="377.5">162</text>
<text x="326.9" y="374.1">159</text>
<text x="337.1" y="379.7">164</text>
<text x="303.1" y="397.9">154</text>
<text x="312.1" y="399.1">164</text>
<text x="279.3" y="407.0">132</text>
<text x="284.9" y="403.6">135</text>
</g>
<path d="M83.7,395.5 C89.0,393.8 104.1,388.2 115.4,385.5 C126.7,382.8 139.6,381.1 151.7,379.1 C163.8,377.1 177.4,375.1 188.0,373.7 C198.6,372.3 207.6,370.9 215.2,370.6 C222.8,370.3 227.2,370.6 233.3,371.9 C239.4,373.2 245.4,376.6 251.5,378.2 C257.6,379.8 263.6,380.9 269.6,381.5 C275.7,382.1 281.8,382.3 287.8,381.9 C293.9,381.5 299.9,380.5 305.9,379.1 C311.9,377.7 317.8,376.1 324.0,373.7 C330.2,371.3 339.9,366.1 343.1,364.6" fill="none" stroke="#3366FF" stroke-width="1.7"/>
<rect x="0" y="0" width="602.4" height="440.5" fill="none" stroke="#333" stroke-width="1.8"/>
<line x1="-4.3" x2="0" y1="420.9" y2="420.9" class="tk"/>
<text class="ax" x="-7.6" y="426.3" text-anchor="end" textLength="21.55" lengthAdjust="spacingAndGlyphs">0.0</text>
<line x1="-4.3" x2="0" y1="363.7" y2="363.7" class="tk"/>
<text class="ax" x="-7.6" y="369.1" text-anchor="end" textLength="21.55" lengthAdjust="spacingAndGlyphs">0.1</text>
<line x1="-4.3" x2="0" y1="306.4" y2="306.4" class="tk"/>
<text class="ax" x="-7.6" y="311.8" text-anchor="end" textLength="21.55" lengthAdjust="spacingAndGlyphs">0.2</text>
<line x1="-4.3" x2="0" y1="249.2" y2="249.2" class="tk"/>
<text class="ax" x="-7.6" y="254.6" text-anchor="end" textLength="21.55" lengthAdjust="spacingAndGlyphs">0.3</text>
<line x1="-4.3" x2="0" y1="191.9" y2="191.9" class="tk"/>
<text class="ax" x="-7.6" y="197.3" text-anchor="end" textLength="21.55" lengthAdjust="spacingAndGlyphs">0.4</text>
<line x1="-4.3" x2="0" y1="134.7" y2="134.7" class="tk"/>
<text class="ax" x="-7.6" y="140.1" text-anchor="end" textLength="21.55" lengthAdjust="spacingAndGlyphs">0.5</text>
<line x1="-4.3" x2="0" y1="77.5" y2="77.5" class="tk"/>
<text class="ax" x="-7.6" y="82.9" text-anchor="end" textLength="21.55" lengthAdjust="spacingAndGlyphs">0.6</text>
<line x1="-4.3" x2="0" y1="20.2" y2="20.2" class="tk"/>
<text class="ax" x="-7.6" y="25.6" text-anchor="end" textLength="21.55" lengthAdjust="spacingAndGlyphs">0.7</text>
<line x1="27.7" x2="27.7" y1="440.5" y2="445.1" class="tk"/>
<text class="ax" x="39.7" y="459.4" text-anchor="end" textLength="34.91" lengthAdjust="spacingAndGlyphs">−100</text>
<line x1="92.1" x2="92.1" y1="440.5" y2="445.1" class="tk"/>
<text class="ax" x="104.1" y="459.4" text-anchor="end" textLength="26.29" lengthAdjust="spacingAndGlyphs">−80</text>
<line x1="156.5" x2="156.5" y1="440.5" y2="445.1" class="tk"/>
<text class="ax" x="168.5" y="459.4" text-anchor="end" textLength="26.29" lengthAdjust="spacingAndGlyphs">−60</text>
<line x1="221.0" x2="221.0" y1="440.5" y2="445.1" class="tk"/>
<text class="ax" x="233.0" y="459.4" text-anchor="end" textLength="26.29" lengthAdjust="spacingAndGlyphs">−40</text>
<line x1="285.4" x2="285.4" y1="440.5" y2="445.1" class="tk"/>
<text class="ax" x="297.4" y="459.4" text-anchor="end" textLength="26.29" lengthAdjust="spacingAndGlyphs">−20</text>
<line x1="349.8" x2="349.8" y1="440.5" y2="445.1" class="tk"/>
<text class="ax" x="361.8" y="459.4" text-anchor="end" textLength="8.62" lengthAdjust="spacingAndGlyphs">0</text>
<line x1="414.2" x2="414.2" y1="440.5" y2="445.1" class="tk"/>
<text class="ax" x="426.2" y="459.4" text-anchor="end" textLength="17.24" lengthAdjust="spacingAndGlyphs">20</text>
<line x1="478.6" x2="478.6" y1="440.5" y2="445.1" class="tk"/>
<text class="ax" x="490.6" y="459.4" text-anchor="end" textLength="17.24" lengthAdjust="spacingAndGlyphs">40</text>
<line x1="543.1" x2="543.1" y1="440.5" y2="445.1" class="tk"/>
<text class="ax" x="555.1" y="459.4" text-anchor="end" textLength="17.24" lengthAdjust="spacingAndGlyphs">60</text>
<text class="at" x="313.2" y="478.4" text-anchor="middle" textLength="155.36" lengthAdjust="spacingAndGlyphs">Mobility (% changed)</text>
<text class="at" transform="translate(-37.2,220.2) rotate(-90)" text-anchor="middle" textLength="74.70" lengthAdjust="spacingAndGlyphs">Case ratio</text>
<text class="lt" x="523.5" y="31.7" textLength="48.93" lengthAdjust="spacingAndGlyphs">Month</text>
<circle cx="537.1" cy="55.7" r="8.7" fill="rgb(228,26,28)" fill-opacity="0.3" stroke="#a0a0a0" stroke-width="1.2"/>
<text class="ll" x="558.3" y="60.7" textLength="24.18" lengthAdjust="spacingAndGlyphs">Mar</text>
<circle cx="537.1" cy="82.6" r="8.7" fill="rgb(55,126,184)" fill-opacity="0.3" stroke="#a0a0a0" stroke-width="1.2"/>
<text class="ll" x="558.3" y="87.6" textLength="21.85" lengthAdjust="spacingAndGlyphs">Apr</text>
<circle cx="537.1" cy="109.4" r="8.7" fill="rgb(77,175,74)" fill-opacity="0.3" stroke="#a0a0a0" stroke-width="1.2"/>
<text class="ll" x="558.3" y="114.4" textLength="26.52" lengthAdjust="spacingAndGlyphs">May</text>
<circle cx="537.1" cy="136.2" r="8.7" fill="rgb(152,78,163)" fill-opacity="0.3" stroke="#a0a0a0" stroke-width="1.2"/>
<text class="ll" x="558.3" y="141.2" textLength="22.64" lengthAdjust="spacingAndGlyphs">Jun</text>
<circle cx="537.1" cy="163.1" r="8.7" fill="rgb(255,127,0)" fill-opacity="0.3" stroke="#a0a0a0" stroke-width="1.2"/>
<text class="ll" x="558.3" y="168.1" textLength="17.95" lengthAdjust="spacingAndGlyphs">Jul</text>
<circle cx="537.1" cy="189.9" r="8.7" fill="rgb(255,255,51)" fill-opacity="0.3" stroke="#a0a0a0" stroke-width="1.2"/>
<text class="ll" x="558.3" y="194.9" textLength="24.98" lengthAdjust="spacingAndGlyphs">Aug</text>
</g>
<g transform="translate(726.6,1303.3)">
<text class="tt" x="301.4" y="-42.3" text-anchor="middle" textLength="88.65" lengthAdjust="spacingAndGlyphs">Portugal</text>
<text class="st" x="301.9" y="-13.8" text-anchor="middle" textLength="127.51" lengthAdjust="spacingAndGlyphs">(Early phase)</text>
<path d="M90.8,370.5 C96.2,372.2 113.0,379.7 123.4,380.7 C133.8,381.7 141.7,379.4 153.4,376.7 C165.1,374.0 182.6,368.0 193.4,364.7 C204.2,361.4 211.7,360.0 218.4,356.7 C225.1,353.4 228.3,349.9 233.4,344.7 C238.5,339.5 246.5,328.5 249.1,325.3 L249.1,374.1 C244.8,374.5 231.0,375.4 223.4,376.7 C215.8,378.0 215.1,380.0 203.4,381.7 C191.7,383.4 166.7,384.2 153.4,386.7 C140.1,389.2 133.8,391.3 123.4,396.7 C113.0,402.1 96.2,415.5 90.8,419.3 Z" fill="#999999" fill-opacity="0.4" stroke="none"/>
<g stroke="#8a8a8a" stroke-opacity="0.75" stroke-width="1.1">
<circle cx="202.7" cy="316.9" r="8.7" fill="rgb(228,26,28)" fill-opacity="0.3"/>
<circle cx="248.9" cy="319.9" r="8.7" fill="rgb(228,26,28)" fill-opacity="0.3"/>
<circle cx="181.9" cy="335.4" r="8.7" fill="rgb(55,126,184)" fill-opacity="0.3"/>
<circle cx="203.9" cy="340.7" r="8.7" fill="rgb(228,26,28)" fill-opacity="0.3"/>
<circle cx="129.5" cy="342.5" r="8.7" fill="rgb(55,126,184)" fill-opacity="0.3"/>
<circle cx="124.1" cy="352.7" r="8.7" fill="rgb(55,126,184)" fill-opacity="0.3"/>
<circle cx="150.3" cy="359.8" r="8.7" fill="rgb(55,126,184)" fill-opacity="0.3"/>
<circle cx="129.5" cy="365.2" r="8.7" fill="rgb(55,126,184)" fill-opacity="0.3"/>
<circle cx="129.9" cy="365.7" r="8.7" fill="rgb(55,126,184)" fill-opacity="0.3"/>
<circle cx="248.9" cy="363.4" r="8.7" fill="rgb(152,78,163)" fill-opacity="0.3"/>
<circle cx="217.6" cy="359.8" r="8.7" fill="rgb(77,175,74)" fill-opacity="0.3"/>
<circle cx="218.4" cy="360.7" r="8.7" fill="rgb(152,78,163)" fill-opacity="0.3"/>
<circle cx="192.0" cy="363.4" r="8.7" fill="rgb(77,175,74)" fill-opacity="0.3"/>
<circle cx="218.2" cy="369.9" r="8.7" fill="rgb(152,78,163)" fill-opacity="0.3"/>
<circle cx="220.4" cy="372.7" r="8.7" fill="rgb(152,78,163)" fill-opacity="0.3"/>
<circle cx="209.2" cy="377.7" r="8.7" fill="rgb(77,175,74)" fill-opacity="0.3"/>
<circle cx="217.0" cy="388.4" r="8.7" fill="rgb(152,78,163)" fill-opacity="0.3"/>
<circle cx="217.4" cy="388.7" r="8.7" fill="rgb(152,78,163)" fill-opacity="0.3"/>
<circle cx="83.6" cy="395.5" r="8.7" fill="rgb(55,126,184)" fill-opacity="0.3"/>
<circle cx="112.2" cy="378.8" r="8.7" fill="rgb(55,126,184)" fill-opacity="0.3"/>
<circle cx="111.0" cy="390.7" r="8.7" fill="rgb(55,126,184)" fill-opacity="0.3"/>
<circle cx="124.2" cy="386.8" r="8.7" fill="rgb(55,126,184)" fill-opacity="0.3"/>
<circle cx="121.9" cy="397.0" r="8.7" fill="rgb(55,126,184)" fill-opacity="0.3"/>
<circle cx="123.9" cy="388.4" r="8.7" fill="rgb(55,126,184)" fill-opacity="0.3"/>
<circle cx="143.3" cy="383.4" r="8.7" fill="rgb(77,175,74)" fill-opacity="0.3"/>
<circle cx="132.7" cy="390.8" r="8.7" fill="rgb(55,126,184)" fill-opacity="0.3"/>
<circle cx="133.8" cy="382.2" r="8.7" fill="rgb(55,126,184)" fill-opacity="0.3"/>
<circle cx="130.8" cy="396.8" r="8.7" fill="rgb(55,126,184)" fill-opacity="0.3"/>
<circle cx="122.4" cy="390.4" r="8.7" fill="rgb(77,175,74)" fill-opacity="0.3"/>
<circle cx="127.7" cy="395.8" r="8.7" fill="rgb(55,126,184)" fill-opacity="0.3"/>
<circle cx="122.8" cy="395.0" r="8.7" fill="rgb(55,126,184)" fill-opacity="0.3"/>
<circle cx="129.7" cy="397.5" r="8.7" fill="rgb(55,126,184)" fill-opacity="0.3"/>
<circle cx="130.6" cy="399.7" r="8.7" fill="rgb(77,175,74)" fill-opacity="0.3"/>
<circle cx="140.5" cy="396.9" r="8.7" fill="rgb(55,126,184)" fill-opacity="0.3"/>
<circle cx="134.0" cy="376.3" r="8.7" fill="rgb(55,126,184)" fill-opacity="0.3"/>
<circle cx="145.0" cy="385.6" r="8.7" fill="rgb(55,126,184)" fill-opacity="0.3"/>
<circle cx="117.9" cy="384.6" r="8.7" fill="rgb(77,175,74)" fill-opacity="0.3"/>
<circle cx="129.0" cy="377.1" r="8.7" fill="rgb(55,126,184)" fill-opacity="0.3"/>
<circle cx="142.7" cy="388.3" r="8.7" fill="rgb(55,126,184)" fill-opacity="0.3"/>
<circle cx="109.2" cy="408.0" r="8.7" fill="rgb(55,126,184)" fill-opacity="0.3"/>
<circle cx="130.1" cy="409.8" r="8.7" fill="rgb(55,126,184)" fill-opacity="0.3"/>
<circle cx="137.2" cy="406.2" r="8.7" fill="rgb(55,126,184)" fill-opacity="0.3"/>
<circle cx="128.3" cy="401.5" r="8.7" fill="rgb(55,126,184)" fill-opacity="0.3"/>
<circle cx="152.7" cy="387.8" r="8.7" fill="rgb(77,175,74)" fill-opacity="0.3"/>
<circle cx="144.4" cy="387.2" r="8.7" fill="rgb(77,175,74)" fill-opacity="0.3"/>
<circle cx="140.8" cy="396.7" r="8.7" fill="rgb(77,175,74)" fill-opacity="0.3"/>
<circle cx="168.2" cy="385.4" r="8.7" fill="rgb(77,175,74)" fill-opacity="0.3"/>
<circle cx="189.4" cy="384.3" r="8.7" fill="rgb(77,175,74)" fill-opacity="0.3"/>
<circle cx="194.1" cy="382.3" r="8.7" fill="rgb(77,175,74)" fill-opacity="0.3"/>
<circle cx="177.4" cy="380.7" r="8.7" fill="rgb(77,175,74)" fill-opacity="0.3"/>
<circle cx="187.3" cy="372.6" r="8.7" fill="rgb(77,175,74)" fill-opacity="0.3"/>
<circle cx="178.5" cy="378.8" r="8.7" fill="rgb(77,175,74)" fill-opacity="0.3"/>
<circle cx="190.5" cy="382.5" r="8.7" fill="rgb(77,175,74)" fill-opacity="0.3"/>
<circle cx="186.1" cy="389.2" r="8.7" fill="rgb(77,175,74)" fill-opacity="0.3"/>
<circle cx="192.8" cy="385.8" r="8.7" fill="rgb(77,175,74)" fill-opacity="0.3"/>
<circle cx="176.5" cy="385.2" r="8.7" fill="rgb(77,175,74)" fill-opacity="0.3"/>
<circle cx="185.1" cy="376.4" r="8.7" fill="rgb(77,175,74)" fill-opacity="0.3"/>
<circle cx="188.7" cy="392.8" r="8.7" fill="rgb(77,175,74)" fill-opacity="0.3"/>
<circle cx="187.8" cy="382.8" r="8.7" fill="rgb(77,175,74)" fill-opacity="0.3"/>
<circle cx="187.8" cy="385.5" r="8.7" fill="rgb(77,175,74)" fill-opacity="0.3"/>
<circle cx="183.4" cy="376.2" r="8.7" fill="rgb(77,175,74)" fill-opacity="0.3"/>
<circle cx="181.3" cy="394.3" r="8.7" fill="rgb(77,175,74)" fill-opacity="0.3"/>
<circle cx="185.4" cy="395.7" r="8.7" fill="rgb(77,175,74)" fill-opacity="0.3"/>
<circle cx="192.0" cy="390.7" r="8.7" fill="rgb(77,175,74)" fill-opacity="0.3"/>
<circle cx="188.4" cy="371.7" r="8.7" fill="rgb(77,175,74)" fill-opacity="0.3"/>
<circle cx="193.4" cy="376.7" r="8.7" fill="rgb(77,175,74)" fill-opacity="0.3"/>
</g>
<g class="pl">
<text x="202.7" y="319.9">15</text>
<text x="248.9" y="322.9">14</text>
<text x="181.9" y="338.4">18</text>
<text x="203.9" y="343.7">16</text>
<text x="129.5" y="345.5">28</text>
<text x="124.1" y="355.7">42</text>
<text x="150.3" y="362.8">19</text>
<text x="129.5" y="368.2">20</text>
<text x="129.9" y="368.7">30</text>
<text x="248.9" y="366.4">84</text>
<text x="217.6" y="362.8">77</text>
<text x="218.4" y="363.7">81</text>
<text x="192.0" y="366.4">70</text>
<text x="218.2" y="372.9">79</text>
<text x="220.4" y="375.7">83</text>
<text x="209.2" y="380.7">78</text>
<text x="217.0" y="391.4">80</text>
<text x="217.4" y="391.7">82</text>
<text x="83.6" y="398.5">41</text>
<text x="112.2" y="381.8">36</text>
<text x="111.0" y="393.7">43</text>
<text x="124.2" y="389.8">22</text>
<text x="121.9" y="400.0">24</text>
<text x="123.9" y="391.4">26</text>
<text x="143.3" y="386.4">27</text>
<text x="132.7" y="393.8">29</text>
<text x="133.8" y="385.2">32</text>
<text x="130.8" y="399.8">33</text>
<text x="122.4" y="393.4">34</text>
<text x="127.7" y="398.8">37</text>
<text x="122.8" y="398.0">38</text>
<text x="129.7" y="400.5">39</text>
<text x="130.6" y="402.7">40</text>
<text x="140.5" y="399.9">21</text>
<text x="134.0" y="379.3">23</text>
<text x="145.0" y="388.6">25</text>
<text x="117.9" y="387.6">17</text>
<text x="129.0" y="380.1">47</text>
<text x="142.7" y="391.3">48</text>
<text x="109.2" y="411.0">44</text>
<text x="130.1" y="412.8">35</text>
<text x="137.2" y="409.2">46</text>
<text x="128.3" y="404.5">31</text>
<text x="152.7" y="390.8">49</text>
<text x="144.4" y="390.2">59</text>
<text x="140.8" y="399.7">45</text>
<text x="168.2" y="388.4">64</text>
<text x="189.4" y="387.3">50</text>
<text x="194.1" y="385.3">51</text>
<text x="177.4" y="383.7">52</text>
<text x="187.3" y="375.6">53</text>
<text x="178.5" y="381.8">54</text>
<text x="190.5" y="385.5">55</text>
<text x="186.1" y="392.2">56</text>
<text x="192.8" y="388.8">57</text>
<text x="176.5" y="388.2">58</text>
<text x="185.1" y="379.4">60</text>
<text x="188.7" y="395.8">61</text>
<text x="187.8" y="385.8">63</text>
<text x="187.8" y="388.5">67</text>
<text x="183.4" y="379.2">71</text>
<text x="181.3" y="397.3">66</text>
<text x="185.4" y="398.7">62</text>
<text x="192.0" y="393.7">73</text>
<text x="188.4" y="374.7">72</text>
<text x="193.4" y="379.7">74</text>
</g>
<path d="M83.6,398.5 C87.2,396.8 97.6,391.0 105.1,388.4 C112.7,385.8 121.0,384.0 128.9,383.0 C136.8,382.0 145.8,383.0 152.7,382.4 C159.6,381.8 163.5,381.2 170.5,379.4 C177.5,377.6 186.4,374.2 194.4,371.7 C202.3,369.2 211.3,367.4 218.2,364.6 C225.1,361.8 230.8,358.0 236.0,355.0 C241.2,352.0 246.9,348.1 249.1,346.7" fill="none" stroke="#3366FF" stroke-width="1.7"/>
<rect x="0" y="0" width="602.4" height="440.5" fill="none" stroke="#333" stroke-width="1.8"/>
<line x1="-4.3" x2="0" y1="420.9" y2="420.9" class="tk"/>
<text class="ax" x="-7.6" y="426.3" text-anchor="end" textLength="21.55" lengthAdjust="spacingAndGlyphs">0.0</text>
<line x1="-4.3" x2="0" y1="363.7" y2="363.7" class="tk"/>
<text class="ax" x="-7.6" y="369.1" text-anchor="end" textLength="21.55" lengthAdjust="spacingAndGlyphs">0.1</text>
<line x1="-4.3" x2="0" y1="306.4" y2="306.4" class="tk"/>
<text class="ax" x="-7.6" y="311.8" text-anchor="end" textLength="21.55" lengthAdjust="spacingAndGlyphs">0.2</text>
<line x1="-4.3" x2="0" y1="249.2" y2="249.2" class="tk"/>
<text class="ax" x="-7.6" y="254.6" text-anchor="end" textLength="21.55" lengthAdjust="spacingAndGlyphs">0.3</text>
<line x1="-4.3" x2="0" y1="191.9" y2="191.9" class="tk"/>
<text class="ax" x="-7.6" y="197.3" text-anchor="end" textLength="21.55" lengthAdjust="spacingAndGlyphs">0.4</text>
<line x1="-4.3" x2="0" y1="134.7" y2="134.7" class="tk"/>
<text class="ax" x="-7.6" y="140.1" text-anchor="end" textLength="21.55" lengthAdjust="spacingAndGlyphs">0.5</text>
<line x1="-4.3" x2="0" y1="77.5" y2="77.5" class="tk"/>
<text class="ax" x="-7.6" y="82.9" text-anchor="end" textLength="21.55" lengthAdjust="spacingAndGlyphs">0.6</text>
<line x1="-4.3" x2="0" y1="20.2" y2="20.2" class="tk"/>
<text class="ax" x="-7.6" y="25.6" text-anchor="end" textLength="21.55" lengthAdjust="spacingAndGlyphs">0.7</text>
<line x1="27.7" x2="27.7" y1="440.5" y2="445.1" class="tk"/>
<text class="ax" x="39.7" y="459.4" text-anchor="end" textLength="34.91" lengthAdjust="spacingAndGlyphs">−100</text>
<line x1="92.1" x2="92.1" y1="440.5" y2="445.1" class="tk"/>
<text class="ax" x="104.1" y="459.4" text-anchor="end" textLength="26.29" lengthAdjust="spacingAndGlyphs">−80</text>
<line x1="156.5" x2="156.5" y1="440.5" y2="445.1" class="tk"/>
<text class="ax" x="168.5" y="459.4" text-anchor="end" textLength="26.29" lengthAdjust="spacingAndGlyphs">−60</text>
<line x1="221.0" x2="221.0" y1="440.5" y2="445.1" class="tk"/>
<text class="ax" x="233.0" y="459.4" text-anchor="end" textLength="26.29" lengthAdjust="spacingAndGlyphs">−40</text>
<line x1="285.4" x2="285.4" y1="440.5" y2="445.1" class="tk"/>
<text class="ax" x="297.4" y="459.4" text-anchor="end" textLength="26.29" lengthAdjust="spacingAndGlyphs">−20</text>
<line x1="349.8" x2="349.8" y1="440.5" y2="445.1" class="tk"/>
<text class="ax" x="361.8" y="459.4" text-anchor="end" textLength="8.62" lengthAdjust="spacingAndGlyphs">0</text>
<line x1="414.2" x2="414.2" y1="440.5" y2="445.1" class="tk"/>
<text class="ax" x="426.2" y="459.4" text-anchor="end" textLength="17.24" lengthAdjust="spacingAndGlyphs">20</text>
<line x1="478.6" x2="478.6" y1="440.5" y2="445.1" class="tk"/>
<text class="ax" x="490.6" y="459.4" text-anchor="end" textLength="17.24" lengthAdjust="spacingAndGlyphs">40</text>
<line x1="543.1" x2="543.1" y1="440.5" y2="445.1" class="tk"/>
<text class="ax" x="555.1" y="459.4" text-anchor="end" textLength="17.24" lengthAdjust="spacingAndGlyphs">60</text>
<text class="at" x="313.2" y="478.4" text-anchor="middle" textLength="155.36" lengthAdjust="spacingAndGlyphs">Mobility (% changed)</text>
<text class="at" transform="translate(-37.2,220.2) rotate(-90)" text-anchor="middle" textLength="74.70" lengthAdjust="spacingAndGlyphs">Case ratio</text>
<text class="lt" x="523.5" y="58.5" textLength="48.93" lengthAdjust="spacingAndGlyphs">Month</text>
<circle cx="537.1" cy="82.6" r="8.7" fill="rgb(228,26,28)" fill-opacity="0.3" stroke="#a0a0a0" stroke-width="1.2"/>
<text class="ll" x="558.3" y="87.6" textLength="24.18" lengthAdjust="spacingAndGlyphs">Mar</text>
<circle cx="537.1" cy="109.4" r="8.7" fill="rgb(55,126,184)" fill-opacity="0.3" stroke="#a0a0a0" stroke-width="1.2"/>
<text class="ll" x="558.3" y="114.4" textLength="21.85" lengthAdjust="spacingAndGlyphs">Apr</text>
<circle cx="537.1" cy="136.2" r="8.7" fill="rgb(77,175,74)" fill-opacity="0.3" stroke="#a0a0a0" stroke-width="1.2"/>
<text class="ll" x="558.3" y="141.2" textLength="26.52" lengthAdjust="spacingAndGlyphs">May</text>
<circle cx="537.1" cy="163.1" r="8.7" fill="rgb(152,78,163)" fill-opacity="0.3" stroke="#a0a0a0" stroke-width="1.2"/>
<text class="ll" x="558.3" y="168.1" textLength="22.64" lengthAdjust="spacingAndGlyphs">Jun</text>
</g>
<g transform="translate(1393.9,1303.3)">
<text class="tt" x="301.4" y="-42.3" text-anchor="middle" textLength="88.65" lengthAdjust="spacingAndGlyphs">Portugal</text>
<text class="st" x="301.9" y="-13.8" text-anchor="middle" textLength="120.21" lengthAdjust="spacingAndGlyphs">(Late phase)</text>
<path d="M187.4,354.7 L216.1,368.7 L246.1,374.7 L278.1,381.7 L306.1,368.7 L343.1,361.7 L343.1,376.7 L306.1,380.7 L278.1,390.7 L246.1,384.7 L216.1,380.7 L187.4,396.1 Z" fill="#999999" fill-opacity="0.4" stroke="none"/>
<g stroke="#8a8a8a" stroke-opacity="0.75" stroke-width="1.1">
<circle cx="187.4" cy="374.0" r="8.7" fill="rgb(152,78,163)" fill-opacity="0.42"/>
<circle cx="212.9" cy="376.2" r="8.7" fill="rgb(152,78,163)" fill-opacity="0.42"/>
<circle cx="222.6" cy="400.0" r="8.7" fill="rgb(152,78,163)" fill-opacity="0.42"/>
<circle cx="228.3" cy="364.3" r="8.7" fill="rgb(152,78,163)" fill-opacity="0.42"/>
<circle cx="238.5" cy="363.2" r="8.7" fill="rgb(152,78,163)" fill-opacity="0.42"/>
<circle cx="232.8" cy="380.2" r="8.7" fill="rgb(152,78,163)" fill-opacity="0.42"/>
<circle cx="248.7" cy="366.6" r="8.7" fill="rgb(152,78,163)" fill-opacity="0.42"/>
<circle cx="226.1" cy="366.7" r="8.7" fill="rgb(152,78,163)" fill-opacity="0.42"/>
<circle cx="260.9" cy="382.9" r="8.7" fill="rgb(255,127,0)" fill-opacity="0.3"/>
<circle cx="271.0" cy="373.9" r="8.7" fill="rgb(152,78,163)" fill-opacity="0.42"/>
<circle cx="255.4" cy="388.0" r="8.7" fill="rgb(255,127,0)" fill-opacity="0.3"/>
<circle cx="260.7" cy="375.4" r="8.7" fill="rgb(255,127,0)" fill-opacity="0.3"/>
<circle cx="258.1" cy="374.2" r="8.7" fill="rgb(255,127,0)" fill-opacity="0.3"/>
<circle cx="250.5" cy="385.7" r="8.7" fill="rgb(152,78,163)" fill-opacity="0.42"/>
<circle cx="273.7" cy="387.9" r="8.7" fill="rgb(255,127,0)" fill-opacity="0.3"/>
<circle cx="265.4" cy="374.5" r="8.7" fill="rgb(255,127,0)" fill-opacity="0.3"/>
<circle cx="259.0" cy="367.2" r="8.7" fill="rgb(255,127,0)" fill-opacity="0.3"/>
<circle cx="268.4" cy="373.0" r="8.7" fill="rgb(152,78,163)" fill-opacity="0.42"/>
<circle cx="264.9" cy="390.6" r="8.7" fill="rgb(255,127,0)" fill-opacity="0.3"/>
<circle cx="265.2" cy="368.5" r="8.7" fill="rgb(255,127,0)" fill-opacity="0.3"/>
<circle cx="267.9" cy="371.5" r="8.7" fill="rgb(255,127,0)" fill-opacity="0.3"/>
<circle cx="258.1" cy="366.7" r="8.7" fill="rgb(152,78,163)" fill-opacity="0.42"/>
<circle cx="247.0" cy="375.7" r="8.7" fill="rgb(255,127,0)" fill-opacity="0.3"/>
<circle cx="245.6" cy="376.3" r="8.7" fill="rgb(255,127,0)" fill-opacity="0.3"/>
<circle cx="258.6" cy="365.8" r="8.7" fill="rgb(255,127,0)" fill-opacity="0.3"/>
<circle cx="256.2" cy="364.1" r="8.7" fill="rgb(152,78,163)" fill-opacity="0.42"/>
<circle cx="252.1" cy="385.3" r="8.7" fill="rgb(255,127,0)" fill-opacity="0.3"/>
<circle cx="264.8" cy="362.9" r="8.7" fill="rgb(255,127,0)" fill-opacity="0.3"/>
<circle cx="260.7" cy="377.8" r="8.7" fill="rgb(255,127,0)" fill-opacity="0.3"/>
<circle cx="257.8" cy="366.8" r="8.7" fill="rgb(152,78,163)" fill-opacity="0.42"/>
<circle cx="257.7" cy="365.6" r="8.7" fill="rgb(255,127,0)" fill-opacity="0.3"/>
<circle cx="267.1" cy="386.4" r="8.7" fill="rgb(255,127,0)" fill-opacity="0.3"/>
<circle cx="278.1" cy="364.3" r="8.7" fill="rgb(152,78,163)" fill-opacity="0.42"/>
<circle cx="293.7" cy="400.6" r="8.7" fill="rgb(255,127,0)" fill-opacity="0.3"/>
<circle cx="289.3" cy="385.0" r="8.7" fill="rgb(255,255,51)" fill-opacity="0.38"/>
<circle cx="280.0" cy="383.6" r="8.7" fill="rgb(255,255,51)" fill-opacity="0.38"/>
<circle cx="295.8" cy="395.7" r="8.7" fill="rgb(255,127,0)" fill-opacity="0.3"/>
<circle cx="288.8" cy="388.3" r="8.7" fill="rgb(255,255,51)" fill-opacity="0.38"/>
<circle cx="281.5" cy="373.2" r="8.7" fill="rgb(255,127,0)" fill-opacity="0.3"/>
<circle cx="278.3" cy="386.5" r="8.7" fill="rgb(255,255,51)" fill-opacity="0.38"/>
<circle cx="297.6" cy="389.4" r="8.7" fill="rgb(255,255,51)" fill-opacity="0.38"/>
<circle cx="312.5" cy="377.0" r="8.7" fill="rgb(255,127,0)" fill-opacity="0.3"/>
<circle cx="288.8" cy="383.2" r="8.7" fill="rgb(255,255,51)" fill-opacity="0.38"/>
<circle cx="312.9" cy="377.0" r="8.7" fill="rgb(255,127,0)" fill-opacity="0.3"/>
<circle cx="286.7" cy="381.8" r="8.7" fill="rgb(255,255,51)" fill-opacity="0.38"/>
<circle cx="302.7" cy="375.9" r="8.7" fill="rgb(255,255,51)" fill-opacity="0.38"/>
<circle cx="282.0" cy="394.0" r="8.7" fill="rgb(255,127,0)" fill-opacity="0.3"/>
<circle cx="298.1" cy="387.9" r="8.7" fill="rgb(255,255,51)" fill-opacity="0.38"/>
<circle cx="279.2" cy="379.3" r="8.7" fill="rgb(255,127,0)" fill-opacity="0.3"/>
<circle cx="309.0" cy="379.5" r="8.7" fill="rgb(255,255,51)" fill-opacity="0.38"/>
<circle cx="297.7" cy="400.6" r="8.7" fill="rgb(255,255,51)" fill-opacity="0.38"/>
<circle cx="288.8" cy="380.7" r="8.7" fill="rgb(255,127,0)" fill-opacity="0.3"/>
<circle cx="303.7" cy="378.4" r="8.7" fill="rgb(255,255,51)" fill-opacity="0.38"/>
<circle cx="294.1" cy="379.2" r="8.7" fill="rgb(255,127,0)" fill-opacity="0.3"/>
<circle cx="308.0" cy="385.4" r="8.7" fill="rgb(255,255,51)" fill-opacity="0.38"/>
<circle cx="300.8" cy="369.4" r="8.7" fill="rgb(255,255,51)" fill-opacity="0.38"/>
<circle cx="301.9" cy="373.6" r="8.7" fill="rgb(255,127,0)" fill-opacity="0.3"/>
<circle cx="296.3" cy="378.4" r="8.7" fill="rgb(255,255,51)" fill-opacity="0.38"/>
<circle cx="301.3" cy="370.0" r="8.7" fill="rgb(255,127,0)" fill-opacity="0.3"/>
<circle cx="291.5" cy="391.0" r="8.7" fill="rgb(255,255,51)" fill-opacity="0.38"/>
<circle cx="279.9" cy="380.7" r="8.7" fill="rgb(255,255,51)" fill-opacity="0.38"/>
<circle cx="312.8" cy="387.5" r="8.7" fill="rgb(255,127,0)" fill-opacity="0.3"/>
<circle cx="291.3" cy="367.3" r="8.7" fill="rgb(255,255,51)" fill-opacity="0.38"/>
<circle cx="285.4" cy="379.7" r="8.7" fill="rgb(255,127,0)" fill-opacity="0.3"/>
<circle cx="297.6" cy="371.4" r="8.7" fill="rgb(255,255,51)" fill-opacity="0.38"/>
<circle cx="291.2" cy="396.0" r="8.7" fill="rgb(255,255,51)" fill-opacity="0.38"/>
<circle cx="289.2" cy="366.1" r="8.7" fill="rgb(255,127,0)" fill-opacity="0.3"/>
<circle cx="297.4" cy="350.7" r="8.7" fill="rgb(255,255,51)" fill-opacity="0.38"/>
<circle cx="309.3" cy="346.7" r="8.7" fill="rgb(255,255,51)" fill-opacity="0.38"/>
<circle cx="329.2" cy="350.7" r="8.7" fill="rgb(255,255,51)" fill-opacity="0.38"/>
<circle cx="321.2" cy="358.7" r="8.7" fill="rgb(255,255,51)" fill-opacity="0.38"/>
<circle cx="342.8" cy="358.7" r="8.7" fill="rgb(255,255,51)" fill-opacity="0.38"/>
<circle cx="289.5" cy="358.7" r="8.7" fill="rgb(255,127,0)" fill-opacity="0.3"/>
<circle cx="294.1" cy="356.7" r="8.7" fill="rgb(255,127,0)" fill-opacity="0.3"/>
<circle cx="331.4" cy="377.9" r="8.7" fill="rgb(255,255,51)" fill-opacity="0.38"/>
<circle cx="342.8" cy="374.5" r="8.7" fill="rgb(255,255,51)" fill-opacity="0.38"/>
<circle cx="326.9" cy="371.1" r="8.7" fill="rgb(255,255,51)" fill-opacity="0.38"/>
<circle cx="337.1" cy="376.7" r="8.7" fill="rgb(255,255,51)" fill-opacity="0.38"/>
<circle cx="303.1" cy="394.9" r="8.7" fill="rgb(255,255,51)" fill-opacity="0.38"/>
<circle cx="312.1" cy="396.1" r="8.7" fill="rgb(255,255,51)" fill-opacity="0.38"/>
<circle cx="279.3" cy="404.0" r="8.7" fill="rgb(255,127,0)" fill-opacity="0.3"/>
<circle cx="284.9" cy="400.6" r="8.7" fill="rgb(255,127,0)" fill-opacity="0.3"/>
</g>
<g class="pl">
<text x="187.4" y="377.0">103</text>
<text x="212.9" y="379.2">102</text>
<text x="222.6" y="403.0">86</text>
<text x="228.3" y="367.3">90</text>
<text x="238.5" y="366.2">95</text>
<text x="232.8" y="383.2">92</text>
<text x="248.7" y="369.6">97</text>
<text x="226.1" y="369.7">88</text>
<text x="260.9" y="385.9">111</text>
<text x="271.0" y="376.9">113</text>
<text x="255.4" y="391.0">116</text>
<text x="260.7" y="378.4">99</text>
<text x="258.1" y="377.2">118</text>
<text x="250.5" y="388.7">120</text>
<text x="273.7" y="390.9">101</text>
<text x="265.4" y="377.5">122</text>
<text x="259.0" y="370.2">104</text>
<text x="268.4" y="376.0">124</text>
<text x="264.9" y="393.6">125</text>
<text x="265.2" y="371.5">106</text>
<text x="267.9" y="374.5">126</text>
<text x="258.1" y="369.7">107</text>
<text x="247.0" y="378.7">128</text>
<text x="245.6" y="379.3">96</text>
<text x="258.6" y="368.8">100</text>
<text x="256.2" y="367.1">105</text>
<text x="252.1" y="388.3">108</text>
<text x="264.8" y="365.9">110</text>
<text x="260.7" y="380.8">112</text>
<text x="257.8" y="369.8">114</text>
<text x="257.7" y="368.6">115</text>
<text x="267.1" y="389.4">117</text>
<text x="278.1" y="367.3">109</text>
<text x="293.7" y="403.6">130</text>
<text x="289.3" y="388.0">150</text>
<text x="280.0" y="386.6">131</text>
<text x="295.8" y="398.7">151</text>
<text x="288.8" y="391.3">153</text>
<text x="281.5" y="376.2">133</text>
<text x="278.3" y="389.5">155</text>
<text x="297.6" y="392.4">156</text>
<text x="312.5" y="380.0">134</text>
<text x="288.8" y="386.2">158</text>
<text x="312.9" y="380.0">160</text>
<text x="286.7" y="384.8">136</text>
<text x="302.7" y="378.9">161</text>
<text x="282.0" y="397.0">163</text>
<text x="298.1" y="390.9">137</text>
<text x="279.2" y="382.3">165</text>
<text x="309.0" y="382.5">139</text>
<text x="297.7" y="403.6">166</text>
<text x="288.8" y="383.7">141</text>
<text x="303.7" y="381.4">170</text>
<text x="294.1" y="382.2">143</text>
<text x="308.0" y="388.4">144</text>
<text x="300.8" y="372.4">146</text>
<text x="301.9" y="376.6">148</text>
<text x="296.3" y="381.4">149</text>
<text x="301.3" y="373.0">171</text>
<text x="291.5" y="394.0">43</text>
<text x="279.9" y="383.7">55</text>
<text x="312.8" y="390.5">17</text>
<text x="291.3" y="370.3">91</text>
<text x="285.4" y="382.7">40</text>
<text x="297.6" y="374.4">81</text>
<text x="291.2" y="399.0">72</text>
<text x="289.2" y="369.1">32</text>
<text x="297.4" y="353.7">152</text>
<text x="309.3" y="349.7">167</text>
<text x="329.2" y="353.7">168</text>
<text x="321.2" y="361.7">147</text>
<text x="342.8" y="361.7">169</text>
<text x="289.5" y="361.7">138</text>
<text x="294.1" y="359.7">142</text>
<text x="331.4" y="380.9">157</text>
<text x="342.8" y="377.5">162</text>
<text x="326.9" y="374.1">159</text>
<text x="337.1" y="379.7">164</text>
<text x="303.1" y="397.9">154</text>
<text x="312.1" y="399.1">164</text>
<text x="279.3" y="407.0">132</text>
<text x="284.9" y="403.6">135</text>
</g>
<path d="M187.4,375.4 C191.2,375.4 202.9,375.3 210.1,375.4 C217.3,375.5 222.9,375.0 230.5,376.2 C238.1,377.4 247.6,380.7 255.5,382.5 C263.4,384.3 272.4,387.0 278.1,387.0 C283.8,387.0 283.8,384.6 289.5,382.5 C295.2,380.4 305.5,376.6 312.1,374.5 C318.7,372.4 324.1,371.1 329.2,370.0 C334.3,368.9 340.5,368.1 342.8,367.7" fill="none" stroke="#3366FF" stroke-width="1.7"/>
<rect x="0" y="0" width="602.4" height="440.5" fill="none" stroke="#333" stroke-width="1.8"/>
<line x1="-4.3" x2="0" y1="420.9" y2="420.9" class="tk"/>
<text class="ax" x="-7.6" y="426.3" text-anchor="end" textLength="21.55" lengthAdjust="spacingAndGlyphs">0.0</text>
<line x1="-4.3" x2="0" y1="363.7" y2="363.7" class="tk"/>
<text class="ax" x="-7.6" y="369.1" text-anchor="end" textLength="21.55" lengthAdjust="spacingAndGlyphs">0.1</text>
<line x1="-4.3" x2="0" y1="306.4" y2="306.4" class="tk"/>
<text class="ax" x="-7.6" y="311.8" text-anchor="end" textLength="21.55" lengthAdjust="spacingAndGlyphs">0.2</text>
<line x1="-4.3" x2="0" y1="249.2" y2="249.2" class="tk"/>
<text class="ax" x="-7.6" y="254.6" text-anchor="end" textLength="21.55" lengthAdjust="spacingAndGlyphs">0.3</text>
<line x1="-4.3" x2="0" y1="191.9" y2="191.9" class="tk"/>
<text class="ax" x="-7.6" y="197.3" text-anchor="end" textLength="21.55" lengthAdjust="spacingAndGlyphs">0.4</text>
<line x1="-4.3" x2="0" y1="134.7" y2="134.7" class="tk"/>
<text class="ax" x="-7.6" y="140.1" text-anchor="end" textLength="21.55" lengthAdjust="spacingAndGlyphs">0.5</text>
<line x1="-4.3" x2="0" y1="77.5" y2="77.5" class="tk"/>
<text class="ax" x="-7.6" y="82.9" text-anchor="end" textLength="21.55" lengthAdjust="spacingAndGlyphs">0.6</text>
<line x1="-4.3" x2="0" y1="20.2" y2="20.2" class="tk"/>
<text class="ax" x="-7.6" y="25.6" text-anchor="end" textLength="21.55" lengthAdjust="spacingAndGlyphs">0.7</text>
<line x1="27.7" x2="27.7" y1="440.5" y2="445.1" class="tk"/>
<text class="ax" x="39.7" y="459.4" text-anchor="end" textLength="34.91" lengthAdjust="spacingAndGlyphs">−100</text>
<line x1="92.1" x2="92.1" y1="440.5" y2="445.1" class="tk"/>
<text class="ax" x="104.1" y="459.4" text-anchor="end" textLength="26.29" lengthAdjust="spacingAndGlyphs">−80</text>
<line x1="156.5" x2="156.5" y1="440.5" y2="445.1" class="tk"/>
<text class="ax" x="168.5" y="459.4" text-anchor="end" textLength="26.29" lengthAdjust="spacingAndGlyphs">−60</text>
<line x1="221.0" x2="221.0" y1="440.5" y2="445.1" class="tk"/>
<text class="ax" x="233.0" y="459.4" text-anchor="end" textLength="26.29" lengthAdjust="spacingAndGlyphs">−40</text>
<line x1="285.4" x2="285.4" y1="440.5" y2="445.1" class="tk"/>
<text class="ax" x="297.4" y="459.4" text-anchor="end" textLength="26.29" lengthAdjust="spacingAndGlyphs">−20</text>
<line x1="349.8" x2="349.8" y1="440.5" y2="445.1" class="tk"/>
<text class="ax" x="361.8" y="459.4" text-anchor="end" textLength="8.62" lengthAdjust="spacingAndGlyphs">0</text>
<line x1="414.2" x2="414.2" y1="440.5" y2="445.1" class="tk"/>
<text class="ax" x="426.2" y="459.4" text-anchor="end" textLength="17.24" lengthAdjust="spacingAndGlyphs">20</text>
<line x1="478.6" x2="478.6" y1="440.5" y2="445.1" class="tk"/>
<text class="ax" x="490.6" y="459.4" text-anchor="end" textLength="17.24" lengthAdjust="spacingAndGlyphs">40</text>
<line x1="543.1" x2="543.1" y1="440.5" y2="445.1" class="tk"/>
<text class="ax" x="555.1" y="459.4" text-anchor="end" textLength="17.24" lengthAdjust="spacingAndGlyphs">60</text>
<text class="at" x="313.2" y="478.4" text-anchor="middle" textLength="155.36" lengthAdjust="spacingAndGlyphs">Mobility (% changed)</text>
<text class="at" transform="translate(-37.2,220.2) rotate(-90)" text-anchor="middle" textLength="74.70" lengthAdjust="spacingAndGlyphs">Case ratio</text>
<text class="lt" x="523.5" y="72.0" textLength="48.93" lengthAdjust="spacingAndGlyphs">Month</text>
<circle cx="537.1" cy="96.0" r="8.7" fill="rgb(152,78,163)" fill-opacity="0.42" stroke="#a0a0a0" stroke-width="1.2"/>
<text class="ll" x="558.3" y="101.0" textLength="22.64" lengthAdjust="spacingAndGlyphs">Jun</text>
<circle cx="537.1" cy="122.8" r="8.7" fill="rgb(255,127,0)" fill-opacity="0.3" stroke="#a0a0a0" stroke-width="1.2"/>
<text class="ll" x="558.3" y="127.8" textLength="17.95" lengthAdjust="spacingAndGlyphs">Jul</text>
<circle cx="537.1" cy="149.7" r="8.7" fill="rgb(255,255,51)" fill-opacity="0.38" stroke="#a0a0a0" stroke-width="1.2"/>
<text class="ll" x="558.3" y="154.7" textLength="24.98" lengthAdjust="spacingAndGlyphs">Aug</text>
</g>
<g transform="translate(67.5,1894.2)">
<text class="tt" x="301.4" y="-42.1" text-anchor="middle" textLength="59.19" lengthAdjust="spacingAndGlyphs">Spain</text>
<text class="st" x="301.9" y="-13.4" text-anchor="middle" textLength="104.32" lengthAdjust="spacingAndGlyphs">(All period)</text>
<path d="M65.6,358.0 C68.4,359.6 71.3,365.5 82.5,367.8 C93.7,370.1 114.2,371.8 132.5,371.8 C150.8,371.8 175.8,369.1 192.5,367.8 C209.2,366.5 217.5,365.8 232.5,363.8 C247.5,361.8 265.8,359.5 282.5,355.8 C299.2,352.1 318.1,349.1 332.5,341.8 C346.9,334.4 362.6,316.7 368.6,311.7 L368.6,370.5 C362.6,370.0 346.9,368.1 332.5,367.8 C318.1,367.5 299.2,366.5 282.5,368.8 C265.8,371.1 249.2,377.8 232.5,381.8 C215.8,385.8 199.2,389.6 182.5,392.8 C165.8,396.0 149.2,398.6 132.5,400.8 C115.8,403.0 93.7,402.8 82.5,405.8 C71.3,408.8 68.4,416.6 65.6,418.7 Z" fill="#999999" fill-opacity="0.4" stroke="none"/>
<g stroke="#8a8a8a" stroke-opacity="0.75" stroke-width="1.1">
<circle cx="354.5" cy="298.9" r="8.7" fill="rgb(228,26,28)" fill-opacity="0.3"/>
<circle cx="350.6" cy="311.8" r="8.7" fill="rgb(228,26,28)" fill-opacity="0.3"/>
<circle cx="352.6" cy="319.5" r="8.7" fill="rgb(228,26,28)" fill-opacity="0.3"/>
<circle cx="358.4" cy="319.5" r="8.7" fill="rgb(228,26,28)" fill-opacity="0.3"/>
<circle cx="349.7" cy="329.2" r="8.7" fill="rgb(228,26,28)" fill-opacity="0.3"/>
<circle cx="354.5" cy="327.2" r="8.7" fill="rgb(228,26,28)" fill-opacity="0.3"/>
<circle cx="354.5" cy="335.0" r="8.7" fill="rgb(228,26,28)" fill-opacity="0.3"/>
<circle cx="328.5" cy="337.8" r="8.7" fill="rgb(228,26,28)" fill-opacity="0.3"/>
<circle cx="368.4" cy="342.1" r="8.7" fill="rgb(228,26,28)" fill-opacity="0.3"/>
<circle cx="355.5" cy="354.2" r="8.7" fill="rgb(228,26,28)" fill-opacity="0.3"/>
<circle cx="274.5" cy="344.6" r="8.7" fill="rgb(228,26,28)" fill-opacity="0.3"/>
<circle cx="199.0" cy="358.7" r="8.7" fill="rgb(228,26,28)" fill-opacity="0.3"/>
<circle cx="98.5" cy="308.5" r="8.7" fill="rgb(77,175,74)" fill-opacity="0.3"/>
<circle cx="140.0" cy="332.1" r="8.7" fill="rgb(77,175,74)" fill-opacity="0.3"/>
<circle cx="125.1" cy="368.7" r="8.7" fill="rgb(228,26,28)" fill-opacity="0.3"/>
<circle cx="121.3" cy="375.4" r="8.7" fill="rgb(55,126,184)" fill-opacity="0.3"/>
<circle cx="130.9" cy="374.5" r="8.7" fill="rgb(228,26,28)" fill-opacity="0.3"/>
<circle cx="138.6" cy="381.2" r="8.7" fill="rgb(228,26,28)" fill-opacity="0.3"/>
<circle cx="98.1" cy="376.4" r="8.7" fill="rgb(55,126,184)" fill-opacity="0.3"/>
<circle cx="103.9" cy="378.3" r="8.7" fill="rgb(55,126,184)" fill-opacity="0.3"/>
<circle cx="123.2" cy="387.0" r="8.7" fill="rgb(77,175,74)" fill-opacity="0.3"/>
<circle cx="126.1" cy="388.8" r="8.7" fill="rgb(77,175,74)" fill-opacity="0.3"/>
<circle cx="65.8" cy="394.1" r="8.7" fill="rgb(77,175,74)" fill-opacity="0.3"/>
<circle cx="88.1" cy="398.2" r="8.7" fill="rgb(55,126,184)" fill-opacity="0.3"/>
<circle cx="86.1" cy="386.4" r="8.7" fill="rgb(77,175,74)" fill-opacity="0.3"/>
<circle cx="89.5" cy="403.6" r="8.7" fill="rgb(55,126,184)" fill-opacity="0.3"/>
<circle cx="103.0" cy="390.6" r="8.7" fill="rgb(77,175,74)" fill-opacity="0.3"/>
<circle cx="82.8" cy="390.5" r="8.7" fill="rgb(77,175,74)" fill-opacity="0.3"/>
<circle cx="78.1" cy="399.0" r="8.7" fill="rgb(55,126,184)" fill-opacity="0.3"/>
<circle cx="83.6" cy="385.0" r="8.7" fill="rgb(77,175,74)" fill-opacity="0.3"/>
<circle cx="107.3" cy="393.0" r="8.7" fill="rgb(55,126,184)" fill-opacity="0.3"/>
<circle cx="99.7" cy="387.8" r="8.7" fill="rgb(77,175,74)" fill-opacity="0.3"/>
<circle cx="82.1" cy="387.7" r="8.7" fill="rgb(77,175,74)" fill-opacity="0.3"/>
<circle cx="102.1" cy="395.1" r="8.7" fill="rgb(55,126,184)" fill-opacity="0.3"/>
<circle cx="89.0" cy="391.8" r="8.7" fill="rgb(77,175,74)" fill-opacity="0.3"/>
<circle cx="79.5" cy="387.8" r="8.7" fill="rgb(55,126,184)" fill-opacity="0.3"/>
<circle cx="87.1" cy="392.4" r="8.7" fill="rgb(77,175,74)" fill-opacity="0.3"/>
<circle cx="93.9" cy="396.6" r="8.7" fill="rgb(77,175,74)" fill-opacity="0.3"/>
<circle cx="106.0" cy="389.1" r="8.7" fill="rgb(55,126,184)" fill-opacity="0.3"/>
<circle cx="80.3" cy="389.3" r="8.7" fill="rgb(77,175,74)" fill-opacity="0.3"/>
<circle cx="84.4" cy="396.9" r="8.7" fill="rgb(55,126,184)" fill-opacity="0.3"/>
<circle cx="93.3" cy="389.8" r="8.7" fill="rgb(77,175,74)" fill-opacity="0.3"/>
<circle cx="80.3" cy="401.8" r="8.7" fill="rgb(77,175,74)" fill-opacity="0.3"/>
<circle cx="107.4" cy="410.1" r="8.7" fill="rgb(77,175,74)" fill-opacity="0.3"/>
<circle cx="117.4" cy="406.3" r="8.7" fill="rgb(77,175,74)" fill-opacity="0.3"/>
<circle cx="118.4" cy="401.5" r="8.7" fill="rgb(77,175,74)" fill-opacity="0.3"/>
<circle cx="148.3" cy="409.5" r="8.7" fill="rgb(77,175,74)" fill-opacity="0.3"/>
<circle cx="135.6" cy="396.9" r="8.7" fill="rgb(77,175,74)" fill-opacity="0.3"/>
<circle cx="145.0" cy="394.3" r="8.7" fill="rgb(77,175,74)" fill-opacity="0.3"/>
<circle cx="148.9" cy="398.0" r="8.7" fill="rgb(77,175,74)" fill-opacity="0.3"/>
<circle cx="146.1" cy="401.5" r="8.7" fill="rgb(77,175,74)" fill-opacity="0.3"/>
<circle cx="148.2" cy="393.9" r="8.7" fill="rgb(77,175,74)" fill-opacity="0.3"/>
<circle cx="141.7" cy="397.4" r="8.7" fill="rgb(77,175,74)" fill-opacity="0.3"/>
<circle cx="147.9" cy="392.5" r="8.7" fill="rgb(77,175,74)" fill-opacity="0.3"/>
<circle cx="294.6" cy="218.6" r="8.7" fill="rgb(255,127,0)" fill-opacity="0.3"/>
<circle cx="284.4" cy="252.6" r="8.7" fill="rgb(255,127,0)" fill-opacity="0.3"/>
<circle cx="296.3" cy="260.4" r="8.7" fill="rgb(255,127,0)" fill-opacity="0.3"/>
<circle cx="294.6" cy="268.7" r="8.7" fill="rgb(255,255,51)" fill-opacity="0.3"/>
<circle cx="307.1" cy="269.3" r="8.7" fill="rgb(255,255,51)" fill-opacity="0.3"/>
<circle cx="274.3" cy="285.4" r="8.7" fill="rgb(255,127,0)" fill-opacity="0.3"/>
<circle cx="307.1" cy="285.4" r="8.7" fill="rgb(255,255,51)" fill-opacity="0.3"/>
<circle cx="303.5" cy="290.2" r="8.7" fill="rgb(255,255,51)" fill-opacity="0.3"/>
<circle cx="294.6" cy="308.1" r="8.7" fill="rgb(255,255,51)" fill-opacity="0.3"/>
<circle cx="288.6" cy="332.0" r="8.7" fill="rgb(255,127,0)" fill-opacity="0.3"/>
<circle cx="289.6" cy="330.8" r="8.7" fill="rgb(255,255,51)" fill-opacity="0.3"/>
<circle cx="290.1" cy="332.8" r="8.7" fill="rgb(255,255,51)" fill-opacity="0.3"/>
<circle cx="273.1" cy="339.1" r="8.7" fill="rgb(255,127,0)" fill-opacity="0.3"/>
<circle cx="289.8" cy="337.9" r="8.7" fill="rgb(255,255,51)" fill-opacity="0.3"/>
<circle cx="224.8" cy="347.5" r="8.7" fill="rgb(152,78,163)" fill-opacity="0.3"/>
<circle cx="212.2" cy="358.2" r="8.7" fill="rgb(152,78,163)" fill-opacity="0.3"/>
<circle cx="266.5" cy="354.0" r="8.7" fill="rgb(152,78,163)" fill-opacity="0.3"/>
<circle cx="290.3" cy="364.4" r="8.7" fill="rgb(255,255,51)" fill-opacity="0.3"/>
<circle cx="291.8" cy="362.3" r="8.7" fill="rgb(255,255,51)" fill-opacity="0.3"/>
<circle cx="300.1" cy="355.6" r="8.7" fill="rgb(255,127,0)" fill-opacity="0.3"/>
<circle cx="288.6" cy="373.7" r="8.7" fill="rgb(255,255,51)" fill-opacity="0.3"/>
<circle cx="293.3" cy="378.0" r="8.7" fill="rgb(255,255,51)" fill-opacity="0.3"/>
<circle cx="283.8" cy="361.5" r="8.7" fill="rgb(255,255,51)" fill-opacity="0.3"/>
<circle cx="284.2" cy="354.8" r="8.7" fill="rgb(255,127,0)" fill-opacity="0.3"/>
<circle cx="277.4" cy="366.2" r="8.7" fill="rgb(255,255,51)" fill-opacity="0.3"/>
<circle cx="284.0" cy="368.2" r="8.7" fill="rgb(255,255,51)" fill-opacity="0.3"/>
<circle cx="298.5" cy="360.7" r="8.7" fill="rgb(255,255,51)" fill-opacity="0.3"/>
<circle cx="286.6" cy="377.8" r="8.7" fill="rgb(255,127,0)" fill-opacity="0.3"/>
<circle cx="282.1" cy="375.5" r="8.7" fill="rgb(255,255,51)" fill-opacity="0.3"/>
<circle cx="282.5" cy="364.2" r="8.7" fill="rgb(255,255,51)" fill-opacity="0.3"/>
<circle cx="291.8" cy="379.6" r="8.7" fill="rgb(255,255,51)" fill-opacity="0.3"/>
<circle cx="297.0" cy="376.0" r="8.7" fill="rgb(255,127,0)" fill-opacity="0.3"/>
<circle cx="285.6" cy="361.3" r="8.7" fill="rgb(255,255,51)" fill-opacity="0.3"/>
<circle cx="215.8" cy="369.5" r="8.7" fill="rgb(152,78,163)" fill-opacity="0.3"/>
<circle cx="234.3" cy="368.4" r="8.7" fill="rgb(152,78,163)" fill-opacity="0.3"/>
<circle cx="230.1" cy="374.3" r="8.7" fill="rgb(152,78,163)" fill-opacity="0.3"/>
<circle cx="255.2" cy="368.4" r="8.7" fill="rgb(255,127,0)" fill-opacity="0.3"/>
<circle cx="249.2" cy="375.5" r="8.7" fill="rgb(255,127,0)" fill-opacity="0.3"/>
<circle cx="251.6" cy="381.5" r="8.7" fill="rgb(255,127,0)" fill-opacity="0.3"/>
<circle cx="218.0" cy="382.5" r="8.7" fill="rgb(152,78,163)" fill-opacity="0.3"/>
<circle cx="235.3" cy="396.9" r="8.7" fill="rgb(152,78,163)" fill-opacity="0.3"/>
<circle cx="250.1" cy="391.5" r="8.7" fill="rgb(152,78,163)" fill-opacity="0.3"/>
<circle cx="243.7" cy="372.5" r="8.7" fill="rgb(255,127,0)" fill-opacity="0.3"/>
<circle cx="254.9" cy="380.8" r="8.7" fill="rgb(152,78,163)" fill-opacity="0.3"/>
<circle cx="239.1" cy="370.8" r="8.7" fill="rgb(152,78,163)" fill-opacity="0.3"/>
<circle cx="225.8" cy="393.1" r="8.7" fill="rgb(152,78,163)" fill-opacity="0.3"/>
<circle cx="226.7" cy="378.3" r="8.7" fill="rgb(255,127,0)" fill-opacity="0.3"/>
<circle cx="234.7" cy="382.3" r="8.7" fill="rgb(152,78,163)" fill-opacity="0.3"/>
<circle cx="228.2" cy="376.9" r="8.7" fill="rgb(152,78,163)" fill-opacity="0.3"/>
<circle cx="237.0" cy="384.6" r="8.7" fill="rgb(152,78,163)" fill-opacity="0.3"/>
<circle cx="245.4" cy="381.0" r="8.7" fill="rgb(255,127,0)" fill-opacity="0.3"/>
<circle cx="229.5" cy="387.2" r="8.7" fill="rgb(152,78,163)" fill-opacity="0.3"/>
<circle cx="254.6" cy="387.7" r="8.7" fill="rgb(152,78,163)" fill-opacity="0.3"/>
<circle cx="225.4" cy="374.2" r="8.7" fill="rgb(152,78,163)" fill-opacity="0.3"/>
<circle cx="256.5" cy="377.9" r="8.7" fill="rgb(255,127,0)" fill-opacity="0.3"/>
<circle cx="217.0" cy="387.4" r="8.7" fill="rgb(152,78,163)" fill-opacity="0.3"/>
<circle cx="256.4" cy="384.5" r="8.7" fill="rgb(152,78,163)" fill-opacity="0.3"/>
<circle cx="215.8" cy="395.8" r="8.7" fill="rgb(152,78,163)" fill-opacity="0.3"/>
<circle cx="233.7" cy="391.0" r="8.7" fill="rgb(152,78,163)" fill-opacity="0.3"/>
<circle cx="245.6" cy="391.6" r="8.7" fill="rgb(152,78,163)" fill-opacity="0.3"/>
<circle cx="231.3" cy="398.2" r="8.7" fill="rgb(152,78,163)" fill-opacity="0.3"/>
<circle cx="257.6" cy="397.6" r="8.7" fill="rgb(152,78,163)" fill-opacity="0.3"/>
<circle cx="215.2" cy="405.3" r="8.7" fill="rgb(152,78,163)" fill-opacity="0.3"/>
<circle cx="277.3" cy="384.5" r="8.7" fill="rgb(255,127,0)" fill-opacity="0.3"/>
<circle cx="293.4" cy="385.7" r="8.7" fill="rgb(255,255,51)" fill-opacity="0.3"/>
<circle cx="300.5" cy="375.5" r="8.7" fill="rgb(255,255,51)" fill-opacity="0.3"/>
<circle cx="290.1" cy="421.1" r="8.7" fill="rgb(255,255,51)" fill-opacity="0.3"/>
<circle cx="295.5" cy="421.1" r="8.7" fill="rgb(255,255,51)" fill-opacity="0.3"/>
<circle cx="300.3" cy="421.1" r="8.7" fill="rgb(255,127,0)" fill-opacity="0.3"/>
<circle cx="308.5" cy="421.1" r="8.7" fill="rgb(255,127,0)" fill-opacity="0.3"/>
<circle cx="312.0" cy="421.1" r="8.7" fill="rgb(255,127,0)" fill-opacity="0.3"/>
<circle cx="312.5" cy="421.1" r="8.7" fill="rgb(255,127,0)" fill-opacity="0.3"/>
<circle cx="313.0" cy="421.1" r="8.7" fill="rgb(255,127,0)" fill-opacity="0.3"/>
<circle cx="315.5" cy="421.1" r="8.7" fill="rgb(255,127,0)" fill-opacity="0.3"/>
<circle cx="324.7" cy="421.1" r="8.7" fill="rgb(255,255,51)" fill-opacity="0.3"/>
<circle cx="329.5" cy="421.1" r="8.7" fill="rgb(255,255,51)" fill-opacity="0.3"/>
<circle cx="336.0" cy="421.1" r="8.7" fill="rgb(255,255,51)" fill-opacity="0.3"/>
</g>
<g class="pl">
<text x="354.5" y="301.9">16</text>
<text x="350.6" y="314.8">17</text>
<text x="352.6" y="322.5">18</text>
<text x="358.4" y="322.5">19</text>
<text x="349.7" y="332.2">22</text>
<text x="354.5" y="330.2">23</text>
<text x="354.5" y="338.0">14</text>
<text x="328.5" y="340.8">24</text>
<text x="368.4" y="345.1">20</text>
<text x="355.5" y="357.2">21</text>
<text x="274.5" y="347.6">25</text>
<text x="199.0" y="361.7">26</text>
<text x="98.5" y="311.5">69</text>
<text x="140.0" y="335.1">81</text>
<text x="125.1" y="371.7">29</text>
<text x="121.3" y="378.4">30</text>
<text x="130.9" y="377.5">27</text>
<text x="138.6" y="384.2">28</text>
<text x="98.1" y="379.4">31</text>
<text x="103.9" y="381.3">32</text>
<text x="123.2" y="390.0">78</text>
<text x="126.1" y="391.8">82</text>
<text x="65.8" y="397.1">74</text>
<text x="88.1" y="401.2">33</text>
<text x="86.1" y="389.4">34</text>
<text x="89.5" y="406.6">35</text>
<text x="103.0" y="393.6">36</text>
<text x="82.8" y="393.5">37</text>
<text x="78.1" y="402.0">38</text>
<text x="83.6" y="388.0">39</text>
<text x="107.3" y="396.0">40</text>
<text x="99.7" y="390.8">41</text>
<text x="82.1" y="390.7">42</text>
<text x="102.1" y="398.1">43</text>
<text x="89.0" y="394.8">44</text>
<text x="79.5" y="390.8">45</text>
<text x="87.1" y="395.4">46</text>
<text x="93.9" y="399.6">47</text>
<text x="106.0" y="392.1">48</text>
<text x="80.3" y="392.3">49</text>
<text x="84.4" y="399.9">50</text>
<text x="93.3" y="392.8">52</text>
<text x="80.3" y="404.8">55</text>
<text x="107.4" y="413.1">63</text>
<text x="117.4" y="409.3">75</text>
<text x="118.4" y="404.5">76</text>
<text x="148.3" y="412.5">77</text>
<text x="135.6" y="399.9">73</text>
<text x="145.0" y="397.3">79</text>
<text x="148.9" y="401.0">70</text>
<text x="146.1" y="404.5">71</text>
<text x="148.2" y="396.9">72</text>
<text x="141.7" y="400.4">80</text>
<text x="147.9" y="395.5">83</text>
<text x="294.6" y="221.6">140</text>
<text x="284.4" y="255.6">133</text>
<text x="296.3" y="263.4">147</text>
<text x="294.6" y="271.7">154</text>
<text x="307.1" y="272.3">168</text>
<text x="274.3" y="288.4">126</text>
<text x="307.1" y="288.4">175</text>
<text x="303.5" y="293.2">182</text>
<text x="294.6" y="311.1">161</text>
<text x="288.6" y="335.0">135</text>
<text x="289.6" y="333.8">136</text>
<text x="290.1" y="335.8">138</text>
<text x="273.1" y="342.1">130</text>
<text x="289.8" y="340.9">134</text>
<text x="224.8" y="350.5">108</text>
<text x="212.2" y="361.2">102</text>
<text x="266.5" y="357.0">117</text>
<text x="290.3" y="367.4">141</text>
<text x="291.8" y="365.3">143</text>
<text x="300.1" y="358.6">145</text>
<text x="288.6" y="376.7">148</text>
<text x="293.3" y="381.0">150</text>
<text x="283.8" y="364.5">152</text>
<text x="284.2" y="357.8">155</text>
<text x="277.4" y="369.2">157</text>
<text x="284.0" y="371.2">159</text>
<text x="298.5" y="363.7">162</text>
<text x="286.6" y="380.8">164</text>
<text x="282.1" y="378.5">166</text>
<text x="282.5" y="367.2">169</text>
<text x="291.8" y="382.6">171</text>
<text x="297.0" y="379.0">173</text>
<text x="285.6" y="364.3">177</text>
<text x="215.8" y="372.5">101</text>
<text x="234.3" y="371.4">103</text>
<text x="230.1" y="377.3">107</text>
<text x="255.2" y="371.4">128</text>
<text x="249.2" y="378.5">122</text>
<text x="251.6" y="384.5">124</text>
<text x="218.0" y="385.5">104</text>
<text x="235.3" y="399.9">110</text>
<text x="250.1" y="394.5">111</text>
<text x="243.7" y="375.5">112</text>
<text x="254.9" y="383.8">114</text>
<text x="239.1" y="373.8">115</text>
<text x="225.8" y="396.1">116</text>
<text x="226.7" y="381.3">118</text>
<text x="234.7" y="385.3">120</text>
<text x="228.2" y="379.9">121</text>
<text x="237.0" y="387.6">123</text>
<text x="245.4" y="384.0">125</text>
<text x="229.5" y="390.2">97</text>
<text x="254.6" y="390.7">96</text>
<text x="225.4" y="377.2">95</text>
<text x="256.5" y="380.9">94</text>
<text x="217.0" y="390.4">100</text>
<text x="256.4" y="387.5">106</text>
<text x="215.8" y="398.8">99</text>
<text x="233.7" y="394.0">109</text>
<text x="245.6" y="394.6">113</text>
<text x="231.3" y="401.2">105</text>
<text x="257.6" y="400.6">119</text>
<text x="215.2" y="408.3">98</text>
<text x="277.3" y="387.5">127</text>
<text x="293.4" y="388.7">160</text>
<text x="300.5" y="378.5">163</text>
<text x="278.3" y="424.1">129</text>
<text x="290.1" y="424.1">160</text>
<text x="295.5" y="424.1">163</text>
<text x="300.3" y="424.1">137</text>
<text x="308.5" y="424.1">139</text>
<text x="312.0" y="424.1">141</text>
<text x="312.5" y="424.1">142</text>
<text x="313.0" y="424.1">143</text>
<text x="315.5" y="424.1">145</text>
<text x="324.7" y="424.1">167</text>
<text x="329.5" y="424.1">174</text>
<text x="336.0" y="424.1">181</text>
<text x="302.5" y="424.1">129</text>
<text x="304.7" y="424.1">147</text>
<text x="306.9" y="424.1">148</text>
<text x="309.1" y="424.1">116</text>
<text x="311.3" y="424.1">124</text>
<text x="313.5" y="424.1">105</text>
<text x="315.7" y="424.1">110</text>
<text x="317.9" y="424.1">117</text>
</g>
<path d="M66.0,387.8 C73.4,387.8 96.5,388.1 110.3,387.8 C124.1,387.5 136.1,386.8 148.9,385.9 C161.8,384.9 174.6,383.9 187.4,382.1 C200.2,380.3 213.2,377.9 226.0,375.3 C238.8,372.7 251.7,369.0 264.5,366.6 C277.4,364.2 290.2,363.4 303.1,360.8 C316.0,358.2 330.7,354.3 341.6,351.2 C352.5,348.2 364.1,343.9 368.6,342.5" fill="none" stroke="#3366FF" stroke-width="1.7"/>
<rect x="0" y="0" width="602.4" height="440.5" fill="none" stroke="#333" stroke-width="1.8"/>
<line x1="-4.3" x2="0" y1="420.9" y2="420.9" class="tk"/>
<text class="ax" x="-7.6" y="426.3" text-anchor="end" textLength="21.55" lengthAdjust="spacingAndGlyphs">0.0</text>
<line x1="-4.3" x2="0" y1="363.7" y2="363.7" class="tk"/>
<text class="ax" x="-7.6" y="369.1" text-anchor="end" textLength="21.55" lengthAdjust="spacingAndGlyphs">0.1</text>
<line x1="-4.3" x2="0" y1="306.4" y2="306.4" class="tk"/>
<text class="ax" x="-7.6" y="311.8" text-anchor="end" textLength="21.55" lengthAdjust="spacingAndGlyphs">0.2</text>
<line x1="-4.3" x2="0" y1="249.2" y2="249.2" class="tk"/>
<text class="ax" x="-7.6" y="254.6" text-anchor="end" textLength="21.55" lengthAdjust="spacingAndGlyphs">0.3</text>
<line x1="-4.3" x2="0" y1="191.9" y2="191.9" class="tk"/>
<text class="ax" x="-7.6" y="197.3" text-anchor="end" textLength="21.55" lengthAdjust="spacingAndGlyphs">0.4</text>
<line x1="-4.3" x2="0" y1="134.7" y2="134.7" class="tk"/>
<text class="ax" x="-7.6" y="140.1" text-anchor="end" textLength="21.55" lengthAdjust="spacingAndGlyphs">0.5</text>
<line x1="-4.3" x2="0" y1="77.5" y2="77.5" class="tk"/>
<text class="ax" x="-7.6" y="82.9" text-anchor="end" textLength="21.55" lengthAdjust="spacingAndGlyphs">0.6</text>
<line x1="-4.3" x2="0" y1="20.2" y2="20.2" class="tk"/>
<text class="ax" x="-7.6" y="25.6" text-anchor="end" textLength="21.55" lengthAdjust="spacingAndGlyphs">0.7</text>
<line x1="27.7" x2="27.7" y1="440.5" y2="445.1" class="tk"/>
<text class="ax" x="39.7" y="458.6" text-anchor="end" textLength="34.91" lengthAdjust="spacingAndGlyphs">−100</text>
<line x1="92.1" x2="92.1" y1="440.5" y2="445.1" class="tk"/>
<text class="ax" x="104.1" y="458.6" text-anchor="end" textLength="26.29" lengthAdjust="spacingAndGlyphs">−80</text>
<line x1="156.5" x2="156.5" y1="440.5" y2="445.1" class="tk"/>
<text class="ax" x="168.5" y="458.6" text-anchor="end" textLength="26.29" lengthAdjust="spacingAndGlyphs">−60</text>
<line x1="221.0" x2="221.0" y1="440.5" y2="445.1" class="tk"/>
<text class="ax" x="233.0" y="458.6" text-anchor="end" textLength="26.29" lengthAdjust="spacingAndGlyphs">−40</text>
<line x1="285.4" x2="285.4" y1="440.5" y2="445.1" class="tk"/>
<text class="ax" x="297.4" y="458.6" text-anchor="end" textLength="26.29" lengthAdjust="spacingAndGlyphs">−20</text>
<line x1="349.8" x2="349.8" y1="440.5" y2="445.1" class="tk"/>
<text class="ax" x="361.8" y="458.6" text-anchor="end" textLength="8.62" lengthAdjust="spacingAndGlyphs">0</text>
<line x1="414.2" x2="414.2" y1="440.5" y2="445.1" class="tk"/>
<text class="ax" x="426.2" y="458.6" text-anchor="end" textLength="17.24" lengthAdjust="spacingAndGlyphs">20</text>
<line x1="478.6" x2="478.6" y1="440.5" y2="445.1" class="tk"/>
<text class="ax" x="490.6" y="458.6" text-anchor="end" textLength="17.24" lengthAdjust="spacingAndGlyphs">40</text>
<line x1="543.1" x2="543.1" y1="440.5" y2="445.1" class="tk"/>
<text class="ax" x="555.1" y="458.6" text-anchor="end" textLength="17.24" lengthAdjust="spacingAndGlyphs">60</text>
<text class="at" x="313.2" y="477.6" text-anchor="middle" textLength="155.36" lengthAdjust="spacingAndGlyphs">Mobility (% changed)</text>
<text class="at" transform="translate(-37.2,220.2) rotate(-90)" text-anchor="middle" textLength="74.70" lengthAdjust="spacingAndGlyphs">Case ratio</text>
<text class="lt" x="523.5" y="31.7" textLength="48.93" lengthAdjust="spacingAndGlyphs">Month</text>
<circle cx="537.1" cy="55.7" r="8.7" fill="rgb(228,26,28)" fill-opacity="0.3" stroke="#a0a0a0" stroke-width="1.2"/>
<text class="ll" x="558.3" y="60.7" textLength="24.18" lengthAdjust="spacingAndGlyphs">Mar</text>
<circle cx="537.1" cy="82.6" r="8.7" fill="rgb(55,126,184)" fill-opacity="0.3" stroke="#a0a0a0" stroke-width="1.2"/>
<text class="ll" x="558.3" y="87.6" textLength="21.85" lengthAdjust="spacingAndGlyphs">Apr</text>
<circle cx="537.1" cy="109.4" r="8.7" fill="rgb(77,175,74)" fill-opacity="0.3" stroke="#a0a0a0" stroke-width="1.2"/>
<text class="ll" x="558.3" y="114.4" textLength="26.52" lengthAdjust="spacingAndGlyphs">May</text>
<circle cx="537.1" cy="136.2" r="8.7" fill="rgb(152,78,163)" fill-opacity="0.3" stroke="#a0a0a0" stroke-width="1.2"/>
<text class="ll" x="558.3" y="141.2" textLength="22.64" lengthAdjust="spacingAndGlyphs">Jun</text>
<circle cx="537.1" cy="163.1" r="8.7" fill="rgb(255,127,0)" fill-opacity="0.3" stroke="#a0a0a0" stroke-width="1.2"/>
<text class="ll" x="558.3" y="168.1" textLength="17.95" lengthAdjust="spacingAndGlyphs">Jul</text>
<circle cx="537.1" cy="189.9" r="8.7" fill="rgb(255,255,51)" fill-opacity="0.3" stroke="#a0a0a0" stroke-width="1.2"/>
<text class="ll" x="558.3" y="194.9" textLength="24.98" lengthAdjust="spacingAndGlyphs">Aug</text>
</g>
<g transform="translate(733.9,1894.2)">
<text class="tt" x="301.4" y="-42.1" text-anchor="middle" textLength="59.19" lengthAdjust="spacingAndGlyphs">Spain</text>
<text class="st" x="301.9" y="-13.4" text-anchor="middle" textLength="127.51" lengthAdjust="spacingAndGlyphs">(Early phase)</text>
<path d="M70.2,370.6 C74.5,372.1 85.1,378.6 96.1,379.8 C107.1,381.0 124.4,379.8 136.1,377.8 C147.8,375.8 155.4,372.5 166.1,367.8 C176.8,363.1 188.4,354.7 200.1,349.4 C211.8,344.1 223.3,340.0 236.1,335.8 C248.9,331.6 263.8,327.0 277.1,324.3 C290.4,321.6 304.8,320.7 316.1,319.8 C327.4,318.8 336.4,320.4 345.1,318.6 C353.8,316.8 364.5,310.5 368.4,308.9 L368.4,349.4 C364.5,350.0 353.8,351.9 345.1,353.3 C336.4,354.7 327.4,355.2 316.1,357.8 C304.8,360.4 290.4,364.4 277.1,368.7 C263.8,373.0 248.9,379.3 236.1,383.8 C223.3,388.3 215.1,392.5 200.1,395.7 C185.1,398.9 163.4,401.1 146.1,402.8 C128.8,404.5 108.8,403.4 96.1,405.8 C83.5,408.1 74.5,415.0 70.2,416.9 Z" fill="#999999" fill-opacity="0.4" stroke="none"/>
<g stroke="#8a8a8a" stroke-opacity="0.75" stroke-width="1.1">
<circle cx="354.5" cy="298.9" r="8.7" fill="rgb(228,26,28)" fill-opacity="0.3"/>
<circle cx="350.6" cy="311.8" r="8.7" fill="rgb(228,26,28)" fill-opacity="0.3"/>
<circle cx="352.6" cy="319.5" r="8.7" fill="rgb(228,26,28)" fill-opacity="0.3"/>
<circle cx="358.4" cy="319.5" r="8.7" fill="rgb(228,26,28)" fill-opacity="0.3"/>
<circle cx="349.7" cy="329.2" r="8.7" fill="rgb(228,26,28)" fill-opacity="0.3"/>
<circle cx="354.5" cy="327.2" r="8.7" fill="rgb(228,26,28)" fill-opacity="0.3"/>
<circle cx="354.5" cy="335.0" r="8.7" fill="rgb(228,26,28)" fill-opacity="0.3"/>
<circle cx="328.5" cy="337.8" r="8.7" fill="rgb(228,26,28)" fill-opacity="0.3"/>
<circle cx="368.4" cy="342.1" r="8.7" fill="rgb(228,26,28)" fill-opacity="0.3"/>
<circle cx="355.5" cy="354.2" r="8.7" fill="rgb(228,26,28)" fill-opacity="0.3"/>
<circle cx="274.5" cy="344.6" r="8.7" fill="rgb(228,26,28)" fill-opacity="0.3"/>
<circle cx="199.0" cy="358.7" r="8.7" fill="rgb(228,26,28)" fill-opacity="0.3"/>
<circle cx="98.5" cy="308.5" r="8.7" fill="rgb(77,175,74)" fill-opacity="0.3"/>
<circle cx="140.0" cy="332.1" r="8.7" fill="rgb(77,175,74)" fill-opacity="0.3"/>
<circle cx="125.1" cy="368.7" r="8.7" fill="rgb(228,26,28)" fill-opacity="0.3"/>
<circle cx="121.3" cy="375.4" r="8.7" fill="rgb(55,126,184)" fill-opacity="0.3"/>
<circle cx="130.9" cy="374.5" r="8.7" fill="rgb(228,26,28)" fill-opacity="0.3"/>
<circle cx="138.6" cy="381.2" r="8.7" fill="rgb(228,26,28)" fill-opacity="0.3"/>
<circle cx="98.1" cy="376.4" r="8.7" fill="rgb(55,126,184)" fill-opacity="0.3"/>
<circle cx="103.9" cy="378.3" r="8.7" fill="rgb(55,126,184)" fill-opacity="0.3"/>
<circle cx="123.2" cy="387.0" r="8.7" fill="rgb(77,175,74)" fill-opacity="0.3"/>
<circle cx="126.1" cy="388.8" r="8.7" fill="rgb(77,175,74)" fill-opacity="0.3"/>
<circle cx="65.8" cy="394.1" r="8.7" fill="rgb(77,175,74)" fill-opacity="0.3"/>
<circle cx="88.1" cy="398.2" r="8.7" fill="rgb(55,126,184)" fill-opacity="0.3"/>
<circle cx="86.1" cy="386.4" r="8.7" fill="rgb(77,175,74)" fill-opacity="0.3"/>
<circle cx="89.5" cy="403.6" r="8.7" fill="rgb(55,126,184)" fill-opacity="0.3"/>
<circle cx="103.0" cy="390.6" r="8.7" fill="rgb(77,175,74)" fill-opacity="0.3"/>
<circle cx="82.8" cy="390.5" r="8.7" fill="rgb(77,175,74)" fill-opacity="0.3"/>
<circle cx="78.1" cy="399.0" r="8.7" fill="rgb(55,126,184)" fill-opacity="0.3"/>
<circle cx="83.6" cy="385.0" r="8.7" fill="rgb(77,175,74)" fill-opacity="0.3"/>
<circle cx="107.3" cy="393.0" r="8.7" fill="rgb(55,126,184)" fill-opacity="0.3"/>
<circle cx="99.7" cy="387.8" r="8.7" fill="rgb(77,175,74)" fill-opacity="0.3"/>
<circle cx="82.1" cy="387.7" r="8.7" fill="rgb(77,175,74)" fill-opacity="0.3"/>
<circle cx="102.1" cy="395.1" r="8.7" fill="rgb(55,126,184)" fill-opacity="0.3"/>
<circle cx="89.0" cy="391.8" r="8.7" fill="rgb(77,175,74)" fill-opacity="0.3"/>
<circle cx="79.5" cy="387.8" r="8.7" fill="rgb(55,126,184)" fill-opacity="0.3"/>
<circle cx="87.1" cy="392.4" r="8.7" fill="rgb(77,175,74)" fill-opacity="0.3"/>
<circle cx="93.9" cy="396.6" r="8.7" fill="rgb(77,175,74)" fill-opacity="0.3"/>
<circle cx="106.0" cy="389.1" r="8.7" fill="rgb(55,126,184)" fill-opacity="0.3"/>
<circle cx="80.3" cy="389.3" r="8.7" fill="rgb(77,175,74)" fill-opacity="0.3"/>
<circle cx="84.4" cy="396.9" r="8.7" fill="rgb(55,126,184)" fill-opacity="0.3"/>
<circle cx="93.3" cy="389.8" r="8.7" fill="rgb(77,175,74)" fill-opacity="0.3"/>
<circle cx="80.3" cy="401.8" r="8.7" fill="rgb(77,175,74)" fill-opacity="0.3"/>
<circle cx="107.4" cy="410.1" r="8.7" fill="rgb(77,175,74)" fill-opacity="0.3"/>
<circle cx="117.4" cy="406.3" r="8.7" fill="rgb(77,175,74)" fill-opacity="0.3"/>
<circle cx="118.4" cy="401.5" r="8.7" fill="rgb(77,175,74)" fill-opacity="0.3"/>
<circle cx="148.3" cy="409.5" r="8.7" fill="rgb(77,175,74)" fill-opacity="0.3"/>
<circle cx="135.6" cy="396.9" r="8.7" fill="rgb(77,175,74)" fill-opacity="0.3"/>
<circle cx="145.0" cy="394.3" r="8.7" fill="rgb(77,175,74)" fill-opacity="0.3"/>
<circle cx="148.9" cy="398.0" r="8.7" fill="rgb(77,175,74)" fill-opacity="0.3"/>
<circle cx="146.1" cy="401.5" r="8.7" fill="rgb(77,175,74)" fill-opacity="0.3"/>
<circle cx="148.2" cy="393.9" r="8.7" fill="rgb(77,175,74)" fill-opacity="0.3"/>
<circle cx="141.7" cy="397.4" r="8.7" fill="rgb(77,175,74)" fill-opacity="0.3"/>
<circle cx="147.9" cy="392.5" r="8.7" fill="rgb(77,175,74)" fill-opacity="0.3"/>
</g>
<g class="pl">
<text x="354.5" y="301.9">16</text>
<text x="350.6" y="314.8">17</text>
<text x="352.6" y="322.5">18</text>
<text x="358.4" y="322.5">19</text>
<text x="349.7" y="332.2">22</text>
<text x="354.5" y="330.2">23</text>
<text x="354.5" y="338.0">14</text>
<text x="328.5" y="340.8">24</text>
<text x="368.4" y="345.1">20</text>
<text x="355.5" y="357.2">21</text>
<text x="274.5" y="347.6">25</text>
<text x="199.0" y="361.7">26</text>
<text x="98.5" y="311.5">69</text>
<text x="140.0" y="335.1">81</text>
<text x="125.1" y="371.7">29</text>
<text x="121.3" y="378.4">30</text>
<text x="130.9" y="377.5">27</text>
<text x="138.6" y="384.2">28</text>
<text x="98.1" y="379.4">31</text>
<text x="103.9" y="381.3">32</text>
<text x="123.2" y="390.0">78</text>
<text x="126.1" y="391.8">82</text>
<text x="65.8" y="397.1">74</text>
<text x="88.1" y="401.2">33</text>
<text x="86.1" y="389.4">34</text>
<text x="89.5" y="406.6">35</text>
<text x="103.0" y="393.6">36</text>
<text x="82.8" y="393.5">37</text>
<text x="78.1" y="402.0">38</text>
<text x="83.6" y="388.0">39</text>
<text x="107.3" y="396.0">40</text>
<text x="99.7" y="390.8">41</text>
<text x="82.1" y="390.7">42</text>
<text x="102.1" y="398.1">43</text>
<text x="89.0" y="394.8">44</text>
<text x="79.5" y="390.8">45</text>
<text x="87.1" y="395.4">46</text>
<text x="93.9" y="399.6">47</text>
<text x="106.0" y="392.1">48</text>
<text x="80.3" y="392.3">49</text>
<text x="84.4" y="399.9">50</text>
<text x="93.3" y="392.8">52</text>
<text x="80.3" y="404.8">55</text>
<text x="107.4" y="413.1">63</text>
<text x="117.4" y="409.3">75</text>
<text x="118.4" y="404.5">76</text>
<text x="148.3" y="412.5">77</text>
<text x="135.6" y="399.9">73</text>
<text x="145.0" y="397.3">79</text>
<text x="148.9" y="401.0">70</text>
<text x="146.1" y="404.5">71</text>
<text x="148.2" y="396.9">72</text>
<text x="141.7" y="400.4">80</text>
<text x="147.9" y="395.5">83</text>
</g>
<path d="M66.3,394.7 C69.4,393.9 78.4,390.9 84.7,389.9 C91.0,388.9 98.8,388.3 103.9,388.9 C109.0,389.5 110.7,393.9 115.5,393.7 C120.3,393.6 125.1,389.1 132.8,388.0 C140.5,386.9 150.6,388.9 161.8,387.0 C173.1,385.1 187.5,380.9 200.3,376.4 C213.2,371.9 226.0,365.5 238.9,360.0 C251.7,354.5 264.5,348.3 277.4,343.6 C290.2,339.0 304.8,335.0 316.0,332.1 C327.3,329.2 336.2,327.4 344.9,326.3 C353.6,325.2 364.5,325.5 368.4,325.3" fill="none" stroke="#3366FF" stroke-width="1.7"/>
<rect x="0" y="0" width="602.4" height="440.5" fill="none" stroke="#333" stroke-width="1.8"/>
<line x1="-4.3" x2="0" y1="420.9" y2="420.9" class="tk"/>
<text class="ax" x="-7.6" y="426.3" text-anchor="end" textLength="21.55" lengthAdjust="spacingAndGlyphs">0.0</text>
<line x1="-4.3" x2="0" y1="363.7" y2="363.7" class="tk"/>
<text class="ax" x="-7.6" y="369.1" text-anchor="end" textLength="21.55" lengthAdjust="spacingAndGlyphs">0.1</text>
<line x1="-4.3" x2="0" y1="306.4" y2="306.4" class="tk"/>
<text class="ax" x="-7.6" y="311.8" text-anchor="end" textLength="21.55" lengthAdjust="spacingAndGlyphs">0.2</text>
<line x1="-4.3" x2="0" y1="249.2" y2="249.2" class="tk"/>
<text class="ax" x="-7.6" y="254.6" text-anchor="end" textLength="21.55" lengthAdjust="spacingAndGlyphs">0.3</text>
<line x1="-4.3" x2="0" y1="191.9" y2="191.9" class="tk"/>
<text class="ax" x="-7.6" y="197.3" text-anchor="end" textLength="21.55" lengthAdjust="spacingAndGlyphs">0.4</text>
<line x1="-4.3" x2="0" y1="134.7" y2="134.7" class="tk"/>
<text class="ax" x="-7.6" y="140.1" text-anchor="end" textLength="21.55" lengthAdjust="spacingAndGlyphs">0.5</text>
<line x1="-4.3" x2="0" y1="77.5" y2="77.5" class="tk"/>
<text class="ax" x="-7.6" y="82.9" text-anchor="end" textLength="21.55" lengthAdjust="spacingAndGlyphs">0.6</text>
<line x1="-4.3" x2="0" y1="20.2" y2="20.2" class="tk"/>
<text class="ax" x="-7.6" y="25.6" text-anchor="end" textLength="21.55" lengthAdjust="spacingAndGlyphs">0.7</text>
<line x1="27.7" x2="27.7" y1="440.5" y2="445.1" class="tk"/>
<text class="ax" x="39.7" y="458.6" text-anchor="end" textLength="34.91" lengthAdjust="spacingAndGlyphs">−100</text>
<line x1="92.1" x2="92.1" y1="440.5" y2="445.1" class="tk"/>
<text class="ax" x="104.1" y="458.6" text-anchor="end" textLength="26.29" lengthAdjust="spacingAndGlyphs">−80</text>
<line x1="156.5" x2="156.5" y1="440.5" y2="445.1" class="tk"/>
<text class="ax" x="168.5" y="458.6" text-anchor="end" textLength="26.29" lengthAdjust="spacingAndGlyphs">−60</text>
<line x1="221.0" x2="221.0" y1="440.5" y2="445.1" class="tk"/>
<text class="ax" x="233.0" y="458.6" text-anchor="end" textLength="26.29" lengthAdjust="spacingAndGlyphs">−40</text>
<line x1="285.4" x2="285.4" y1="440.5" y2="445.1" class="tk"/>
<text class="ax" x="297.4" y="458.6" text-anchor="end" textLength="26.29" lengthAdjust="spacingAndGlyphs">−20</text>
<line x1="349.8" x2="349.8" y1="440.5" y2="445.1" class="tk"/>
<text class="ax" x="361.8" y="458.6" text-anchor="end" textLength="8.62" lengthAdjust="spacingAndGlyphs">0</text>
<line x1="414.2" x2="414.2" y1="440.5" y2="445.1" class="tk"/>
<text class="ax" x="426.2" y="458.6" text-anchor="end" textLength="17.24" lengthAdjust="spacingAndGlyphs">20</text>
<line x1="478.6" x2="478.6" y1="440.5" y2="445.1" class="tk"/>
<text class="ax" x="490.6" y="458.6" text-anchor="end" textLength="17.24" lengthAdjust="spacingAndGlyphs">40</text>
<line x1="543.1" x2="543.1" y1="440.5" y2="445.1" class="tk"/>
<text class="ax" x="555.1" y="458.6" text-anchor="end" textLength="17.24" lengthAdjust="spacingAndGlyphs">60</text>
<text class="at" x="313.2" y="477.6" text-anchor="middle" textLength="155.36" lengthAdjust="spacingAndGlyphs">Mobility (% changed)</text>
<text class="at" transform="translate(-37.2,220.2) rotate(-90)" text-anchor="middle" textLength="74.70" lengthAdjust="spacingAndGlyphs">Case ratio</text>
<text class="lt" x="523.5" y="72.0" textLength="48.93" lengthAdjust="spacingAndGlyphs">Month</text>
<circle cx="537.1" cy="96.0" r="8.7" fill="rgb(228,26,28)" fill-opacity="0.3" stroke="#a0a0a0" stroke-width="1.2"/>
<text class="ll" x="558.3" y="101.0" textLength="24.18" lengthAdjust="spacingAndGlyphs">Mar</text>
<circle cx="537.1" cy="122.8" r="8.7" fill="rgb(55,126,184)" fill-opacity="0.3" stroke="#a0a0a0" stroke-width="1.2"/>
<text class="ll" x="558.3" y="127.8" textLength="21.85" lengthAdjust="spacingAndGlyphs">Apr</text>
<circle cx="537.1" cy="149.7" r="8.7" fill="rgb(77,175,74)" fill-opacity="0.3" stroke="#a0a0a0" stroke-width="1.2"/>
<text class="ll" x="558.3" y="154.7" textLength="26.52" lengthAdjust="spacingAndGlyphs">May</text>
</g>
<g transform="translate(1400.9,1894.2)">
<text class="tt" x="301.4" y="-42.1" text-anchor="middle" textLength="59.19" lengthAdjust="spacingAndGlyphs">Spain</text>
<text class="st" x="301.9" y="-13.4" text-anchor="middle" textLength="120.21" lengthAdjust="spacingAndGlyphs">(Late phase)</text>
<path d="M212.1,343.3 L239.1,351.8 L266.1,355.8 L289.1,343.8 L299.1,343.8 L317.1,378.8 L317.1,417.8 L311.1,405.8 L299.1,383.8 L279.1,380.8 L259.1,388.8 L239.1,395.8 L212.1,395.8 Z" fill="#999999" fill-opacity="0.4" stroke="none"/>
<g stroke="#8a8a8a" stroke-opacity="0.75" stroke-width="1.1">
<circle cx="294.6" cy="218.6" r="8.7" fill="rgb(255,127,0)" fill-opacity="0.3"/>
<circle cx="284.4" cy="252.6" r="8.7" fill="rgb(255,127,0)" fill-opacity="0.3"/>
<circle cx="296.3" cy="260.4" r="8.7" fill="rgb(255,127,0)" fill-opacity="0.3"/>
<circle cx="294.6" cy="268.7" r="8.7" fill="rgb(255,255,51)" fill-opacity="0.38"/>
<circle cx="307.1" cy="269.3" r="8.7" fill="rgb(255,255,51)" fill-opacity="0.38"/>
<circle cx="274.3" cy="285.4" r="8.7" fill="rgb(255,127,0)" fill-opacity="0.3"/>
<circle cx="307.1" cy="285.4" r="8.7" fill="rgb(255,255,51)" fill-opacity="0.38"/>
<circle cx="303.5" cy="290.2" r="8.7" fill="rgb(255,255,51)" fill-opacity="0.38"/>
<circle cx="294.6" cy="308.1" r="8.7" fill="rgb(255,255,51)" fill-opacity="0.38"/>
<circle cx="288.6" cy="332.0" r="8.7" fill="rgb(255,127,0)" fill-opacity="0.3"/>
<circle cx="289.6" cy="330.8" r="8.7" fill="rgb(255,255,51)" fill-opacity="0.38"/>
<circle cx="290.1" cy="332.8" r="8.7" fill="rgb(255,255,51)" fill-opacity="0.38"/>
<circle cx="273.1" cy="339.1" r="8.7" fill="rgb(255,127,0)" fill-opacity="0.3"/>
<circle cx="289.8" cy="337.9" r="8.7" fill="rgb(255,255,51)" fill-opacity="0.38"/>
<circle cx="224.8" cy="347.5" r="8.7" fill="rgb(152,78,163)" fill-opacity="0.42"/>
<circle cx="212.2" cy="358.2" r="8.7" fill="rgb(152,78,163)" fill-opacity="0.42"/>
<circle cx="266.5" cy="354.0" r="8.7" fill="rgb(152,78,163)" fill-opacity="0.42"/>
<circle cx="290.3" cy="364.4" r="8.7" fill="rgb(255,255,51)" fill-opacity="0.38"/>
<circle cx="291.8" cy="362.3" r="8.7" fill="rgb(255,255,51)" fill-opacity="0.38"/>
<circle cx="300.1" cy="355.6" r="8.7" fill="rgb(255,127,0)" fill-opacity="0.3"/>
<circle cx="288.6" cy="373.7" r="8.7" fill="rgb(255,255,51)" fill-opacity="0.38"/>
<circle cx="293.3" cy="378.0" r="8.7" fill="rgb(255,255,51)" fill-opacity="0.38"/>
<circle cx="283.8" cy="361.5" r="8.7" fill="rgb(255,255,51)" fill-opacity="0.38"/>
<circle cx="284.2" cy="354.8" r="8.7" fill="rgb(255,127,0)" fill-opacity="0.3"/>
<circle cx="277.4" cy="366.2" r="8.7" fill="rgb(255,255,51)" fill-opacity="0.38"/>
<circle cx="284.0" cy="368.2" r="8.7" fill="rgb(255,255,51)" fill-opacity="0.38"/>
<circle cx="298.5" cy="360.7" r="8.7" fill="rgb(255,255,51)" fill-opacity="0.38"/>
<circle cx="286.6" cy="377.8" r="8.7" fill="rgb(255,127,0)" fill-opacity="0.3"/>
<circle cx="282.1" cy="375.5" r="8.7" fill="rgb(255,255,51)" fill-opacity="0.38"/>
<circle cx="282.5" cy="364.2" r="8.7" fill="rgb(255,255,51)" fill-opacity="0.38"/>
<circle cx="291.8" cy="379.6" r="8.7" fill="rgb(255,255,51)" fill-opacity="0.38"/>
<circle cx="297.0" cy="376.0" r="8.7" fill="rgb(255,127,0)" fill-opacity="0.3"/>
<circle cx="285.6" cy="361.3" r="8.7" fill="rgb(255,255,51)" fill-opacity="0.38"/>
<circle cx="215.8" cy="369.5" r="8.7" fill="rgb(152,78,163)" fill-opacity="0.42"/>
<circle cx="234.3" cy="368.4" r="8.7" fill="rgb(152,78,163)" fill-opacity="0.42"/>
<circle cx="230.1" cy="374.3" r="8.7" fill="rgb(152,78,163)" fill-opacity="0.42"/>
<circle cx="255.2" cy="368.4" r="8.7" fill="rgb(255,127,0)" fill-opacity="0.3"/>
<circle cx="249.2" cy="375.5" r="8.7" fill="rgb(255,127,0)" fill-opacity="0.3"/>
<circle cx="251.6" cy="381.5" r="8.7" fill="rgb(255,127,0)" fill-opacity="0.3"/>
<circle cx="218.0" cy="382.5" r="8.7" fill="rgb(152,78,163)" fill-opacity="0.42"/>
<circle cx="235.3" cy="396.9" r="8.7" fill="rgb(152,78,163)" fill-opacity="0.42"/>
<circle cx="250.1" cy="391.5" r="8.7" fill="rgb(152,78,163)" fill-opacity="0.42"/>
<circle cx="243.7" cy="372.5" r="8.7" fill="rgb(255,127,0)" fill-opacity="0.3"/>
<circle cx="254.9" cy="380.8" r="8.7" fill="rgb(152,78,163)" fill-opacity="0.42"/>
<circle cx="239.1" cy="370.8" r="8.7" fill="rgb(152,78,163)" fill-opacity="0.42"/>
<circle cx="225.8" cy="393.1" r="8.7" fill="rgb(152,78,163)" fill-opacity="0.42"/>
<circle cx="226.7" cy="378.3" r="8.7" fill="rgb(255,127,0)" fill-opacity="0.3"/>
<circle cx="234.7" cy="382.3" r="8.7" fill="rgb(152,78,163)" fill-opacity="0.42"/>
<circle cx="228.2" cy="376.9" r="8.7" fill="rgb(152,78,163)" fill-opacity="0.42"/>
<circle cx="237.0" cy="384.6" r="8.7" fill="rgb(152,78,163)" fill-opacity="0.42"/>
<circle cx="245.4" cy="381.0" r="8.7" fill="rgb(255,127,0)" fill-opacity="0.3"/>
<circle cx="229.5" cy="387.2" r="8.7" fill="rgb(152,78,163)" fill-opacity="0.42"/>
<circle cx="254.6" cy="387.7" r="8.7" fill="rgb(152,78,163)" fill-opacity="0.42"/>
<circle cx="225.4" cy="374.2" r="8.7" fill="rgb(152,78,163)" fill-opacity="0.42"/>
<circle cx="256.5" cy="377.9" r="8.7" fill="rgb(255,127,0)" fill-opacity="0.3"/>
<circle cx="217.0" cy="387.4" r="8.7" fill="rgb(152,78,163)" fill-opacity="0.42"/>
<circle cx="256.4" cy="384.5" r="8.7" fill="rgb(152,78,163)" fill-opacity="0.42"/>
<circle cx="215.8" cy="395.8" r="8.7" fill="rgb(152,78,163)" fill-opacity="0.42"/>
<circle cx="233.7" cy="391.0" r="8.7" fill="rgb(152,78,163)" fill-opacity="0.42"/>
<circle cx="245.6" cy="391.6" r="8.7" fill="rgb(152,78,163)" fill-opacity="0.42"/>
<circle cx="231.3" cy="398.2" r="8.7" fill="rgb(152,78,163)" fill-opacity="0.42"/>
<circle cx="257.6" cy="397.6" r="8.7" fill="rgb(152,78,163)" fill-opacity="0.42"/>
<circle cx="215.2" cy="405.3" r="8.7" fill="rgb(152,78,163)" fill-opacity="0.42"/>
<circle cx="277.3" cy="384.5" r="8.7" fill="rgb(255,127,0)" fill-opacity="0.3"/>
<circle cx="293.4" cy="385.7" r="8.7" fill="rgb(255,255,51)" fill-opacity="0.38"/>
<circle cx="300.5" cy="375.5" r="8.7" fill="rgb(255,255,51)" fill-opacity="0.38"/>
<circle cx="278.0" cy="421.1" r="8.7" fill="rgb(255,127,0)" fill-opacity="0.3"/>
<circle cx="278.6" cy="421.1" r="8.7" fill="rgb(255,127,0)" fill-opacity="0.3"/>
<circle cx="296.9" cy="421.1" r="8.7" fill="rgb(255,127,0)" fill-opacity="0.3"/>
<circle cx="303.1" cy="421.1" r="8.7" fill="rgb(255,255,51)" fill-opacity="0.38"/>
<circle cx="307.1" cy="421.1" r="8.7" fill="rgb(255,127,0)" fill-opacity="0.3"/>
<circle cx="311.1" cy="421.1" r="8.7" fill="rgb(255,255,51)" fill-opacity="0.38"/>
<circle cx="315.1" cy="421.1" r="8.7" fill="rgb(255,255,51)" fill-opacity="0.38"/>
<circle cx="319.1" cy="421.1" r="8.7" fill="rgb(255,255,51)" fill-opacity="0.38"/>
<circle cx="331.5" cy="421.1" r="8.7" fill="rgb(255,255,51)" fill-opacity="0.38"/>
</g>
<g class="pl">
<text x="294.6" y="221.6">140</text>
<text x="284.4" y="255.6">133</text>
<text x="296.3" y="263.4">147</text>
<text x="294.6" y="271.7">154</text>
<text x="307.1" y="272.3">168</text>
<text x="274.3" y="288.4">126</text>
<text x="307.1" y="288.4">175</text>
<text x="303.5" y="293.2">182</text>
<text x="294.6" y="311.1">161</text>
<text x="288.6" y="335.0">135</text>
<text x="289.6" y="333.8">136</text>
<text x="290.1" y="335.8">138</text>
<text x="273.1" y="342.1">130</text>
<text x="289.8" y="340.9">134</text>
<text x="224.8" y="350.5">108</text>
<text x="212.2" y="361.2">102</text>
<text x="266.5" y="357.0">117</text>
<text x="290.3" y="367.4">141</text>
<text x="291.8" y="365.3">143</text>
<text x="300.1" y="358.6">145</text>
<text x="288.6" y="376.7">148</text>
<text x="293.3" y="381.0">150</text>
<text x="283.8" y="364.5">152</text>
<text x="284.2" y="357.8">155</text>
<text x="277.4" y="369.2">157</text>
<text x="284.0" y="371.2">159</text>
<text x="298.5" y="363.7">162</text>
<text x="286.6" y="380.8">164</text>
<text x="282.1" y="378.5">166</text>
<text x="282.5" y="367.2">169</text>
<text x="291.8" y="382.6">171</text>
<text x="297.0" y="379.0">173</text>
<text x="285.6" y="364.3">177</text>
<text x="215.8" y="372.5">101</text>
<text x="234.3" y="371.4">103</text>
<text x="230.1" y="377.3">107</text>
<text x="255.2" y="371.4">128</text>
<text x="249.2" y="378.5">122</text>
<text x="251.6" y="384.5">124</text>
<text x="218.0" y="385.5">104</text>
<text x="235.3" y="399.9">110</text>
<text x="250.1" y="394.5">111</text>
<text x="243.7" y="375.5">112</text>
<text x="254.9" y="383.8">114</text>
<text x="239.1" y="373.8">115</text>
<text x="225.8" y="396.1">116</text>
<text x="226.7" y="381.3">118</text>
<text x="234.7" y="385.3">120</text>
<text x="228.2" y="379.9">121</text>
<text x="237.0" y="387.6">123</text>
<text x="245.4" y="384.0">125</text>
<text x="229.5" y="390.2">97</text>
<text x="254.6" y="390.7">96</text>
<text x="225.4" y="377.2">95</text>
<text x="256.5" y="380.9">94</text>
<text x="217.0" y="390.4">100</text>
<text x="256.4" y="387.5">106</text>
<text x="215.8" y="398.8">99</text>
<text x="233.7" y="394.0">109</text>
<text x="245.6" y="394.6">113</text>
<text x="231.3" y="401.2">105</text>
<text x="257.6" y="400.6">119</text>
<text x="215.2" y="408.3">98</text>
<text x="277.3" y="387.5">127</text>
<text x="293.4" y="388.7">160</text>
<text x="300.5" y="378.5">163</text>
<text x="278.0" y="424.1">129</text>
<text x="278.6" y="424.1">131</text>
<text x="290.7" y="424.1">160</text>
<text x="296.9" y="424.1">137</text>
<text x="303.1" y="424.1">139</text>
<text x="307.1" y="424.1">141</text>
<text x="311.1" y="424.1">142</text>
<text x="315.1" y="424.1">146</text>
<text x="319.1" y="424.1">150</text>
<text x="331.5" y="424.1">174</text>
<text x="339.1" y="424.1">181</text>
<text x="301.1" y="424.1">141</text>
<text x="303.3" y="424.1">119</text>
<text x="305.5" y="424.1">150</text>
<text x="307.7" y="424.1">183</text>
<text x="309.9" y="424.1">106</text>
<text x="312.1" y="424.1">109</text>
<text x="314.3" y="424.1">168</text>
<text x="316.5" y="424.1">112</text>
<text x="318.7" y="424.1">146</text>
<text x="320.9" y="424.1">174</text>
<text x="323.1" y="424.1">107</text>
</g>
<path d="M212.2,376.7 C215.0,377.5 223.5,380.8 228.9,381.5 C234.3,382.2 239.4,382.1 244.4,380.9 C249.4,379.7 254.0,377.6 258.8,374.3 C263.6,371.0 269.1,364.8 273.1,361.2 C277.1,357.6 279.8,354.9 282.6,352.8 C285.4,350.7 287.4,348.7 289.8,348.7 C292.2,348.7 294.5,349.1 296.9,352.8 C299.3,356.5 301.5,364.4 304.1,370.8 C306.7,377.2 309.1,382.8 312.5,391.0 C315.9,399.1 322.4,414.9 324.4,419.7" fill="none" stroke="#3366FF" stroke-width="1.7"/>
<rect x="0" y="0" width="602.4" height="440.5" fill="none" stroke="#333" stroke-width="1.8"/>
<line x1="-4.3" x2="0" y1="420.9" y2="420.9" class="tk"/>
<text class="ax" x="-7.6" y="426.3" text-anchor="end" textLength="21.55" lengthAdjust="spacingAndGlyphs">0.0</text>
<line x1="-4.3" x2="0" y1="363.7" y2="363.7" class="tk"/>
<text class="ax" x="-7.6" y="369.1" text-anchor="end" textLength="21.55" lengthAdjust="spacingAndGlyphs">0.1</text>
<line x1="-4.3" x2="0" y1="306.4" y2="306.4" class="tk"/>
<text class="ax" x="-7.6" y="311.8" text-anchor="end" textLength="21.55" lengthAdjust="spacingAndGlyphs">0.2</text>
<line x1="-4.3" x2="0" y1="249.2" y2="249.2" class="tk"/>
<text class="ax" x="-7.6" y="254.6" text-anchor="end" textLength="21.55" lengthAdjust="spacingAndGlyphs">0.3</text>
<line x1="-4.3" x2="0" y1="191.9" y2="191.9" class="tk"/>
<text class="ax" x="-7.6" y="197.3" text-anchor="end" textLength="21.55" lengthAdjust="spacingAndGlyphs">0.4</text>
<line x1="-4.3" x2="0" y1="134.7" y2="134.7" class="tk"/>
<text class="ax" x="-7.6" y="140.1" text-anchor="end" textLength="21.55" lengthAdjust="spacingAndGlyphs">0.5</text>
<line x1="-4.3" x2="0" y1="77.5" y2="77.5" class="tk"/>
<text class="ax" x="-7.6" y="82.9" text-anchor="end" textLength="21.55" lengthAdjust="spacingAndGlyphs">0.6</text>
<line x1="-4.3" x2="0" y1="20.2" y2="20.2" class="tk"/>
<text class="ax" x="-7.6" y="25.6" text-anchor="end" textLength="21.55" lengthAdjust="spacingAndGlyphs">0.7</text>
<line x1="27.7" x2="27.7" y1="440.5" y2="445.1" class="tk"/>
<text class="ax" x="39.7" y="458.6" text-anchor="end" textLength="34.91" lengthAdjust="spacingAndGlyphs">−100</text>
<line x1="92.1" x2="92.1" y1="440.5" y2="445.1" class="tk"/>
<text class="ax" x="104.1" y="458.6" text-anchor="end" textLength="26.29" lengthAdjust="spacingAndGlyphs">−80</text>
<line x1="156.5" x2="156.5" y1="440.5" y2="445.1" class="tk"/>
<text class="ax" x="168.5" y="458.6" text-anchor="end" textLength="26.29" lengthAdjust="spacingAndGlyphs">−60</text>
<line x1="221.0" x2="221.0" y1="440.5" y2="445.1" class="tk"/>
<text class="ax" x="233.0" y="458.6" text-anchor="end" textLength="26.29" lengthAdjust="spacingAndGlyphs">−40</text>
<line x1="285.4" x2="285.4" y1="440.5" y2="445.1" class="tk"/>
<text class="ax" x="297.4" y="458.6" text-anchor="end" textLength="26.29" lengthAdjust="spacingAndGlyphs">−20</text>
<line x1="349.8" x2="349.8" y1="440.5" y2="445.1" class="tk"/>
<text class="ax" x="361.8" y="458.6" text-anchor="end" textLength="8.62" lengthAdjust="spacingAndGlyphs">0</text>
<line x1="414.2" x2="414.2" y1="440.5" y2="445.1" class="tk"/>
<text class="ax" x="426.2" y="458.6" text-anchor="end" textLength="17.24" lengthAdjust="spacingAndGlyphs">20</text>
<line x1="478.6" x2="478.6" y1="440.5" y2="445.1" class="tk"/>
<text class="ax" x="490.6" y="458.6" text-anchor="end" textLength="17.24" lengthAdjust="spacingAndGlyphs">40</text>
<line x1="543.1" x2="543.1" y1="440.5" y2="445.1" class="tk"/>
<text class="ax" x="555.1" y="458.6" text-anchor="end" textLength="17.24" lengthAdjust="spacingAndGlyphs">60</text>
<text class="at" x="313.2" y="477.6" text-anchor="middle" textLength="155.36" lengthAdjust="spacingAndGlyphs">Mobility (% changed)</text>
<text class="at" transform="translate(-37.2,220.2) rotate(-90)" text-anchor="middle" textLength="74.70" lengthAdjust="spacingAndGlyphs">Case ratio</text>
<text class="lt" x="523.5" y="72.0" textLength="48.93" lengthAdjust="spacingAndGlyphs">Month</text>
<circle cx="537.1" cy="96.0" r="8.7" fill="rgb(152,78,163)" fill-opacity="0.42" stroke="#a0a0a0" stroke-width="1.2"/>
<text class="ll" x="558.3" y="101.0" textLength="22.64" lengthAdjust="spacingAndGlyphs">Jun</text>
<circle cx="537.1" cy="122.8" r="8.7" fill="rgb(255,127,0)" fill-opacity="0.3" stroke="#a0a0a0" stroke-width="1.2"/>
<text class="ll" x="558.3" y="127.8" textLength="17.95" lengthAdjust="spacingAndGlyphs">Jul</text>
<circle cx="537.1" cy="149.7" r="8.7" fill="rgb(255,255,51)" fill-opacity="0.38" stroke="#a0a0a0" stroke-width="1.2"/>
<text class="ll" x="558.3" y="154.7" textLength="24.98" lengthAdjust="spacingAndGlyphs">Aug</text>
</g>
</svg></body></html>
